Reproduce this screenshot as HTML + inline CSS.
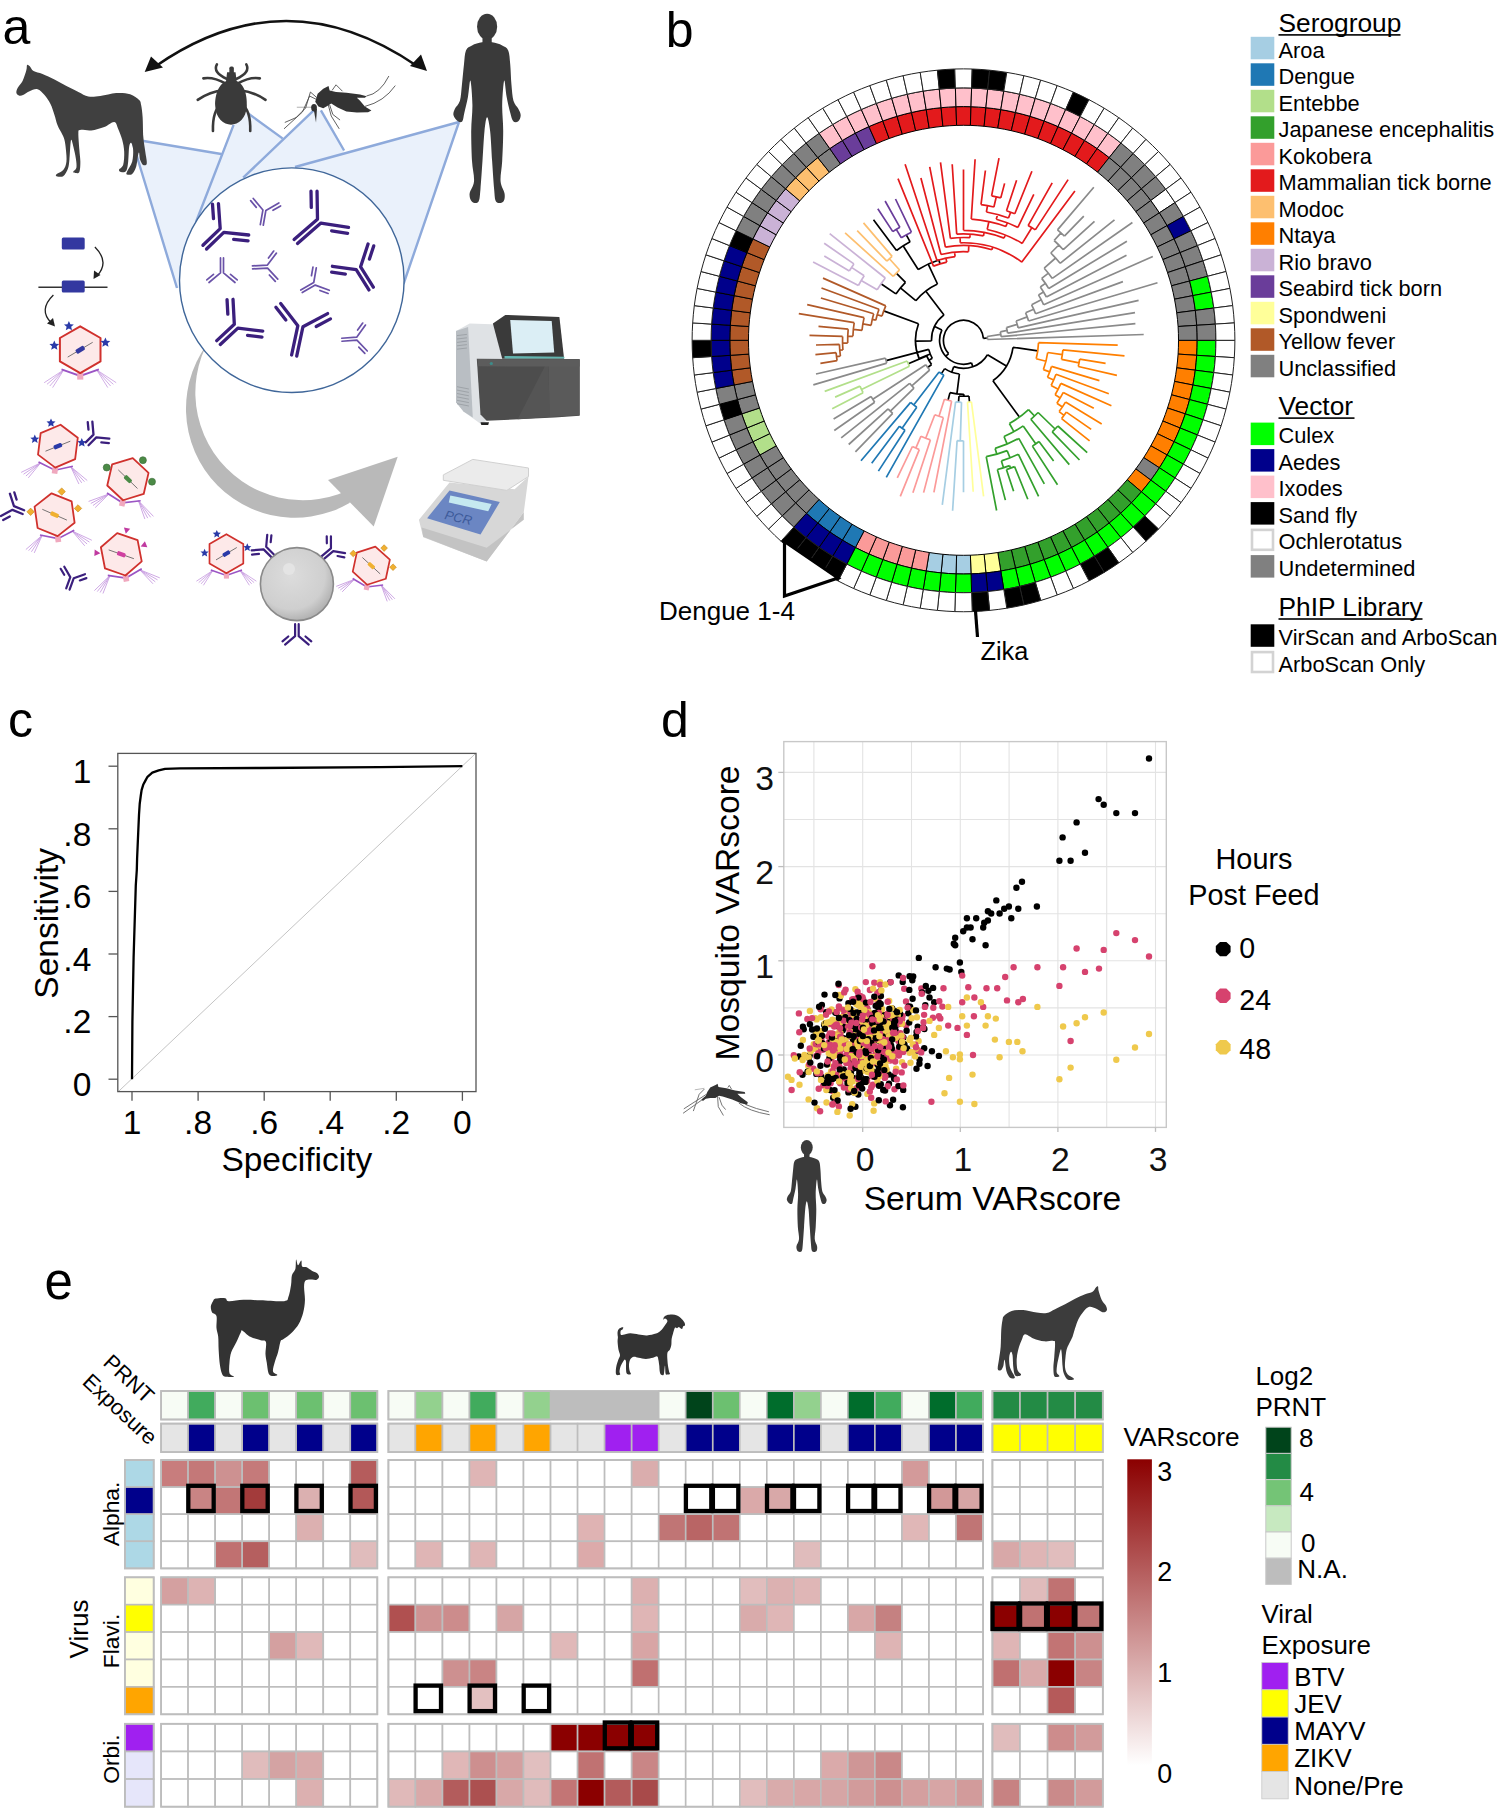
<!DOCTYPE html><html><head><meta charset="utf-8"><style>html,body{margin:0;padding:0;background:#fff;}svg{display:block;}</style></head><body><svg width="1499" height="1809" viewBox="0 0 1499 1809" font-family='"Liberation Sans", sans-serif'>
<rect width="1499" height="1809" fill="#fff"/>
<text x="2.5" y="43.6" font-size="50" text-anchor="start" fill="#000" >a</text>
<text x="665.8" y="46.8" font-size="50" text-anchor="start" fill="#000" >b</text>
<text x="8" y="737.2" font-size="50" text-anchor="start" fill="#000" >c</text>
<text x="661" y="737.3" font-size="50" text-anchor="start" fill="#000" >d</text>
<text x="44.4" y="1299.2" font-size="51" text-anchor="start" fill="#000" >e</text>
<g id="pb">
<path d="M1178.5 340.3L1197.2 340.3A233.7 233.7 0 0 1 1196.7 355.3L1178.1 354.1A215 215 0 0 0 1178.5 340.3Z" fill="#ff7f00" stroke="#000" stroke-width="1"/>
<path d="M1178.1 354.1L1196.7 355.3A233.7 233.7 0 0 1 1195.3 370.2L1176.7 367.8A215 215 0 0 0 1178.1 354.1Z" fill="#ff7f00" stroke="#000" stroke-width="1"/>
<path d="M1176.7 367.8L1195.3 370.2A233.7 233.7 0 0 1 1192.9 385L1174.5 381.4A215 215 0 0 0 1176.7 367.8Z" fill="#ff7f00" stroke="#000" stroke-width="1"/>
<path d="M1174.5 381.4L1192.9 385A233.7 233.7 0 0 1 1189.6 399.6L1171.5 394.8A215 215 0 0 0 1174.5 381.4Z" fill="#ff7f00" stroke="#000" stroke-width="1"/>
<path d="M1171.5 394.8L1189.6 399.6A233.7 233.7 0 0 1 1185.3 413.9L1167.5 408A215 215 0 0 0 1171.5 394.8Z" fill="#ff7f00" stroke="#000" stroke-width="1"/>
<path d="M1167.5 408L1185.3 413.9A233.7 233.7 0 0 1 1180.1 428L1162.8 421A215 215 0 0 0 1167.5 408Z" fill="#ff7f00" stroke="#000" stroke-width="1"/>
<path d="M1162.8 421L1180.1 428A233.7 233.7 0 0 1 1174.1 441.7L1157.2 433.6A215 215 0 0 0 1162.8 421Z" fill="#ff7f00" stroke="#000" stroke-width="1"/>
<path d="M1157.2 433.6L1174.1 441.7A233.7 233.7 0 0 1 1167.1 455L1150.8 445.8A215 215 0 0 0 1157.2 433.6Z" fill="#ff7f00" stroke="#000" stroke-width="1"/>
<path d="M1150.8 445.8L1167.1 455A233.7 233.7 0 0 1 1159.4 467.8L1143.7 457.6A215 215 0 0 0 1150.8 445.8Z" fill="#ff7f00" stroke="#000" stroke-width="1"/>
<path d="M1143.7 457.6L1159.4 467.8A233.7 233.7 0 0 1 1150.8 480.1L1135.8 468.9A215 215 0 0 0 1143.7 457.6Z" fill="#808080" stroke="#000" stroke-width="1"/>
<path d="M1135.8 468.9L1150.8 480.1A233.7 233.7 0 0 1 1141.4 491.8L1127.2 479.7A215 215 0 0 0 1135.8 468.9Z" fill="#ff7f00" stroke="#000" stroke-width="1"/>
<path d="M1127.2 479.7L1141.4 491.8A233.7 233.7 0 0 1 1131.4 502.9L1117.9 489.9A215 215 0 0 0 1127.2 479.7Z" fill="#33a02c" stroke="#000" stroke-width="1"/>
<path d="M1117.9 489.9L1131.4 502.9A233.7 233.7 0 0 1 1120.6 513.3L1108 499.5A215 215 0 0 0 1117.9 489.9Z" fill="#33a02c" stroke="#000" stroke-width="1"/>
<path d="M1108 499.5L1120.6 513.3A233.7 233.7 0 0 1 1109.2 523L1097.6 508.4A215 215 0 0 0 1108 499.5Z" fill="#33a02c" stroke="#000" stroke-width="1"/>
<path d="M1097.6 508.4L1109.2 523A233.7 233.7 0 0 1 1097.2 532L1086.5 516.6A215 215 0 0 0 1097.6 508.4Z" fill="#33a02c" stroke="#000" stroke-width="1"/>
<path d="M1086.5 516.6L1097.2 532A233.7 233.7 0 0 1 1084.6 540.1L1075 524.2A215 215 0 0 0 1086.5 516.6Z" fill="#33a02c" stroke="#000" stroke-width="1"/>
<path d="M1075 524.2L1084.6 540.1A233.7 233.7 0 0 1 1071.6 547.5L1062.9 530.9A215 215 0 0 0 1075 524.2Z" fill="#33a02c" stroke="#000" stroke-width="1"/>
<path d="M1062.9 530.9L1071.6 547.5A233.7 233.7 0 0 1 1058.1 554L1050.5 536.9A215 215 0 0 0 1062.9 530.9Z" fill="#33a02c" stroke="#000" stroke-width="1"/>
<path d="M1050.5 536.9L1058.1 554A233.7 233.7 0 0 1 1044.2 559.6L1037.8 542.1A215 215 0 0 0 1050.5 536.9Z" fill="#33a02c" stroke="#000" stroke-width="1"/>
<path d="M1037.8 542.1L1044.2 559.6A233.7 233.7 0 0 1 1030 564.3L1024.7 546.4A215 215 0 0 0 1037.8 542.1Z" fill="#33a02c" stroke="#000" stroke-width="1"/>
<path d="M1024.7 546.4L1030 564.3A233.7 233.7 0 0 1 1015.5 568.1L1011.3 549.9A215 215 0 0 0 1024.7 546.4Z" fill="#33a02c" stroke="#000" stroke-width="1"/>
<path d="M1011.3 549.9L1015.5 568.1A233.7 233.7 0 0 1 1000.8 571L997.8 552.5A215 215 0 0 0 1011.3 549.9Z" fill="#33a02c" stroke="#000" stroke-width="1"/>
<path d="M997.8 552.5L1000.8 571A233.7 233.7 0 0 1 985.9 572.9L984.1 554.3A215 215 0 0 0 997.8 552.5Z" fill="#ffff99" stroke="#000" stroke-width="1"/>
<path d="M984.1 554.3L985.9 572.9A233.7 233.7 0 0 1 971 573.9L970.4 555.2A215 215 0 0 0 984.1 554.3Z" fill="#ffff99" stroke="#000" stroke-width="1"/>
<path d="M970.4 555.2L971 573.9A233.7 233.7 0 0 1 956 573.9L956.6 555.2A215 215 0 0 0 970.4 555.2Z" fill="#a6cee3" stroke="#000" stroke-width="1"/>
<path d="M956.6 555.2L956 573.9A233.7 233.7 0 0 1 941.1 572.9L942.9 554.3A215 215 0 0 0 956.6 555.2Z" fill="#a6cee3" stroke="#000" stroke-width="1"/>
<path d="M942.9 554.3L941.1 572.9A233.7 233.7 0 0 1 926.2 571L929.2 552.5A215 215 0 0 0 942.9 554.3Z" fill="#a6cee3" stroke="#000" stroke-width="1"/>
<path d="M929.2 552.5L926.2 571A233.7 233.7 0 0 1 911.5 568.1L915.7 549.9A215 215 0 0 0 929.2 552.5Z" fill="#fb9a99" stroke="#000" stroke-width="1"/>
<path d="M915.7 549.9L911.5 568.1A233.7 233.7 0 0 1 897 564.3L902.3 546.4A215 215 0 0 0 915.7 549.9Z" fill="#fb9a99" stroke="#000" stroke-width="1"/>
<path d="M902.3 546.4L897 564.3A233.7 233.7 0 0 1 882.8 559.6L889.2 542.1A215 215 0 0 0 902.3 546.4Z" fill="#fb9a99" stroke="#000" stroke-width="1"/>
<path d="M889.2 542.1L882.8 559.6A233.7 233.7 0 0 1 868.9 554L876.5 536.9A215 215 0 0 0 889.2 542.1Z" fill="#fb9a99" stroke="#000" stroke-width="1"/>
<path d="M876.5 536.9L868.9 554A233.7 233.7 0 0 1 855.4 547.5L864.1 530.9A215 215 0 0 0 876.5 536.9Z" fill="#fb9a99" stroke="#000" stroke-width="1"/>
<path d="M864.1 530.9L855.4 547.5A233.7 233.7 0 0 1 842.4 540.1L852 524.2A215 215 0 0 0 864.1 530.9Z" fill="#1f78b4" stroke="#000" stroke-width="1"/>
<path d="M852 524.2L842.4 540.1A233.7 233.7 0 0 1 829.8 532L840.5 516.6A215 215 0 0 0 852 524.2Z" fill="#1f78b4" stroke="#000" stroke-width="1"/>
<path d="M840.5 516.6L829.8 532A233.7 233.7 0 0 1 817.8 523L829.4 508.4A215 215 0 0 0 840.5 516.6Z" fill="#1f78b4" stroke="#000" stroke-width="1"/>
<path d="M829.4 508.4L817.8 523A233.7 233.7 0 0 1 806.4 513.3L819 499.5A215 215 0 0 0 829.4 508.4Z" fill="#1f78b4" stroke="#000" stroke-width="1"/>
<path d="M819 499.5L806.4 513.3A233.7 233.7 0 0 1 795.6 502.9L809.1 489.9A215 215 0 0 0 819 499.5Z" fill="#808080" stroke="#000" stroke-width="1"/>
<path d="M809.1 489.9L795.6 502.9A233.7 233.7 0 0 1 785.6 491.8L799.8 479.7A215 215 0 0 0 809.1 489.9Z" fill="#808080" stroke="#000" stroke-width="1"/>
<path d="M799.8 479.7L785.6 491.8A233.7 233.7 0 0 1 776.2 480.1L791.2 468.9A215 215 0 0 0 799.8 479.7Z" fill="#808080" stroke="#000" stroke-width="1"/>
<path d="M791.2 468.9L776.2 480.1A233.7 233.7 0 0 1 767.6 467.8L783.3 457.6A215 215 0 0 0 791.2 468.9Z" fill="#808080" stroke="#000" stroke-width="1"/>
<path d="M783.3 457.6L767.6 467.8A233.7 233.7 0 0 1 759.9 455L776.2 445.8A215 215 0 0 0 783.3 457.6Z" fill="#808080" stroke="#000" stroke-width="1"/>
<path d="M776.2 445.8L759.9 455A233.7 233.7 0 0 1 752.9 441.7L769.8 433.6A215 215 0 0 0 776.2 445.8Z" fill="#b2df8a" stroke="#000" stroke-width="1"/>
<path d="M769.8 433.6L752.9 441.7A233.7 233.7 0 0 1 746.9 428L764.2 421A215 215 0 0 0 769.8 433.6Z" fill="#b2df8a" stroke="#000" stroke-width="1"/>
<path d="M764.2 421L746.9 428A233.7 233.7 0 0 1 741.7 413.9L759.5 408A215 215 0 0 0 764.2 421Z" fill="#b2df8a" stroke="#000" stroke-width="1"/>
<path d="M759.5 408L741.7 413.9A233.7 233.7 0 0 1 737.4 399.6L755.5 394.8A215 215 0 0 0 759.5 408Z" fill="#808080" stroke="#000" stroke-width="1"/>
<path d="M755.5 394.8L737.4 399.6A233.7 233.7 0 0 1 734.1 385L752.5 381.4A215 215 0 0 0 755.5 394.8Z" fill="#808080" stroke="#000" stroke-width="1"/>
<path d="M752.5 381.4L734.1 385A233.7 233.7 0 0 1 731.7 370.2L750.3 367.8A215 215 0 0 0 752.5 381.4Z" fill="#b15928" stroke="#000" stroke-width="1"/>
<path d="M750.3 367.8L731.7 370.2A233.7 233.7 0 0 1 730.3 355.3L748.9 354.1A215 215 0 0 0 750.3 367.8Z" fill="#b15928" stroke="#000" stroke-width="1"/>
<path d="M748.9 354.1L730.3 355.3A233.7 233.7 0 0 1 729.8 340.3L748.5 340.3A215 215 0 0 0 748.9 354.1Z" fill="#b15928" stroke="#000" stroke-width="1"/>
<path d="M748.5 340.3L729.8 340.3A233.7 233.7 0 0 1 730.3 325.3L748.9 326.5A215 215 0 0 0 748.5 340.3Z" fill="#b15928" stroke="#000" stroke-width="1"/>
<path d="M748.9 326.5L730.3 325.3A233.7 233.7 0 0 1 731.7 310.4L750.3 312.8A215 215 0 0 0 748.9 326.5Z" fill="#b15928" stroke="#000" stroke-width="1"/>
<path d="M750.3 312.8L731.7 310.4A233.7 233.7 0 0 1 734.1 295.6L752.5 299.2A215 215 0 0 0 750.3 312.8Z" fill="#b15928" stroke="#000" stroke-width="1"/>
<path d="M752.5 299.2L734.1 295.6A233.7 233.7 0 0 1 737.4 281L755.5 285.8A215 215 0 0 0 752.5 299.2Z" fill="#b15928" stroke="#000" stroke-width="1"/>
<path d="M755.5 285.8L737.4 281A233.7 233.7 0 0 1 741.7 266.7L759.5 272.6A215 215 0 0 0 755.5 285.8Z" fill="#b15928" stroke="#000" stroke-width="1"/>
<path d="M759.5 272.6L741.7 266.7A233.7 233.7 0 0 1 746.9 252.6L764.2 259.6A215 215 0 0 0 759.5 272.6Z" fill="#b15928" stroke="#000" stroke-width="1"/>
<path d="M764.2 259.6L746.9 252.6A233.7 233.7 0 0 1 752.9 238.9L769.8 247A215 215 0 0 0 764.2 259.6Z" fill="#b15928" stroke="#000" stroke-width="1"/>
<path d="M769.8 247L752.9 238.9A233.7 233.7 0 0 1 759.9 225.6L776.2 234.8A215 215 0 0 0 769.8 247Z" fill="#cab2d6" stroke="#000" stroke-width="1"/>
<path d="M776.2 234.8L759.9 225.6A233.7 233.7 0 0 1 767.6 212.8L783.3 223A215 215 0 0 0 776.2 234.8Z" fill="#cab2d6" stroke="#000" stroke-width="1"/>
<path d="M783.3 223L767.6 212.8A233.7 233.7 0 0 1 776.2 200.5L791.2 211.7A215 215 0 0 0 783.3 223Z" fill="#cab2d6" stroke="#000" stroke-width="1"/>
<path d="M791.2 211.7L776.2 200.5A233.7 233.7 0 0 1 785.6 188.8L799.8 200.9A215 215 0 0 0 791.2 211.7Z" fill="#cab2d6" stroke="#000" stroke-width="1"/>
<path d="M799.8 200.9L785.6 188.8A233.7 233.7 0 0 1 795.6 177.7L809.1 190.7A215 215 0 0 0 799.8 200.9Z" fill="#fdbf6f" stroke="#000" stroke-width="1"/>
<path d="M809.1 190.7L795.6 177.7A233.7 233.7 0 0 1 806.4 167.3L819 181.1A215 215 0 0 0 809.1 190.7Z" fill="#fdbf6f" stroke="#000" stroke-width="1"/>
<path d="M819 181.1L806.4 167.3A233.7 233.7 0 0 1 817.8 157.6L829.4 172.2A215 215 0 0 0 819 181.1Z" fill="#fdbf6f" stroke="#000" stroke-width="1"/>
<path d="M829.4 172.2L817.8 157.6A233.7 233.7 0 0 1 829.8 148.6L840.5 164A215 215 0 0 0 829.4 172.2Z" fill="#808080" stroke="#000" stroke-width="1"/>
<path d="M840.5 164L829.8 148.6A233.7 233.7 0 0 1 842.4 140.5L852 156.4A215 215 0 0 0 840.5 164Z" fill="#6a3d9a" stroke="#000" stroke-width="1"/>
<path d="M852 156.4L842.4 140.5A233.7 233.7 0 0 1 855.4 133.1L864.1 149.7A215 215 0 0 0 852 156.4Z" fill="#6a3d9a" stroke="#000" stroke-width="1"/>
<path d="M864.1 149.7L855.4 133.1A233.7 233.7 0 0 1 868.9 126.6L876.5 143.7A215 215 0 0 0 864.1 149.7Z" fill="#6a3d9a" stroke="#000" stroke-width="1"/>
<path d="M876.5 143.7L868.9 126.6A233.7 233.7 0 0 1 882.8 121L889.2 138.5A215 215 0 0 0 876.5 143.7Z" fill="#e31a1c" stroke="#000" stroke-width="1"/>
<path d="M889.2 138.5L882.8 121A233.7 233.7 0 0 1 897 116.3L902.3 134.2A215 215 0 0 0 889.2 138.5Z" fill="#e31a1c" stroke="#000" stroke-width="1"/>
<path d="M902.3 134.2L897 116.3A233.7 233.7 0 0 1 911.5 112.5L915.7 130.7A215 215 0 0 0 902.3 134.2Z" fill="#e31a1c" stroke="#000" stroke-width="1"/>
<path d="M915.7 130.7L911.5 112.5A233.7 233.7 0 0 1 926.2 109.6L929.2 128.1A215 215 0 0 0 915.7 130.7Z" fill="#e31a1c" stroke="#000" stroke-width="1"/>
<path d="M929.2 128.1L926.2 109.6A233.7 233.7 0 0 1 941.1 107.7L942.9 126.3A215 215 0 0 0 929.2 128.1Z" fill="#e31a1c" stroke="#000" stroke-width="1"/>
<path d="M942.9 126.3L941.1 107.7A233.7 233.7 0 0 1 956 106.7L956.6 125.4A215 215 0 0 0 942.9 126.3Z" fill="#e31a1c" stroke="#000" stroke-width="1"/>
<path d="M956.6 125.4L956 106.7A233.7 233.7 0 0 1 971 106.7L970.4 125.4A215 215 0 0 0 956.6 125.4Z" fill="#e31a1c" stroke="#000" stroke-width="1"/>
<path d="M970.4 125.4L971 106.7A233.7 233.7 0 0 1 985.9 107.7L984.1 126.3A215 215 0 0 0 970.4 125.4Z" fill="#e31a1c" stroke="#000" stroke-width="1"/>
<path d="M984.1 126.3L985.9 107.7A233.7 233.7 0 0 1 1000.8 109.6L997.8 128.1A215 215 0 0 0 984.1 126.3Z" fill="#e31a1c" stroke="#000" stroke-width="1"/>
<path d="M997.8 128.1L1000.8 109.6A233.7 233.7 0 0 1 1015.5 112.5L1011.3 130.7A215 215 0 0 0 997.8 128.1Z" fill="#e31a1c" stroke="#000" stroke-width="1"/>
<path d="M1011.3 130.7L1015.5 112.5A233.7 233.7 0 0 1 1030 116.3L1024.7 134.2A215 215 0 0 0 1011.3 130.7Z" fill="#e31a1c" stroke="#000" stroke-width="1"/>
<path d="M1024.7 134.2L1030 116.3A233.7 233.7 0 0 1 1044.2 121L1037.8 138.5A215 215 0 0 0 1024.7 134.2Z" fill="#e31a1c" stroke="#000" stroke-width="1"/>
<path d="M1037.8 138.5L1044.2 121A233.7 233.7 0 0 1 1058.1 126.6L1050.5 143.7A215 215 0 0 0 1037.8 138.5Z" fill="#e31a1c" stroke="#000" stroke-width="1"/>
<path d="M1050.5 143.7L1058.1 126.6A233.7 233.7 0 0 1 1071.6 133.1L1062.9 149.7A215 215 0 0 0 1050.5 143.7Z" fill="#e31a1c" stroke="#000" stroke-width="1"/>
<path d="M1062.9 149.7L1071.6 133.1A233.7 233.7 0 0 1 1084.6 140.5L1075 156.4A215 215 0 0 0 1062.9 149.7Z" fill="#e31a1c" stroke="#000" stroke-width="1"/>
<path d="M1075 156.4L1084.6 140.5A233.7 233.7 0 0 1 1097.2 148.6L1086.5 164A215 215 0 0 0 1075 156.4Z" fill="#e31a1c" stroke="#000" stroke-width="1"/>
<path d="M1086.5 164L1097.2 148.6A233.7 233.7 0 0 1 1109.2 157.6L1097.6 172.2A215 215 0 0 0 1086.5 164Z" fill="#e31a1c" stroke="#000" stroke-width="1"/>
<path d="M1097.6 172.2L1109.2 157.6A233.7 233.7 0 0 1 1120.6 167.3L1108 181.1A215 215 0 0 0 1097.6 172.2Z" fill="#808080" stroke="#000" stroke-width="1"/>
<path d="M1108 181.1L1120.6 167.3A233.7 233.7 0 0 1 1131.4 177.7L1117.9 190.7A215 215 0 0 0 1108 181.1Z" fill="#808080" stroke="#000" stroke-width="1"/>
<path d="M1117.9 190.7L1131.4 177.7A233.7 233.7 0 0 1 1141.4 188.8L1127.2 200.9A215 215 0 0 0 1117.9 190.7Z" fill="#808080" stroke="#000" stroke-width="1"/>
<path d="M1127.2 200.9L1141.4 188.8A233.7 233.7 0 0 1 1150.8 200.5L1135.8 211.7A215 215 0 0 0 1127.2 200.9Z" fill="#808080" stroke="#000" stroke-width="1"/>
<path d="M1135.8 211.7L1150.8 200.5A233.7 233.7 0 0 1 1159.4 212.8L1143.7 223A215 215 0 0 0 1135.8 211.7Z" fill="#808080" stroke="#000" stroke-width="1"/>
<path d="M1143.7 223L1159.4 212.8A233.7 233.7 0 0 1 1167.1 225.6L1150.8 234.8A215 215 0 0 0 1143.7 223Z" fill="#808080" stroke="#000" stroke-width="1"/>
<path d="M1150.8 234.8L1167.1 225.6A233.7 233.7 0 0 1 1174.1 238.9L1157.2 247A215 215 0 0 0 1150.8 234.8Z" fill="#808080" stroke="#000" stroke-width="1"/>
<path d="M1157.2 247L1174.1 238.9A233.7 233.7 0 0 1 1180.1 252.6L1162.8 259.6A215 215 0 0 0 1157.2 247Z" fill="#808080" stroke="#000" stroke-width="1"/>
<path d="M1162.8 259.6L1180.1 252.6A233.7 233.7 0 0 1 1185.3 266.7L1167.5 272.6A215 215 0 0 0 1162.8 259.6Z" fill="#808080" stroke="#000" stroke-width="1"/>
<path d="M1167.5 272.6L1185.3 266.7A233.7 233.7 0 0 1 1189.6 281L1171.5 285.8A215 215 0 0 0 1167.5 272.6Z" fill="#808080" stroke="#000" stroke-width="1"/>
<path d="M1171.5 285.8L1189.6 281A233.7 233.7 0 0 1 1192.9 295.6L1174.5 299.2A215 215 0 0 0 1171.5 285.8Z" fill="#808080" stroke="#000" stroke-width="1"/>
<path d="M1174.5 299.2L1192.9 295.6A233.7 233.7 0 0 1 1195.3 310.4L1176.7 312.8A215 215 0 0 0 1174.5 299.2Z" fill="#808080" stroke="#000" stroke-width="1"/>
<path d="M1176.7 312.8L1195.3 310.4A233.7 233.7 0 0 1 1196.7 325.3L1178.1 326.5A215 215 0 0 0 1176.7 312.8Z" fill="#808080" stroke="#000" stroke-width="1"/>
<path d="M1178.1 326.5L1196.7 325.3A233.7 233.7 0 0 1 1197.2 340.3L1178.5 340.3A215 215 0 0 0 1178.1 326.5Z" fill="#808080" stroke="#000" stroke-width="1"/>
<path d="M1197.2 340.3L1215.9 340.3A252.4 252.4 0 0 1 1215.4 356.5L1196.7 355.3A233.7 233.7 0 0 0 1197.2 340.3Z" fill="#00ff00" stroke="#000" stroke-width="1"/>
<path d="M1196.7 355.3L1215.4 356.5A252.4 252.4 0 0 1 1213.8 372.6L1195.3 370.2A233.7 233.7 0 0 0 1196.7 355.3Z" fill="#00ff00" stroke="#000" stroke-width="1"/>
<path d="M1195.3 370.2L1213.8 372.6A252.4 252.4 0 0 1 1211.2 388.5L1192.9 385A233.7 233.7 0 0 0 1195.3 370.2Z" fill="#00ff00" stroke="#000" stroke-width="1"/>
<path d="M1192.9 385L1211.2 388.5A252.4 252.4 0 0 1 1207.6 404.3L1189.6 399.6A233.7 233.7 0 0 0 1192.9 385Z" fill="#00ff00" stroke="#000" stroke-width="1"/>
<path d="M1189.6 399.6L1207.6 404.3A252.4 252.4 0 0 1 1203 419.8L1185.3 413.9A233.7 233.7 0 0 0 1189.6 399.6Z" fill="#00ff00" stroke="#000" stroke-width="1"/>
<path d="M1185.3 413.9L1203 419.8A252.4 252.4 0 0 1 1197.5 435L1180.1 428A233.7 233.7 0 0 0 1185.3 413.9Z" fill="#00ff00" stroke="#000" stroke-width="1"/>
<path d="M1180.1 428L1197.5 435A252.4 252.4 0 0 1 1190.9 449.8L1174.1 441.7A233.7 233.7 0 0 0 1180.1 428Z" fill="#00ff00" stroke="#000" stroke-width="1"/>
<path d="M1174.1 441.7L1190.9 449.8A252.4 252.4 0 0 1 1183.4 464.2L1167.1 455A233.7 233.7 0 0 0 1174.1 441.7Z" fill="#00ff00" stroke="#000" stroke-width="1"/>
<path d="M1167.1 455L1183.4 464.2A252.4 252.4 0 0 1 1175 478L1159.4 467.8A233.7 233.7 0 0 0 1167.1 455Z" fill="#00ff00" stroke="#000" stroke-width="1"/>
<path d="M1159.4 467.8L1175 478A252.4 252.4 0 0 1 1165.8 491.3L1150.8 480.1A233.7 233.7 0 0 0 1159.4 467.8Z" fill="#00ff00" stroke="#000" stroke-width="1"/>
<path d="M1150.8 480.1L1165.8 491.3A252.4 252.4 0 0 1 1155.7 503.9L1141.4 491.8A233.7 233.7 0 0 0 1150.8 480.1Z" fill="#00ff00" stroke="#000" stroke-width="1"/>
<path d="M1141.4 491.8L1155.7 503.9A252.4 252.4 0 0 1 1144.8 515.9L1131.4 502.9A233.7 233.7 0 0 0 1141.4 491.8Z" fill="#00ff00" stroke="#000" stroke-width="1"/>
<path d="M1131.4 502.9L1144.8 515.9A252.4 252.4 0 0 1 1133.2 527.1L1120.6 513.3A233.7 233.7 0 0 0 1131.4 502.9Z" fill="#00ff00" stroke="#000" stroke-width="1"/>
<path d="M1120.6 513.3L1133.2 527.1A252.4 252.4 0 0 1 1120.9 537.6L1109.2 523A233.7 233.7 0 0 0 1120.6 513.3Z" fill="#00ff00" stroke="#000" stroke-width="1"/>
<path d="M1109.2 523L1120.9 537.6A252.4 252.4 0 0 1 1107.9 547.3L1097.2 532A233.7 233.7 0 0 0 1109.2 523Z" fill="#00ff00" stroke="#000" stroke-width="1"/>
<path d="M1097.2 532L1107.9 547.3A252.4 252.4 0 0 1 1094.3 556.1L1084.6 540.1A233.7 233.7 0 0 0 1097.2 532Z" fill="#00ff00" stroke="#000" stroke-width="1"/>
<path d="M1084.6 540.1L1094.3 556.1A252.4 252.4 0 0 1 1080.2 564.1L1071.6 547.5A233.7 233.7 0 0 0 1084.6 540.1Z" fill="#00ff00" stroke="#000" stroke-width="1"/>
<path d="M1071.6 547.5L1080.2 564.1A252.4 252.4 0 0 1 1065.7 571.1L1058.1 554A233.7 233.7 0 0 0 1071.6 547.5Z" fill="#00ff00" stroke="#000" stroke-width="1"/>
<path d="M1058.1 554L1065.7 571.1A252.4 252.4 0 0 1 1050.7 577.2L1044.2 559.6A233.7 233.7 0 0 0 1058.1 554Z" fill="#00ff00" stroke="#000" stroke-width="1"/>
<path d="M1044.2 559.6L1050.7 577.2A252.4 252.4 0 0 1 1035.3 582.3L1030 564.3A233.7 233.7 0 0 0 1044.2 559.6Z" fill="#00ff00" stroke="#000" stroke-width="1"/>
<path d="M1030 564.3L1035.3 582.3A252.4 252.4 0 0 1 1019.7 586.4L1015.5 568.1A233.7 233.7 0 0 0 1030 564.3Z" fill="#00ff00" stroke="#000" stroke-width="1"/>
<path d="M1015.5 568.1L1019.7 586.4A252.4 252.4 0 0 1 1003.8 589.5L1000.8 571A233.7 233.7 0 0 0 1015.5 568.1Z" fill="#00ff00" stroke="#000" stroke-width="1"/>
<path d="M1000.8 571L1003.8 589.5A252.4 252.4 0 0 1 987.7 591.5L985.9 572.9A233.7 233.7 0 0 0 1000.8 571Z" fill="#00008b" stroke="#000" stroke-width="1"/>
<path d="M985.9 572.9L987.7 591.5A252.4 252.4 0 0 1 971.6 592.6L971 573.9A233.7 233.7 0 0 0 985.9 572.9Z" fill="#00008b" stroke="#000" stroke-width="1"/>
<path d="M971 573.9L971.6 592.6A252.4 252.4 0 0 1 955.4 592.6L956 573.9A233.7 233.7 0 0 0 971 573.9Z" fill="#00ff00" stroke="#000" stroke-width="1"/>
<path d="M956 573.9L955.4 592.6A252.4 252.4 0 0 1 939.3 591.5L941.1 572.9A233.7 233.7 0 0 0 956 573.9Z" fill="#00ff00" stroke="#000" stroke-width="1"/>
<path d="M941.1 572.9L939.3 591.5A252.4 252.4 0 0 1 923.2 589.5L926.2 571A233.7 233.7 0 0 0 941.1 572.9Z" fill="#00ff00" stroke="#000" stroke-width="1"/>
<path d="M926.2 571L923.2 589.5A252.4 252.4 0 0 1 907.3 586.4L911.5 568.1A233.7 233.7 0 0 0 926.2 571Z" fill="#00ff00" stroke="#000" stroke-width="1"/>
<path d="M911.5 568.1L907.3 586.4A252.4 252.4 0 0 1 891.7 582.3L897 564.3A233.7 233.7 0 0 0 911.5 568.1Z" fill="#00ff00" stroke="#000" stroke-width="1"/>
<path d="M897 564.3L891.7 582.3A252.4 252.4 0 0 1 876.3 577.2L882.8 559.6A233.7 233.7 0 0 0 897 564.3Z" fill="#00ff00" stroke="#000" stroke-width="1"/>
<path d="M882.8 559.6L876.3 577.2A252.4 252.4 0 0 1 861.3 571.1L868.9 554A233.7 233.7 0 0 0 882.8 559.6Z" fill="#00ff00" stroke="#000" stroke-width="1"/>
<path d="M868.9 554L861.3 571.1A252.4 252.4 0 0 1 846.8 564.1L855.4 547.5A233.7 233.7 0 0 0 868.9 554Z" fill="#00ff00" stroke="#000" stroke-width="1"/>
<path d="M855.4 547.5L846.8 564.1A252.4 252.4 0 0 1 832.7 556.1L842.4 540.1A233.7 233.7 0 0 0 855.4 547.5Z" fill="#00008b" stroke="#000" stroke-width="1"/>
<path d="M842.4 540.1L832.7 556.1A252.4 252.4 0 0 1 819.1 547.3L829.8 532A233.7 233.7 0 0 0 842.4 540.1Z" fill="#00008b" stroke="#000" stroke-width="1"/>
<path d="M829.8 532L819.1 547.3A252.4 252.4 0 0 1 806.1 537.6L817.8 523A233.7 233.7 0 0 0 829.8 532Z" fill="#00008b" stroke="#000" stroke-width="1"/>
<path d="M817.8 523L806.1 537.6A252.4 252.4 0 0 1 793.8 527.1L806.4 513.3A233.7 233.7 0 0 0 817.8 523Z" fill="#00008b" stroke="#000" stroke-width="1"/>
<path d="M806.4 513.3L793.8 527.1A252.4 252.4 0 0 1 782.2 515.9L795.6 502.9A233.7 233.7 0 0 0 806.4 513.3Z" fill="#808080" stroke="#000" stroke-width="1"/>
<path d="M795.6 502.9L782.2 515.9A252.4 252.4 0 0 1 771.3 503.9L785.6 491.8A233.7 233.7 0 0 0 795.6 502.9Z" fill="#808080" stroke="#000" stroke-width="1"/>
<path d="M785.6 491.8L771.3 503.9A252.4 252.4 0 0 1 761.2 491.3L776.2 480.1A233.7 233.7 0 0 0 785.6 491.8Z" fill="#808080" stroke="#000" stroke-width="1"/>
<path d="M776.2 480.1L761.2 491.3A252.4 252.4 0 0 1 752 478L767.6 467.8A233.7 233.7 0 0 0 776.2 480.1Z" fill="#808080" stroke="#000" stroke-width="1"/>
<path d="M767.6 467.8L752 478A252.4 252.4 0 0 1 743.6 464.2L759.9 455A233.7 233.7 0 0 0 767.6 467.8Z" fill="#808080" stroke="#000" stroke-width="1"/>
<path d="M759.9 455L743.6 464.2A252.4 252.4 0 0 1 736.1 449.8L752.9 441.7A233.7 233.7 0 0 0 759.9 455Z" fill="#808080" stroke="#000" stroke-width="1"/>
<path d="M752.9 441.7L736.1 449.8A252.4 252.4 0 0 1 729.5 435L746.9 428A233.7 233.7 0 0 0 752.9 441.7Z" fill="#808080" stroke="#000" stroke-width="1"/>
<path d="M746.9 428L729.5 435A252.4 252.4 0 0 1 724 419.8L741.7 413.9A233.7 233.7 0 0 0 746.9 428Z" fill="#808080" stroke="#000" stroke-width="1"/>
<path d="M741.7 413.9L724 419.8A252.4 252.4 0 0 1 719.4 404.3L737.4 399.6A233.7 233.7 0 0 0 741.7 413.9Z" fill="#000000" stroke="#000" stroke-width="1"/>
<path d="M737.4 399.6L719.4 404.3A252.4 252.4 0 0 1 715.8 388.5L734.1 385A233.7 233.7 0 0 0 737.4 399.6Z" fill="#808080" stroke="#000" stroke-width="1"/>
<path d="M734.1 385L715.8 388.5A252.4 252.4 0 0 1 713.2 372.6L731.7 370.2A233.7 233.7 0 0 0 734.1 385Z" fill="#00008b" stroke="#000" stroke-width="1"/>
<path d="M731.7 370.2L713.2 372.6A252.4 252.4 0 0 1 711.6 356.5L730.3 355.3A233.7 233.7 0 0 0 731.7 370.2Z" fill="#00008b" stroke="#000" stroke-width="1"/>
<path d="M730.3 355.3L711.6 356.5A252.4 252.4 0 0 1 711.1 340.3L729.8 340.3A233.7 233.7 0 0 0 730.3 355.3Z" fill="#00008b" stroke="#000" stroke-width="1"/>
<path d="M729.8 340.3L711.1 340.3A252.4 252.4 0 0 1 711.6 324.1L730.3 325.3A233.7 233.7 0 0 0 729.8 340.3Z" fill="#00008b" stroke="#000" stroke-width="1"/>
<path d="M730.3 325.3L711.6 324.1A252.4 252.4 0 0 1 713.2 308L731.7 310.4A233.7 233.7 0 0 0 730.3 325.3Z" fill="#00008b" stroke="#000" stroke-width="1"/>
<path d="M731.7 310.4L713.2 308A252.4 252.4 0 0 1 715.8 292.1L734.1 295.6A233.7 233.7 0 0 0 731.7 310.4Z" fill="#00008b" stroke="#000" stroke-width="1"/>
<path d="M734.1 295.6L715.8 292.1A252.4 252.4 0 0 1 719.4 276.3L737.4 281A233.7 233.7 0 0 0 734.1 295.6Z" fill="#00008b" stroke="#000" stroke-width="1"/>
<path d="M737.4 281L719.4 276.3A252.4 252.4 0 0 1 724 260.8L741.7 266.7A233.7 233.7 0 0 0 737.4 281Z" fill="#00008b" stroke="#000" stroke-width="1"/>
<path d="M741.7 266.7L724 260.8A252.4 252.4 0 0 1 729.5 245.6L746.9 252.6A233.7 233.7 0 0 0 741.7 266.7Z" fill="#00008b" stroke="#000" stroke-width="1"/>
<path d="M746.9 252.6L729.5 245.6A252.4 252.4 0 0 1 736.1 230.8L752.9 238.9A233.7 233.7 0 0 0 746.9 252.6Z" fill="#000000" stroke="#000" stroke-width="1"/>
<path d="M752.9 238.9L736.1 230.8A252.4 252.4 0 0 1 743.6 216.4L759.9 225.6A233.7 233.7 0 0 0 752.9 238.9Z" fill="#808080" stroke="#000" stroke-width="1"/>
<path d="M759.9 225.6L743.6 216.4A252.4 252.4 0 0 1 752 202.6L767.6 212.8A233.7 233.7 0 0 0 759.9 225.6Z" fill="#808080" stroke="#000" stroke-width="1"/>
<path d="M767.6 212.8L752 202.6A252.4 252.4 0 0 1 761.2 189.3L776.2 200.5A233.7 233.7 0 0 0 767.6 212.8Z" fill="#808080" stroke="#000" stroke-width="1"/>
<path d="M776.2 200.5L761.2 189.3A252.4 252.4 0 0 1 771.3 176.7L785.6 188.8A233.7 233.7 0 0 0 776.2 200.5Z" fill="#808080" stroke="#000" stroke-width="1"/>
<path d="M785.6 188.8L771.3 176.7A252.4 252.4 0 0 1 782.2 164.7L795.6 177.7A233.7 233.7 0 0 0 785.6 188.8Z" fill="#808080" stroke="#000" stroke-width="1"/>
<path d="M795.6 177.7L782.2 164.7A252.4 252.4 0 0 1 793.8 153.5L806.4 167.3A233.7 233.7 0 0 0 795.6 177.7Z" fill="#808080" stroke="#000" stroke-width="1"/>
<path d="M806.4 167.3L793.8 153.5A252.4 252.4 0 0 1 806.1 143L817.8 157.6A233.7 233.7 0 0 0 806.4 167.3Z" fill="#808080" stroke="#000" stroke-width="1"/>
<path d="M817.8 157.6L806.1 143A252.4 252.4 0 0 1 819.1 133.3L829.8 148.6A233.7 233.7 0 0 0 817.8 157.6Z" fill="#808080" stroke="#000" stroke-width="1"/>
<path d="M829.8 148.6L819.1 133.3A252.4 252.4 0 0 1 832.7 124.5L842.4 140.5A233.7 233.7 0 0 0 829.8 148.6Z" fill="#ffc0cb" stroke="#000" stroke-width="1"/>
<path d="M842.4 140.5L832.7 124.5A252.4 252.4 0 0 1 846.8 116.5L855.4 133.1A233.7 233.7 0 0 0 842.4 140.5Z" fill="#ffc0cb" stroke="#000" stroke-width="1"/>
<path d="M855.4 133.1L846.8 116.5A252.4 252.4 0 0 1 861.3 109.5L868.9 126.6A233.7 233.7 0 0 0 855.4 133.1Z" fill="#ffc0cb" stroke="#000" stroke-width="1"/>
<path d="M868.9 126.6L861.3 109.5A252.4 252.4 0 0 1 876.3 103.4L882.8 121A233.7 233.7 0 0 0 868.9 126.6Z" fill="#ffc0cb" stroke="#000" stroke-width="1"/>
<path d="M882.8 121L876.3 103.4A252.4 252.4 0 0 1 891.7 98.3L897 116.3A233.7 233.7 0 0 0 882.8 121Z" fill="#ffc0cb" stroke="#000" stroke-width="1"/>
<path d="M897 116.3L891.7 98.3A252.4 252.4 0 0 1 907.3 94.2L911.5 112.5A233.7 233.7 0 0 0 897 116.3Z" fill="#ffc0cb" stroke="#000" stroke-width="1"/>
<path d="M911.5 112.5L907.3 94.2A252.4 252.4 0 0 1 923.2 91.1L926.2 109.6A233.7 233.7 0 0 0 911.5 112.5Z" fill="#ffc0cb" stroke="#000" stroke-width="1"/>
<path d="M926.2 109.6L923.2 91.1A252.4 252.4 0 0 1 939.3 89.1L941.1 107.7A233.7 233.7 0 0 0 926.2 109.6Z" fill="#ffc0cb" stroke="#000" stroke-width="1"/>
<path d="M941.1 107.7L939.3 89.1A252.4 252.4 0 0 1 955.4 88L956 106.7A233.7 233.7 0 0 0 941.1 107.7Z" fill="#ffc0cb" stroke="#000" stroke-width="1"/>
<path d="M956 106.7L955.4 88A252.4 252.4 0 0 1 971.6 88L971 106.7A233.7 233.7 0 0 0 956 106.7Z" fill="#ffc0cb" stroke="#000" stroke-width="1"/>
<path d="M971 106.7L971.6 88A252.4 252.4 0 0 1 987.7 89.1L985.9 107.7A233.7 233.7 0 0 0 971 106.7Z" fill="#ffc0cb" stroke="#000" stroke-width="1"/>
<path d="M985.9 107.7L987.7 89.1A252.4 252.4 0 0 1 1003.8 91.1L1000.8 109.6A233.7 233.7 0 0 0 985.9 107.7Z" fill="#ffc0cb" stroke="#000" stroke-width="1"/>
<path d="M1000.8 109.6L1003.8 91.1A252.4 252.4 0 0 1 1019.7 94.2L1015.5 112.5A233.7 233.7 0 0 0 1000.8 109.6Z" fill="#ffc0cb" stroke="#000" stroke-width="1"/>
<path d="M1015.5 112.5L1019.7 94.2A252.4 252.4 0 0 1 1035.3 98.3L1030 116.3A233.7 233.7 0 0 0 1015.5 112.5Z" fill="#ffc0cb" stroke="#000" stroke-width="1"/>
<path d="M1030 116.3L1035.3 98.3A252.4 252.4 0 0 1 1050.7 103.4L1044.2 121A233.7 233.7 0 0 0 1030 116.3Z" fill="#ffc0cb" stroke="#000" stroke-width="1"/>
<path d="M1044.2 121L1050.7 103.4A252.4 252.4 0 0 1 1065.7 109.5L1058.1 126.6A233.7 233.7 0 0 0 1044.2 121Z" fill="#ffc0cb" stroke="#000" stroke-width="1"/>
<path d="M1058.1 126.6L1065.7 109.5A252.4 252.4 0 0 1 1080.2 116.5L1071.6 133.1A233.7 233.7 0 0 0 1058.1 126.6Z" fill="#ffc0cb" stroke="#000" stroke-width="1"/>
<path d="M1071.6 133.1L1080.2 116.5A252.4 252.4 0 0 1 1094.3 124.5L1084.6 140.5A233.7 233.7 0 0 0 1071.6 133.1Z" fill="#ffc0cb" stroke="#000" stroke-width="1"/>
<path d="M1084.6 140.5L1094.3 124.5A252.4 252.4 0 0 1 1107.9 133.3L1097.2 148.6A233.7 233.7 0 0 0 1084.6 140.5Z" fill="#ffc0cb" stroke="#000" stroke-width="1"/>
<path d="M1097.2 148.6L1107.9 133.3A252.4 252.4 0 0 1 1120.9 143L1109.2 157.6A233.7 233.7 0 0 0 1097.2 148.6Z" fill="#ffc0cb" stroke="#000" stroke-width="1"/>
<path d="M1109.2 157.6L1120.9 143A252.4 252.4 0 0 1 1133.2 153.5L1120.6 167.3A233.7 233.7 0 0 0 1109.2 157.6Z" fill="#808080" stroke="#000" stroke-width="1"/>
<path d="M1120.6 167.3L1133.2 153.5A252.4 252.4 0 0 1 1144.8 164.7L1131.4 177.7A233.7 233.7 0 0 0 1120.6 167.3Z" fill="#808080" stroke="#000" stroke-width="1"/>
<path d="M1131.4 177.7L1144.8 164.7A252.4 252.4 0 0 1 1155.7 176.7L1141.4 188.8A233.7 233.7 0 0 0 1131.4 177.7Z" fill="#808080" stroke="#000" stroke-width="1"/>
<path d="M1141.4 188.8L1155.7 176.7A252.4 252.4 0 0 1 1165.8 189.3L1150.8 200.5A233.7 233.7 0 0 0 1141.4 188.8Z" fill="#808080" stroke="#000" stroke-width="1"/>
<path d="M1150.8 200.5L1165.8 189.3A252.4 252.4 0 0 1 1175 202.6L1159.4 212.8A233.7 233.7 0 0 0 1150.8 200.5Z" fill="#ffffff" stroke="#000" stroke-width="1"/>
<path d="M1159.4 212.8L1175 202.6A252.4 252.4 0 0 1 1183.4 216.4L1167.1 225.6A233.7 233.7 0 0 0 1159.4 212.8Z" fill="#808080" stroke="#000" stroke-width="1"/>
<path d="M1167.1 225.6L1183.4 216.4A252.4 252.4 0 0 1 1190.9 230.8L1174.1 238.9A233.7 233.7 0 0 0 1167.1 225.6Z" fill="#00008b" stroke="#000" stroke-width="1"/>
<path d="M1174.1 238.9L1190.9 230.8A252.4 252.4 0 0 1 1197.5 245.6L1180.1 252.6A233.7 233.7 0 0 0 1174.1 238.9Z" fill="#808080" stroke="#000" stroke-width="1"/>
<path d="M1180.1 252.6L1197.5 245.6A252.4 252.4 0 0 1 1203 260.8L1185.3 266.7A233.7 233.7 0 0 0 1180.1 252.6Z" fill="#808080" stroke="#000" stroke-width="1"/>
<path d="M1185.3 266.7L1203 260.8A252.4 252.4 0 0 1 1207.6 276.3L1189.6 281A233.7 233.7 0 0 0 1185.3 266.7Z" fill="#808080" stroke="#000" stroke-width="1"/>
<path d="M1189.6 281L1207.6 276.3A252.4 252.4 0 0 1 1211.2 292.1L1192.9 295.6A233.7 233.7 0 0 0 1189.6 281Z" fill="#00ff00" stroke="#000" stroke-width="1"/>
<path d="M1192.9 295.6L1211.2 292.1A252.4 252.4 0 0 1 1213.8 308L1195.3 310.4A233.7 233.7 0 0 0 1192.9 295.6Z" fill="#00ff00" stroke="#000" stroke-width="1"/>
<path d="M1195.3 310.4L1213.8 308A252.4 252.4 0 0 1 1215.4 324.1L1196.7 325.3A233.7 233.7 0 0 0 1195.3 310.4Z" fill="#808080" stroke="#000" stroke-width="1"/>
<path d="M1196.7 325.3L1215.4 324.1A252.4 252.4 0 0 1 1215.9 340.3L1197.2 340.3A233.7 233.7 0 0 0 1196.7 325.3Z" fill="#808080" stroke="#000" stroke-width="1"/>
<path d="M1215.9 340.3L1234.9 340.3A271.4 271.4 0 0 1 1234.3 357.7L1215.4 356.5A252.4 252.4 0 0 0 1215.9 340.3Z" fill="#fff" stroke="#222" stroke-width="1"/>
<path d="M1215.4 356.5L1234.3 357.7A271.4 271.4 0 0 1 1232.7 375L1213.8 372.6A252.4 252.4 0 0 0 1215.4 356.5Z" fill="#fff" stroke="#222" stroke-width="1"/>
<path d="M1213.8 372.6L1232.7 375A271.4 271.4 0 0 1 1229.9 392.2L1211.2 388.5A252.4 252.4 0 0 0 1213.8 372.6Z" fill="#fff" stroke="#222" stroke-width="1"/>
<path d="M1211.2 388.5L1229.9 392.2A271.4 271.4 0 0 1 1226 409.1L1207.6 404.3A252.4 252.4 0 0 0 1211.2 388.5Z" fill="#fff" stroke="#222" stroke-width="1"/>
<path d="M1207.6 404.3L1226 409.1A271.4 271.4 0 0 1 1221.1 425.8L1203 419.8A252.4 252.4 0 0 0 1207.6 404.3Z" fill="#fff" stroke="#222" stroke-width="1"/>
<path d="M1203 419.8L1221.1 425.8A271.4 271.4 0 0 1 1215.1 442.1L1197.5 435A252.4 252.4 0 0 0 1203 419.8Z" fill="#fff" stroke="#222" stroke-width="1"/>
<path d="M1197.5 435L1215.1 442.1A271.4 271.4 0 0 1 1208 458.1L1190.9 449.8A252.4 252.4 0 0 0 1197.5 435Z" fill="#fff" stroke="#222" stroke-width="1"/>
<path d="M1190.9 449.8L1208 458.1A271.4 271.4 0 0 1 1200 473.5L1183.4 464.2A252.4 252.4 0 0 0 1190.9 449.8Z" fill="#fff" stroke="#222" stroke-width="1"/>
<path d="M1183.4 464.2L1200 473.5A271.4 271.4 0 0 1 1191 488.4L1175 478A252.4 252.4 0 0 0 1183.4 464.2Z" fill="#fff" stroke="#222" stroke-width="1"/>
<path d="M1175 478L1191 488.4A271.4 271.4 0 0 1 1181 502.6L1165.8 491.3A252.4 252.4 0 0 0 1175 478Z" fill="#fff" stroke="#222" stroke-width="1"/>
<path d="M1165.8 491.3L1181 502.6A271.4 271.4 0 0 1 1170.2 516.2L1155.7 503.9A252.4 252.4 0 0 0 1165.8 491.3Z" fill="#fff" stroke="#222" stroke-width="1"/>
<path d="M1155.7 503.9L1170.2 516.2A271.4 271.4 0 0 1 1158.5 529.1L1144.8 515.9A252.4 252.4 0 0 0 1155.7 503.9Z" fill="#fff" stroke="#222" stroke-width="1"/>
<path d="M1144.8 515.9L1158.5 529.1A271.4 271.4 0 0 1 1146 541.2L1133.2 527.1A252.4 252.4 0 0 0 1144.8 515.9Z" fill="#000" stroke="#222" stroke-width="1"/>
<path d="M1133.2 527.1L1146 541.2A271.4 271.4 0 0 1 1132.7 552.5L1120.9 537.6A252.4 252.4 0 0 0 1133.2 527.1Z" fill="#fff" stroke="#222" stroke-width="1"/>
<path d="M1120.9 537.6L1132.7 552.5A271.4 271.4 0 0 1 1118.8 562.9L1107.9 547.3A252.4 252.4 0 0 0 1120.9 537.6Z" fill="#fff" stroke="#222" stroke-width="1"/>
<path d="M1107.9 547.3L1118.8 562.9A271.4 271.4 0 0 1 1104.2 572.4L1094.3 556.1A252.4 252.4 0 0 0 1107.9 547.3Z" fill="#000" stroke="#222" stroke-width="1"/>
<path d="M1094.3 556.1L1104.2 572.4A271.4 271.4 0 0 1 1089 580.9L1080.2 564.1A252.4 252.4 0 0 0 1094.3 556.1Z" fill="#000" stroke="#222" stroke-width="1"/>
<path d="M1080.2 564.1L1089 580.9A271.4 271.4 0 0 1 1073.4 588.5L1065.7 571.1A252.4 252.4 0 0 0 1080.2 564.1Z" fill="#fff" stroke="#222" stroke-width="1"/>
<path d="M1065.7 571.1L1073.4 588.5A271.4 271.4 0 0 1 1057.2 595L1050.7 577.2A252.4 252.4 0 0 0 1065.7 571.1Z" fill="#fff" stroke="#222" stroke-width="1"/>
<path d="M1050.7 577.2L1057.2 595A271.4 271.4 0 0 1 1040.7 600.5L1035.3 582.3A252.4 252.4 0 0 0 1050.7 577.2Z" fill="#fff" stroke="#222" stroke-width="1"/>
<path d="M1035.3 582.3L1040.7 600.5A271.4 271.4 0 0 1 1023.9 604.9L1019.7 586.4A252.4 252.4 0 0 0 1035.3 582.3Z" fill="#000" stroke="#222" stroke-width="1"/>
<path d="M1019.7 586.4L1023.9 604.9A271.4 271.4 0 0 1 1006.8 608.2L1003.8 589.5A252.4 252.4 0 0 0 1019.7 586.4Z" fill="#000" stroke="#222" stroke-width="1"/>
<path d="M1003.8 589.5L1006.8 608.2A271.4 271.4 0 0 1 989.6 610.4L987.7 591.5A252.4 252.4 0 0 0 1003.8 589.5Z" fill="#fff" stroke="#222" stroke-width="1"/>
<path d="M987.7 591.5L989.6 610.4A271.4 271.4 0 0 1 972.2 611.6L971.6 592.6A252.4 252.4 0 0 0 987.7 591.5Z" fill="#000" stroke="#222" stroke-width="1"/>
<path d="M971.6 592.6L972.2 611.6A271.4 271.4 0 0 1 954.8 611.6L955.4 592.6A252.4 252.4 0 0 0 971.6 592.6Z" fill="#fff" stroke="#222" stroke-width="1"/>
<path d="M955.4 592.6L954.8 611.6A271.4 271.4 0 0 1 937.4 610.4L939.3 591.5A252.4 252.4 0 0 0 955.4 592.6Z" fill="#fff" stroke="#222" stroke-width="1"/>
<path d="M939.3 591.5L937.4 610.4A271.4 271.4 0 0 1 920.2 608.2L923.2 589.5A252.4 252.4 0 0 0 939.3 591.5Z" fill="#fff" stroke="#222" stroke-width="1"/>
<path d="M923.2 589.5L920.2 608.2A271.4 271.4 0 0 1 903.1 604.9L907.3 586.4A252.4 252.4 0 0 0 923.2 589.5Z" fill="#fff" stroke="#222" stroke-width="1"/>
<path d="M907.3 586.4L903.1 604.9A271.4 271.4 0 0 1 886.3 600.5L891.7 582.3A252.4 252.4 0 0 0 907.3 586.4Z" fill="#fff" stroke="#222" stroke-width="1"/>
<path d="M891.7 582.3L886.3 600.5A271.4 271.4 0 0 1 869.8 595L876.3 577.2A252.4 252.4 0 0 0 891.7 582.3Z" fill="#fff" stroke="#222" stroke-width="1"/>
<path d="M876.3 577.2L869.8 595A271.4 271.4 0 0 1 853.6 588.5L861.3 571.1A252.4 252.4 0 0 0 876.3 577.2Z" fill="#fff" stroke="#222" stroke-width="1"/>
<path d="M861.3 571.1L853.6 588.5A271.4 271.4 0 0 1 838 580.9L846.8 564.1A252.4 252.4 0 0 0 861.3 571.1Z" fill="#fff" stroke="#222" stroke-width="1"/>
<path d="M846.8 564.1L838 580.9A271.4 271.4 0 0 1 822.8 572.4L832.7 556.1A252.4 252.4 0 0 0 846.8 564.1Z" fill="#000" stroke="#222" stroke-width="1"/>
<path d="M832.7 556.1L822.8 572.4A271.4 271.4 0 0 1 808.2 562.9L819.1 547.3A252.4 252.4 0 0 0 832.7 556.1Z" fill="#000" stroke="#222" stroke-width="1"/>
<path d="M819.1 547.3L808.2 562.9A271.4 271.4 0 0 1 794.3 552.5L806.1 537.6A252.4 252.4 0 0 0 819.1 547.3Z" fill="#000" stroke="#222" stroke-width="1"/>
<path d="M806.1 537.6L794.3 552.5A271.4 271.4 0 0 1 781 541.2L793.8 527.1A252.4 252.4 0 0 0 806.1 537.6Z" fill="#000" stroke="#222" stroke-width="1"/>
<path d="M793.8 527.1L781 541.2A271.4 271.4 0 0 1 768.5 529.1L782.2 515.9A252.4 252.4 0 0 0 793.8 527.1Z" fill="#fff" stroke="#222" stroke-width="1"/>
<path d="M782.2 515.9L768.5 529.1A271.4 271.4 0 0 1 756.8 516.2L771.3 503.9A252.4 252.4 0 0 0 782.2 515.9Z" fill="#fff" stroke="#222" stroke-width="1"/>
<path d="M771.3 503.9L756.8 516.2A271.4 271.4 0 0 1 746 502.6L761.2 491.3A252.4 252.4 0 0 0 771.3 503.9Z" fill="#fff" stroke="#222" stroke-width="1"/>
<path d="M761.2 491.3L746 502.6A271.4 271.4 0 0 1 736 488.4L752 478A252.4 252.4 0 0 0 761.2 491.3Z" fill="#fff" stroke="#222" stroke-width="1"/>
<path d="M752 478L736 488.4A271.4 271.4 0 0 1 727 473.5L743.6 464.2A252.4 252.4 0 0 0 752 478Z" fill="#fff" stroke="#222" stroke-width="1"/>
<path d="M743.6 464.2L727 473.5A271.4 271.4 0 0 1 719 458.1L736.1 449.8A252.4 252.4 0 0 0 743.6 464.2Z" fill="#fff" stroke="#222" stroke-width="1"/>
<path d="M736.1 449.8L719 458.1A271.4 271.4 0 0 1 711.9 442.1L729.5 435A252.4 252.4 0 0 0 736.1 449.8Z" fill="#fff" stroke="#222" stroke-width="1"/>
<path d="M729.5 435L711.9 442.1A271.4 271.4 0 0 1 705.9 425.8L724 419.8A252.4 252.4 0 0 0 729.5 435Z" fill="#fff" stroke="#222" stroke-width="1"/>
<path d="M724 419.8L705.9 425.8A271.4 271.4 0 0 1 701 409.1L719.4 404.3A252.4 252.4 0 0 0 724 419.8Z" fill="#fff" stroke="#222" stroke-width="1"/>
<path d="M719.4 404.3L701 409.1A271.4 271.4 0 0 1 697.1 392.2L715.8 388.5A252.4 252.4 0 0 0 719.4 404.3Z" fill="#fff" stroke="#222" stroke-width="1"/>
<path d="M715.8 388.5L697.1 392.2A271.4 271.4 0 0 1 694.3 375L713.2 372.6A252.4 252.4 0 0 0 715.8 388.5Z" fill="#fff" stroke="#222" stroke-width="1"/>
<path d="M713.2 372.6L694.3 375A271.4 271.4 0 0 1 692.7 357.7L711.6 356.5A252.4 252.4 0 0 0 713.2 372.6Z" fill="#fff" stroke="#222" stroke-width="1"/>
<path d="M711.6 356.5L692.7 357.7A271.4 271.4 0 0 1 692.1 340.3L711.1 340.3A252.4 252.4 0 0 0 711.6 356.5Z" fill="#000" stroke="#222" stroke-width="1"/>
<path d="M711.1 340.3L692.1 340.3A271.4 271.4 0 0 1 692.7 322.9L711.6 324.1A252.4 252.4 0 0 0 711.1 340.3Z" fill="#fff" stroke="#222" stroke-width="1"/>
<path d="M711.6 324.1L692.7 322.9A271.4 271.4 0 0 1 694.3 305.6L713.2 308A252.4 252.4 0 0 0 711.6 324.1Z" fill="#fff" stroke="#222" stroke-width="1"/>
<path d="M713.2 308L694.3 305.6A271.4 271.4 0 0 1 697.1 288.4L715.8 292.1A252.4 252.4 0 0 0 713.2 308Z" fill="#fff" stroke="#222" stroke-width="1"/>
<path d="M715.8 292.1L697.1 288.4A271.4 271.4 0 0 1 701 271.5L719.4 276.3A252.4 252.4 0 0 0 715.8 292.1Z" fill="#fff" stroke="#222" stroke-width="1"/>
<path d="M719.4 276.3L701 271.5A271.4 271.4 0 0 1 705.9 254.8L724 260.8A252.4 252.4 0 0 0 719.4 276.3Z" fill="#fff" stroke="#222" stroke-width="1"/>
<path d="M724 260.8L705.9 254.8A271.4 271.4 0 0 1 711.9 238.5L729.5 245.6A252.4 252.4 0 0 0 724 260.8Z" fill="#fff" stroke="#222" stroke-width="1"/>
<path d="M729.5 245.6L711.9 238.5A271.4 271.4 0 0 1 719 222.5L736.1 230.8A252.4 252.4 0 0 0 729.5 245.6Z" fill="#fff" stroke="#222" stroke-width="1"/>
<path d="M736.1 230.8L719 222.5A271.4 271.4 0 0 1 727 207.1L743.6 216.4A252.4 252.4 0 0 0 736.1 230.8Z" fill="#fff" stroke="#222" stroke-width="1"/>
<path d="M743.6 216.4L727 207.1A271.4 271.4 0 0 1 736 192.2L752 202.6A252.4 252.4 0 0 0 743.6 216.4Z" fill="#fff" stroke="#222" stroke-width="1"/>
<path d="M752 202.6L736 192.2A271.4 271.4 0 0 1 746 178L761.2 189.3A252.4 252.4 0 0 0 752 202.6Z" fill="#fff" stroke="#222" stroke-width="1"/>
<path d="M761.2 189.3L746 178A271.4 271.4 0 0 1 756.8 164.4L771.3 176.7A252.4 252.4 0 0 0 761.2 189.3Z" fill="#fff" stroke="#222" stroke-width="1"/>
<path d="M771.3 176.7L756.8 164.4A271.4 271.4 0 0 1 768.5 151.5L782.2 164.7A252.4 252.4 0 0 0 771.3 176.7Z" fill="#fff" stroke="#222" stroke-width="1"/>
<path d="M782.2 164.7L768.5 151.5A271.4 271.4 0 0 1 781 139.4L793.8 153.5A252.4 252.4 0 0 0 782.2 164.7Z" fill="#fff" stroke="#222" stroke-width="1"/>
<path d="M793.8 153.5L781 139.4A271.4 271.4 0 0 1 794.3 128.1L806.1 143A252.4 252.4 0 0 0 793.8 153.5Z" fill="#fff" stroke="#222" stroke-width="1"/>
<path d="M806.1 143L794.3 128.1A271.4 271.4 0 0 1 808.2 117.7L819.1 133.3A252.4 252.4 0 0 0 806.1 143Z" fill="#fff" stroke="#222" stroke-width="1"/>
<path d="M819.1 133.3L808.2 117.7A271.4 271.4 0 0 1 822.8 108.2L832.7 124.5A252.4 252.4 0 0 0 819.1 133.3Z" fill="#fff" stroke="#222" stroke-width="1"/>
<path d="M832.7 124.5L822.8 108.2A271.4 271.4 0 0 1 838 99.7L846.8 116.5A252.4 252.4 0 0 0 832.7 124.5Z" fill="#fff" stroke="#222" stroke-width="1"/>
<path d="M846.8 116.5L838 99.7A271.4 271.4 0 0 1 853.6 92.1L861.3 109.5A252.4 252.4 0 0 0 846.8 116.5Z" fill="#fff" stroke="#222" stroke-width="1"/>
<path d="M861.3 109.5L853.6 92.1A271.4 271.4 0 0 1 869.8 85.6L876.3 103.4A252.4 252.4 0 0 0 861.3 109.5Z" fill="#fff" stroke="#222" stroke-width="1"/>
<path d="M876.3 103.4L869.8 85.6A271.4 271.4 0 0 1 886.3 80.1L891.7 98.3A252.4 252.4 0 0 0 876.3 103.4Z" fill="#fff" stroke="#222" stroke-width="1"/>
<path d="M891.7 98.3L886.3 80.1A271.4 271.4 0 0 1 903.1 75.7L907.3 94.2A252.4 252.4 0 0 0 891.7 98.3Z" fill="#fff" stroke="#222" stroke-width="1"/>
<path d="M907.3 94.2L903.1 75.7A271.4 271.4 0 0 1 920.2 72.4L923.2 91.1A252.4 252.4 0 0 0 907.3 94.2Z" fill="#fff" stroke="#222" stroke-width="1"/>
<path d="M923.2 91.1L920.2 72.4A271.4 271.4 0 0 1 937.4 70.2L939.3 89.1A252.4 252.4 0 0 0 923.2 91.1Z" fill="#fff" stroke="#222" stroke-width="1"/>
<path d="M939.3 89.1L937.4 70.2A271.4 271.4 0 0 1 954.8 69L955.4 88A252.4 252.4 0 0 0 939.3 89.1Z" fill="#000" stroke="#222" stroke-width="1"/>
<path d="M955.4 88L954.8 69A271.4 271.4 0 0 1 972.2 69L971.6 88A252.4 252.4 0 0 0 955.4 88Z" fill="#fff" stroke="#222" stroke-width="1"/>
<path d="M971.6 88L972.2 69A271.4 271.4 0 0 1 989.6 70.2L987.7 89.1A252.4 252.4 0 0 0 971.6 88Z" fill="#000" stroke="#222" stroke-width="1"/>
<path d="M987.7 89.1L989.6 70.2A271.4 271.4 0 0 1 1006.8 72.4L1003.8 91.1A252.4 252.4 0 0 0 987.7 89.1Z" fill="#000" stroke="#222" stroke-width="1"/>
<path d="M1003.8 91.1L1006.8 72.4A271.4 271.4 0 0 1 1023.9 75.7L1019.7 94.2A252.4 252.4 0 0 0 1003.8 91.1Z" fill="#fff" stroke="#222" stroke-width="1"/>
<path d="M1019.7 94.2L1023.9 75.7A271.4 271.4 0 0 1 1040.7 80.1L1035.3 98.3A252.4 252.4 0 0 0 1019.7 94.2Z" fill="#fff" stroke="#222" stroke-width="1"/>
<path d="M1035.3 98.3L1040.7 80.1A271.4 271.4 0 0 1 1057.2 85.6L1050.7 103.4A252.4 252.4 0 0 0 1035.3 98.3Z" fill="#fff" stroke="#222" stroke-width="1"/>
<path d="M1050.7 103.4L1057.2 85.6A271.4 271.4 0 0 1 1073.4 92.1L1065.7 109.5A252.4 252.4 0 0 0 1050.7 103.4Z" fill="#fff" stroke="#222" stroke-width="1"/>
<path d="M1065.7 109.5L1073.4 92.1A271.4 271.4 0 0 1 1089 99.7L1080.2 116.5A252.4 252.4 0 0 0 1065.7 109.5Z" fill="#000" stroke="#222" stroke-width="1"/>
<path d="M1080.2 116.5L1089 99.7A271.4 271.4 0 0 1 1104.2 108.2L1094.3 124.5A252.4 252.4 0 0 0 1080.2 116.5Z" fill="#fff" stroke="#222" stroke-width="1"/>
<path d="M1094.3 124.5L1104.2 108.2A271.4 271.4 0 0 1 1118.8 117.7L1107.9 133.3A252.4 252.4 0 0 0 1094.3 124.5Z" fill="#fff" stroke="#222" stroke-width="1"/>
<path d="M1107.9 133.3L1118.8 117.7A271.4 271.4 0 0 1 1132.7 128.1L1120.9 143A252.4 252.4 0 0 0 1107.9 133.3Z" fill="#fff" stroke="#222" stroke-width="1"/>
<path d="M1120.9 143L1132.7 128.1A271.4 271.4 0 0 1 1146 139.4L1133.2 153.5A252.4 252.4 0 0 0 1120.9 143Z" fill="#fff" stroke="#222" stroke-width="1"/>
<path d="M1133.2 153.5L1146 139.4A271.4 271.4 0 0 1 1158.5 151.5L1144.8 164.7A252.4 252.4 0 0 0 1133.2 153.5Z" fill="#fff" stroke="#222" stroke-width="1"/>
<path d="M1144.8 164.7L1158.5 151.5A271.4 271.4 0 0 1 1170.2 164.4L1155.7 176.7A252.4 252.4 0 0 0 1144.8 164.7Z" fill="#fff" stroke="#222" stroke-width="1"/>
<path d="M1155.7 176.7L1170.2 164.4A271.4 271.4 0 0 1 1181 178L1165.8 189.3A252.4 252.4 0 0 0 1155.7 176.7Z" fill="#fff" stroke="#222" stroke-width="1"/>
<path d="M1165.8 189.3L1181 178A271.4 271.4 0 0 1 1191 192.2L1175 202.6A252.4 252.4 0 0 0 1165.8 189.3Z" fill="#fff" stroke="#222" stroke-width="1"/>
<path d="M1175 202.6L1191 192.2A271.4 271.4 0 0 1 1200 207.1L1183.4 216.4A252.4 252.4 0 0 0 1175 202.6Z" fill="#fff" stroke="#222" stroke-width="1"/>
<path d="M1183.4 216.4L1200 207.1A271.4 271.4 0 0 1 1208 222.5L1190.9 230.8A252.4 252.4 0 0 0 1183.4 216.4Z" fill="#fff" stroke="#222" stroke-width="1"/>
<path d="M1190.9 230.8L1208 222.5A271.4 271.4 0 0 1 1215.1 238.5L1197.5 245.6A252.4 252.4 0 0 0 1190.9 230.8Z" fill="#fff" stroke="#222" stroke-width="1"/>
<path d="M1197.5 245.6L1215.1 238.5A271.4 271.4 0 0 1 1221.1 254.8L1203 260.8A252.4 252.4 0 0 0 1197.5 245.6Z" fill="#fff" stroke="#222" stroke-width="1"/>
<path d="M1203 260.8L1221.1 254.8A271.4 271.4 0 0 1 1226 271.5L1207.6 276.3A252.4 252.4 0 0 0 1203 260.8Z" fill="#fff" stroke="#222" stroke-width="1"/>
<path d="M1207.6 276.3L1226 271.5A271.4 271.4 0 0 1 1229.9 288.4L1211.2 292.1A252.4 252.4 0 0 0 1207.6 276.3Z" fill="#fff" stroke="#222" stroke-width="1"/>
<path d="M1211.2 292.1L1229.9 288.4A271.4 271.4 0 0 1 1232.7 305.6L1213.8 308A252.4 252.4 0 0 0 1211.2 292.1Z" fill="#fff" stroke="#222" stroke-width="1"/>
<path d="M1213.8 308L1232.7 305.6A271.4 271.4 0 0 1 1234.3 322.9L1215.4 324.1A252.4 252.4 0 0 0 1213.8 308Z" fill="#fff" stroke="#222" stroke-width="1"/>
<path d="M1215.4 324.1L1234.3 322.9A271.4 271.4 0 0 1 1234.9 340.3L1215.9 340.3A252.4 252.4 0 0 0 1215.4 324.1Z" fill="#fff" stroke="#222" stroke-width="1"/>
<path d="M948.6 353.6A20 20 0 1 1 983.4 338.4M983.4 338.4L987.4 338M948.6 353.6L945.6 356.3M971.5 362.9A24 24 0 0 1 941.9 329.9M941.9 329.9L934.7 326.4M931.5 340.9A32 32 0 0 1 944 314.9M944 314.9L925.7 291.1M915.8 300.7A62 62 0 0 1 937.5 284M937.5 284L928.2 264.1M918.2 269.5A84 84 0 0 1 938.9 260M938.9 260L940 263.8M918.2 269.5L905.3 249.3M905.3 249.3A108 108 0 0 1 905.3 249.3M905.3 249.3L903.2 245.9M896.5 250.5A112 112 0 0 1 910.1 241.8M896.5 250.5L873.5 219.7M910.1 241.8L906.3 234.8M915.8 300.7L900.4 287.9M895.9 293.9A82 82 0 0 1 905.5 282.3M895.9 293.9L881 283.7M905.5 282.3L896.3 273.1M931.5 340.9L915.5 341.2M919.1 358.6A48 48 0 0 1 918.5 323.7M918.5 323.7L883.7 310.9M919.1 358.6L930.2 354M932.3 358.3A36 36 0 0 1 928.7 349.4M928.7 349.4L886.1 360.6M932.3 358.3L928.9 360.3M931.6 364.5A40 40 0 0 1 926.7 355.9M926.7 355.9L908.3 363.7M931.6 364.5L927.7 367.5M971.5 362.9L972.8 366.7M987.5 354.7A28 28 0 0 1 953.8 366.6M953.8 366.6L951.7 372.2M959.4 374A34 34 0 0 1 944.7 368.6M944.7 368.6L941.4 373.6M959.4 374L956.9 393.9M963.9 394.3A54 54 0 0 1 950 392.6M950 392.6L948 400.3M963.9 394.3L963.9 396.3M968.9 396A56 56 0 0 1 959 396.1M959 396.1L958.5 402.1M968.9 396L969.5 402M987.5 354.7L1006.4 366.1M1013 347.3A50 50 0 0 1 992.9 380.7M992.9 380.7L1019.4 417.1M1013 347.3L1037.8 350.8" fill="none" stroke="#000" stroke-width="1.7"/>
<path d="M987.2 336.5A24 24 0 0 1 987.5 339.5M987.2 336.5L1000.8 334.3M1000.3 331.9A37.8 37.8 0 0 1 1001.1 336.7M1000.3 331.9L1007.1 330.4M1006.4 327.6A44.7 44.7 0 0 1 1007.6 333.2M1006.4 327.6L1017.2 324.4M1016.1 321A56 56 0 0 1 1018.1 327.8M1016.1 321L1027.2 316.9M1025.6 312.8A67.9 67.9 0 0 1 1028.6 321M1025.6 312.8L1033.7 309.2M1031.6 304.8A76.8 76.8 0 0 1 1035.6 313.8M1031.6 304.8L1041.3 299.8M1038.5 294.9A87.7 87.7 0 0 1 1043.7 304.8M1038.5 294.9L1043.5 291.9M1040.3 287A93.5 93.5 0 0 1 1046.4 297M1040.3 287L1045.4 283.4M1041.7 278.4A99.7 99.7 0 0 1 1048.8 288.6M1041.7 278.4L1048.4 273.2M1044.2 268.2A108.2 108.2 0 0 1 1052.3 278.4M1044.2 268.2L1055.6 258M1050.8 253A123.5 123.5 0 0 1 1060.1 263.3M1050.8 253L1058.8 245M1054.1 240.5A134.8 134.8 0 0 1 1063.3 249.7M1054.1 240.5L1061 232.9M1057.5 229.9A145.1 145.1 0 0 1 1064.4 236.1M1057.5 229.9L1093.8 187.2M1064.4 236.1L1083.8 216.1M1063.3 249.7L1094.5 221.4M1060.1 263.3L1114.5 219.9M1052.3 278.4L1132.4 222.5M1048.8 288.6L1126.9 241.2M1046.4 297L1126.5 255.3M1043.7 304.8L1152.8 256.5M1035.6 313.8L1122.9 281.6M1028.6 321L1157.5 282.7M1018.1 327.8L1138.6 300.3M1007.6 333.2L1135 312.6M1001.1 336.7L1135.4 323.7M987.5 339.5L1143.7 334.5M886.8 363.1A80 80 0 0 1 885.5 358.1M886.8 363.1L813.3 384.9M885.5 358.1L816 374M929.7 370A45 45 0 0 1 925.8 364.8M929.7 370L911.8 385.8M914 388.2A68.9 68.9 0 0 1 909.6 383.3M914 388.2L890.4 411.1M892.7 413.4A101.8 101.8 0 0 1 888.1 408.8M892.7 413.4L855.4 451.9M888.1 408.8L848.7 444.5M909.6 383.3L841.2 437.8M925.8 364.8L872.8 399.3M874.7 402.2A108.2 108.2 0 0 1 871 396.4M874.7 402.2L834.3 430.5M871 396.4L833.6 419.1" fill="none" stroke="#8a8a8a" stroke-width="1.7"/>
<path d="M933.5 266.1A80 80 0 0 1 946.8 262.1M933.5 266.1L898 178.6M946.8 262.1L945.9 258.1M937 260.5A84 84 0 0 1 955.1 256.7M937 260.5L905.1 164.3M955.1 256.7L954.6 252.1M941 254.5A88.7 88.7 0 0 1 968.5 251.8M941 254.5L920.9 178M968.5 251.8L968.8 245.6M945.4 247.2A94.8 94.8 0 0 1 991.9 249.8M945.4 247.2L929.7 166.8M991.9 249.8L992.7 247.2M960.3 242.8A97.5 97.5 0 0 1 1021.8 262.1M960.3 242.8L960.1 237.6M950.4 238.4A102.8 102.8 0 0 1 969.9 237.7M950.4 238.4L940.5 162.3M969.9 237.7L970.1 234.1M956.7 234.1A106.4 106.4 0 0 1 983.5 235.8M956.7 234.1L952.2 164.3M983.5 235.8L984.1 232.3M963.5 230.3A110 110 0 0 1 1004 238.1M963.5 230.3L963.5 169.4M1004 238.1L1005.3 235M987.2 229.5A113.3 113.3 0 0 1 1022.2 243.4M987.2 229.5L988.9 221.5M971.3 219.1A121.5 121.5 0 0 1 1005.9 226.5M971.3 219.1L975.1 159.3M1005.9 226.5L1007.3 222.9M996.3 219.3A125.3 125.3 0 0 1 1017.9 227.4M996.3 219.3L997.6 214.5M986.4 212A130.3 130.3 0 0 1 1008.5 218M986.4 212L987.5 205.7M981 204.7A136.8 136.8 0 0 1 993.9 207M981 204.7L985.4 170.5M993.9 207L996.3 196.8M991.6 195.8A147.2 147.2 0 0 1 1000.8 197.9M991.6 195.8L999 158.2M1000.8 197.9L1004.6 183.4M1008.5 218L1010.7 212.1M1006.5 210.7A136.6 136.6 0 0 1 1014.8 213.7M1006.5 210.7L1016.6 180.3M1014.8 213.7L1031.9 171.3M1017.9 227.4L1033.8 194.3M1022.2 243.4L1031.8 227.7M1028.1 225.6A131.7 131.7 0 0 1 1035.3 229.9M1028.1 225.6L1052.2 182.8M1035.3 229.9L1068.1 179.6M1021.8 262.1L1074.9 191" fill="none" stroke="#e31a1c" stroke-width="1.7"/>
<path d="M901.3 237.7A120 120 0 0 1 911.4 232.2M901.3 237.7L896.3 229.4M892.8 231.6A129.7 129.7 0 0 1 899.9 227.3M892.8 231.6L877.8 208.7M899.9 227.3L885.1 201M911.4 232.2L895.5 199" fill="none" stroke="#6a3d9a" stroke-width="1.7"/>
<path d="M877.2 289.8A100 100 0 0 1 885.3 278M877.2 289.8L861.2 280.5M858.4 285.5A118.5 118.5 0 0 1 864.2 275.7M858.4 285.5L813.1 261.9M864.2 275.7L851.5 267.4M849.3 271A133.6 133.6 0 0 1 853.9 263.9M849.3 271L824.3 255.9M853.9 263.9L824.2 243.2M885.3 278L829.7 233.6" fill="none" stroke="#cab2d6" stroke-width="1.7"/>
<path d="M893.2 276.4A95 95 0 0 1 899.6 270M893.2 276.4L845.1 232.8M899.6 270L889.4 258.7M886.9 261.2A110.2 110.2 0 0 1 892.1 256.4M886.9 261.2L857.2 230.6M892.1 256.4L863.5 222.9" fill="none" stroke="#fdbf6f" stroke-width="1.7"/>
<path d="M882 316.1A85 85 0 0 1 885.8 305.9M882 316.1L877.2 314.7M875.8 320.2A90 90 0 0 1 879 309.2M875.8 320.2L872.2 319.4M871.1 325.3A93.7 93.7 0 0 1 873.7 313.7M871.1 325.3L862.8 323.9M862 330.3A102 102 0 0 1 864.1 317.6M862 330.3L853.3 329.4M852.9 336.3A110.7 110.7 0 0 1 854.2 322.6M852.9 336.3L847.8 336.1M847.7 343.1A115.8 115.8 0 0 1 848.2 329.2M847.7 343.1L842.5 343.2M842.9 350A121 121 0 0 1 842.6 336.4M842.9 350L839.8 350.2M840.4 356.2A124.1 124.1 0 0 1 839.4 344.3M840.4 356.2L836.5 356.7M837.1 360.7A128 128 0 0 1 836.1 352.6M837.1 360.7L820.4 363.4M836.1 352.6L815.4 354.6M839.4 344.3L816 345M842.6 336.4L809.5 335.4M848.2 329.2L818.5 326.3M854.2 322.6L798.8 313.7M864.1 317.6L807.2 304.6M873.7 313.7L820.9 298M879 309.2L821.5 288M885.8 305.9L823 278.1" fill="none" stroke="#b15928" stroke-width="1.7"/>
<path d="M909.4 366.3A60 60 0 0 1 907.2 361M909.4 366.3L861.5 389.4M863.1 392.7A113.2 113.2 0 0 1 860 386.1M863.1 392.7L832.2 408.8M860 386.1L835.1 397.1M907.2 361L824.7 391.4" fill="none" stroke="#b2df8a" stroke-width="1.7"/>
<path d="M943.9 375.2A40 40 0 0 1 939.1 372M943.9 375.2L886.3 477.4M939.1 372L913.7 404.9M916.8 407.2A81.6 81.6 0 0 1 910.6 402.4M916.8 407.2L902.1 428.3M905 430.2A107.2 107.2 0 0 1 899.4 426.2M905 430.2L878.4 471.1M899.4 426.2L871.7 463.3M910.6 402.4L861 460.7" fill="none" stroke="#1f78b4" stroke-width="1.7"/>
<path d="M951.6 401.2A62 62 0 0 1 944.4 399.3M951.6 401.2L933.9 492.3M944.4 399.3L939 416.2M943.3 417.5A79.8 79.8 0 0 1 934.8 414.7M943.3 417.5L923.6 492.6M934.8 414.7L925.7 438.2M930.4 439.9A104.9 104.9 0 0 1 921 436.2M930.4 439.9L912.9 492.7M921 436.2L915.8 448.1M919.3 449.6A117.9 117.9 0 0 1 912.4 446.5M919.3 449.6L900.3 496.4M912.4 446.5L897.3 477.8" fill="none" stroke="#fb9a99" stroke-width="1.7"/>
<path d="M961.5 402.3A62 62 0 0 1 955.6 401.8M961.5 402.3L960.3 440.8M963.5 440.8A100.5 100.5 0 0 1 957.1 440.6M963.5 440.8L963.5 492.2M957.1 440.6L952.6 510.8M955.6 401.8L942.3 504.8" fill="none" stroke="#a6cee3" stroke-width="1.7"/>
<path d="M971.4 401.8A62 62 0 0 1 967.5 402.2M971.4 401.8L983.6 496.3M967.5 402.2L973.2 491.7" fill="none" stroke="#ffff99" stroke-width="1.7"/>
<path d="M1028.5 409.6A95 95 0 0 1 1009.4 423.5M1028.5 409.6L1034.5 416M1038.1 412.5A103.8 103.8 0 0 1 1030.8 419.3M1038.1 412.5L1055.1 429M1057.9 426A127.5 127.5 0 0 1 1052.2 431.9M1057.9 426L1087.2 452.7M1052.2 431.9L1079.5 460M1030.8 419.3L1069.3 464.6M1009.4 423.5L1013.9 431.7M1023.2 425.9A104.4 104.4 0 0 1 1004 436.5M1023.2 425.9L1035.7 443.8M1039 441.5A126.2 126.2 0 0 1 1032.4 446.1M1039 441.5L1053.6 461M1032.4 446.1L1057.5 484.8M1004 436.5L1007.2 444.1M1018.8 438.4A112.6 112.6 0 0 1 995.1 448.4M1018.8 438.4L1044.3 483.8M995.1 448.4L996.8 454.1M1007.1 450.6A118.6 118.6 0 0 1 986.2 456.7M1007.1 450.6L1010 457.8M1018.3 454.2A126.4 126.4 0 0 1 1001.4 460.9M1018.3 454.2L1038.6 496.3M1001.4 460.9L1003.5 467.7M1009.6 465.6A133.5 133.5 0 0 1 997.4 469.5M1009.6 465.6L1010.5 468.1M1014.6 466.6A136.2 136.2 0 0 1 1006.4 469.6M1014.6 466.6L1027.8 499.2M1006.4 469.6L1013.6 491.3M997.4 469.5L1005.4 500.1M986.2 456.7L996.6 510.5" fill="none" stroke="#33a02c" stroke-width="1.7"/>
<path d="M1038.5 342.7A75 75 0 0 1 1036.2 358.7M1038.5 342.7L1117.7 345.2M1036.2 358.7L1046 361.2M1047.7 352.5A85.1 85.1 0 0 1 1043.4 369.6M1047.7 352.5L1062.3 354.7M1062.9 349.9A99.8 99.8 0 0 1 1061.5 359.4M1062.9 349.9L1124.5 355.8M1061.5 359.4L1079.1 362.8M1079.7 359.1A117.7 117.7 0 0 1 1078.3 366.5M1079.7 359.1L1105.6 363.3M1078.3 366.5L1116.9 375.3M1043.4 369.6L1049.7 371.9M1051.5 366.4A91.8 91.8 0 0 1 1047.5 377.3M1051.5 366.4L1099.4 380.6M1047.5 377.3L1053.7 380M1056 374.3A98.6 98.6 0 0 1 1051.1 385.5M1056 374.3L1108.8 393.8M1051.1 385.5L1058.2 389.2M1060.9 383.4A106.6 106.6 0 0 1 1055.1 394.8M1060.9 383.4L1111.4 405.8M1055.1 394.8L1060.3 397.9M1063.3 392.4A112.6 112.6 0 0 1 1056.9 403.2M1063.3 392.4L1093.8 408.3M1056.9 403.2L1062.4 407M1065.5 402.1A119.3 119.3 0 0 1 1059.1 411.6M1065.5 402.1L1101.7 424.1M1059.1 411.6L1064.1 415.4M1066.4 412.1A125.5 125.5 0 0 1 1061.6 418.6M1066.4 412.1L1091.2 429.4M1061.6 418.6L1089.6 440.9" fill="none" stroke="#ff7f00" stroke-width="1.7"/>
<path d="M784.5 541.5 L784.5 596 L838 578 Z" fill="#fff" stroke="#000" stroke-width="3.2" stroke-linejoin="miter"/>
<text x="659" y="619.7" font-size="26" text-anchor="start" fill="#000" >Dengue 1-4</text>
<path d="M975.5 611 L977.5 637" stroke="#000" stroke-width="3.2"/>
<text x="980.5" y="660.1" font-size="25.3" text-anchor="start" fill="#000" >Zika</text>
</g>
<text x="1278.5" y="31.9" font-size="26.3" text-anchor="start" fill="#000" >Serogroup</text>
<rect x="1278.5" y="34.1" width="122" height="1.6" fill="#000"/>
<rect x="1250.7" y="36.8" width="23.6" height="22.5" fill="#a6cee3"/>
<text x="1278.5" y="57.6" font-size="21.8" text-anchor="start" fill="#000" >Aroa</text>
<rect x="1250.7" y="63.3" width="23.6" height="22.5" fill="#1f78b4"/>
<text x="1278.5" y="84.1" font-size="21.8" text-anchor="start" fill="#000" >Dengue</text>
<rect x="1250.7" y="89.8" width="23.6" height="22.5" fill="#b2df8a"/>
<text x="1278.5" y="110.6" font-size="21.8" text-anchor="start" fill="#000" >Entebbe</text>
<rect x="1250.7" y="116.3" width="23.6" height="22.5" fill="#33a02c"/>
<text x="1278.5" y="137.1" font-size="21.8" text-anchor="start" fill="#000" >Japanese encephalitis</text>
<rect x="1250.7" y="142.8" width="23.6" height="22.5" fill="#fb9a99"/>
<text x="1278.5" y="163.6" font-size="21.8" text-anchor="start" fill="#000" >Kokobera</text>
<rect x="1250.7" y="169.3" width="23.6" height="22.5" fill="#e31a1c"/>
<text x="1278.5" y="190.1" font-size="21.8" text-anchor="start" fill="#000" >Mammalian tick borne</text>
<rect x="1250.7" y="195.8" width="23.6" height="22.5" fill="#fdbf6f"/>
<text x="1278.5" y="216.6" font-size="21.8" text-anchor="start" fill="#000" >Modoc</text>
<rect x="1250.7" y="222.3" width="23.6" height="22.5" fill="#ff7f00"/>
<text x="1278.5" y="243.1" font-size="21.8" text-anchor="start" fill="#000" >Ntaya</text>
<rect x="1250.7" y="248.8" width="23.6" height="22.5" fill="#cab2d6"/>
<text x="1278.5" y="269.6" font-size="21.8" text-anchor="start" fill="#000" >Rio bravo</text>
<rect x="1250.7" y="275.3" width="23.6" height="22.5" fill="#6a3d9a"/>
<text x="1278.5" y="296.1" font-size="21.8" text-anchor="start" fill="#000" >Seabird tick born</text>
<rect x="1250.7" y="301.8" width="23.6" height="22.5" fill="#ffff99"/>
<text x="1278.5" y="322.6" font-size="21.8" text-anchor="start" fill="#000" >Spondweni</text>
<rect x="1250.7" y="328.3" width="23.6" height="22.5" fill="#b15928"/>
<text x="1278.5" y="349.1" font-size="21.8" text-anchor="start" fill="#000" >Yellow fever</text>
<rect x="1250.7" y="354.8" width="23.6" height="22.5" fill="#808080"/>
<text x="1278.5" y="375.6" font-size="21.8" text-anchor="start" fill="#000" >Unclassified</text>
<text x="1278.5" y="415.1" font-size="26.3" text-anchor="start" fill="#000" >Vector</text>
<rect x="1278.5" y="417.3" width="76" height="1.6" fill="#000"/>
<rect x="1250.7" y="422.6" width="23.6" height="22.5" fill="#00ff00"/>
<text x="1278.5" y="443.4" font-size="21.8" text-anchor="start" fill="#000" >Culex</text>
<rect x="1250.7" y="449.1" width="23.6" height="22.5" fill="#00008b"/>
<text x="1278.5" y="469.9" font-size="21.8" text-anchor="start" fill="#000" >Aedes</text>
<rect x="1250.7" y="475.6" width="23.6" height="22.5" fill="#ffc0cb"/>
<text x="1278.5" y="496.4" font-size="21.8" text-anchor="start" fill="#000" >Ixodes</text>
<rect x="1250.7" y="502.1" width="23.6" height="22.5" fill="#000000"/>
<text x="1278.5" y="522.9" font-size="21.8" text-anchor="start" fill="#000" >Sand fly</text>
<rect x="1252.0" y="529.9" width="21.0" height="19.9" fill="#fff" stroke="#d3d3d3" stroke-width="2.6"/>
<text x="1278.5" y="549.4" font-size="21.8" text-anchor="start" fill="#000" >Ochlerotatus</text>
<rect x="1250.7" y="555.1" width="23.6" height="22.5" fill="#808080"/>
<text x="1278.5" y="575.9" font-size="21.8" text-anchor="start" fill="#000" >Undetermined</text>
<text x="1278.5" y="616" font-size="26.3" text-anchor="start" fill="#000" >PhIP Library</text>
<rect x="1278.5" y="618.2" width="144" height="1.6" fill="#000"/>
<rect x="1250.7" y="624.3" width="23.6" height="22.5" fill="#000"/>
<text x="1278.5" y="645.1" font-size="21.8" text-anchor="start" fill="#000" >VirScan and ArboScan</text>
<rect x="1252.0" y="652.1" width="21.0" height="19.9" fill="#fff" stroke="#d3d3d3" stroke-width="2.6"/>
<text x="1278.5" y="671.6" font-size="21.8" text-anchor="start" fill="#000" >ArboScan Only</text>
<defs><clipPath id="cclip"><rect x="117.8" y="753.4" width="358.2" height="338.19999999999993"/></clipPath></defs>
<line x1="117.8" y1="1092.1" x2="476.0" y2="753.1" stroke="#c4c4c4" stroke-width="1" clip-path="url(#cclip)"/>
<path d="M132 1079.2L132.4 1021.6L133.6 957.5L135.8 885L136.8 870L137.1 858.5L138.2 832.9L139 814.7L139.7 804L140.8 795.5L141.6 790.2L143.2 784.8L145.4 780.6L147.5 776.8L152.3 772.6L158.7 770.4L165.1 768.8L180 768.3L260 768L380 767.2L462.4 766.2" fill="none" stroke="#000" stroke-width="2.3" stroke-linejoin="round"/>
<rect x="117.8" y="753.4" width="358.2" height="338.19999999999993" fill="none" stroke="#555" stroke-width="1.3"/>
<line x1="108.5" y1="1079.2" x2="117.8" y2="1079.2" stroke="#555" stroke-width="1.3"/>
<text x="91.3" y="1096" font-size="33.5" text-anchor="end" fill="#000" >0</text>
<line x1="108.5" y1="1016.6" x2="117.8" y2="1016.6" stroke="#555" stroke-width="1.3"/>
<text x="91.3" y="1033.4" font-size="33.5" text-anchor="end" fill="#000" >.2</text>
<line x1="108.5" y1="954" x2="117.8" y2="954" stroke="#555" stroke-width="1.3"/>
<text x="91.3" y="970.8" font-size="33.5" text-anchor="end" fill="#000" >.4</text>
<line x1="108.5" y1="891.4" x2="117.8" y2="891.4" stroke="#555" stroke-width="1.3"/>
<text x="91.3" y="908.2" font-size="33.5" text-anchor="end" fill="#000" >.6</text>
<line x1="108.5" y1="828.8" x2="117.8" y2="828.8" stroke="#555" stroke-width="1.3"/>
<text x="91.3" y="845.6" font-size="33.5" text-anchor="end" fill="#000" >.8</text>
<line x1="108.5" y1="766.2" x2="117.8" y2="766.2" stroke="#555" stroke-width="1.3"/>
<text x="91.3" y="783" font-size="33.5" text-anchor="end" fill="#000" >1</text>
<line x1="132" y1="1091.6" x2="132" y2="1100.8" stroke="#555" stroke-width="1.3"/>
<text x="132" y="1134" font-size="33.5" text-anchor="middle" fill="#000" >1</text>
<line x1="198.1" y1="1091.6" x2="198.1" y2="1100.8" stroke="#555" stroke-width="1.3"/>
<text x="198.1" y="1134" font-size="33.5" text-anchor="middle" fill="#000" >.8</text>
<line x1="264.2" y1="1091.6" x2="264.2" y2="1100.8" stroke="#555" stroke-width="1.3"/>
<text x="264.2" y="1134" font-size="33.5" text-anchor="middle" fill="#000" >.6</text>
<line x1="330.2" y1="1091.6" x2="330.2" y2="1100.8" stroke="#555" stroke-width="1.3"/>
<text x="330.2" y="1134" font-size="33.5" text-anchor="middle" fill="#000" >.4</text>
<line x1="396.3" y1="1091.6" x2="396.3" y2="1100.8" stroke="#555" stroke-width="1.3"/>
<text x="396.3" y="1134" font-size="33.5" text-anchor="middle" fill="#000" >.2</text>
<line x1="462.4" y1="1091.6" x2="462.4" y2="1100.8" stroke="#555" stroke-width="1.3"/>
<text x="462.4" y="1134" font-size="33.5" text-anchor="middle" fill="#000" >0</text>
<text x="296.8" y="1171" font-size="33.5" text-anchor="middle" fill="#000" >Specificity</text>
<text transform="translate(58.3 923.3) rotate(-90)" font-size="33.5" text-anchor="middle">Sensitivity</text>
<rect x="783.8" y="741.6" width="382.5" height="385.80000000000007" fill="#fff"/>
<path d="M813.9 741.6V1127.4M783.8 1102.1H1166.3M862.7 741.6V1127.4M783.8 1055H1166.3M911.5 741.6V1127.4M783.8 1007.9H1166.3M960.3 741.6V1127.4M783.8 960.8H1166.3M1009.1 741.6V1127.4M783.8 913.7H1166.3M1057.9 741.6V1127.4M783.8 866.6H1166.3M1106.7 741.6V1127.4M783.8 819.5H1166.3M1155.5 741.6V1127.4M783.8 772.4H1166.3" stroke="#e3e3e3" stroke-width="1.1" fill="none"/>
<g><circle cx="876.7" cy="1052.5" r="3.2" fill="#d6426e"/><circle cx="890.3" cy="1060.6" r="3.2" fill="#d6426e"/><circle cx="851" cy="1016.6" r="3.2" fill="#d6426e"/><circle cx="881.6" cy="1020.6" r="3.2" fill="#efc94c"/><circle cx="916.9" cy="1017.2" r="3.2" fill="#efc94c"/><circle cx="872.8" cy="1084.7" r="3.2" fill="#d6426e"/><circle cx="845.3" cy="1026.4" r="3.2" fill="#d6426e"/><circle cx="876.2" cy="1024.1" r="3.2" fill="#efc94c"/><circle cx="860.1" cy="1025.4" r="3.2" fill="#efc94c"/><circle cx="851.1" cy="1045.5" r="3.2" fill="#efc94c"/><circle cx="902.1" cy="1019.2" r="3.2" fill="#d6426e"/><circle cx="858.5" cy="1067.6" r="3.2" fill="#d6426e"/><circle cx="802.5" cy="1074.8" r="3.2" fill="#000"/><circle cx="835.8" cy="1036.6" r="3.2" fill="#d6426e"/><circle cx="857.1" cy="1087.7" r="3.2" fill="#d6426e"/><circle cx="878.9" cy="1007.7" r="3.2" fill="#efc94c"/><circle cx="890.1" cy="1057.9" r="3.2" fill="#efc94c"/><circle cx="889.6" cy="1051.4" r="3.2" fill="#000"/><circle cx="898.7" cy="975.4" r="3.2" fill="#000"/><circle cx="834.6" cy="1050.5" r="3.2" fill="#d6426e"/><circle cx="821.4" cy="1039.9" r="3.2" fill="#d6426e"/><circle cx="841.2" cy="1076.2" r="3.2" fill="#d6426e"/><circle cx="874.2" cy="1103.4" r="3.2" fill="#efc94c"/><circle cx="861.7" cy="1078.2" r="3.2" fill="#000"/><circle cx="884.6" cy="1027.2" r="3.2" fill="#efc94c"/><circle cx="836.6" cy="1065.2" r="3.2" fill="#efc94c"/><circle cx="899.2" cy="1010.7" r="3.2" fill="#efc94c"/><circle cx="816.6" cy="1019.4" r="3.2" fill="#efc94c"/><circle cx="850.6" cy="1063.9" r="3.2" fill="#efc94c"/><circle cx="869.2" cy="1038.2" r="3.2" fill="#d6426e"/><circle cx="856.1" cy="1025.8" r="3.2" fill="#efc94c"/><circle cx="852.9" cy="1041.6" r="3.2" fill="#d6426e"/><circle cx="856.3" cy="1042.6" r="3.2" fill="#efc94c"/><circle cx="851.9" cy="1017.9" r="3.2" fill="#000"/><circle cx="838.4" cy="1045.6" r="3.2" fill="#efc94c"/><circle cx="869.3" cy="1065.2" r="3.2" fill="#d6426e"/><circle cx="832.7" cy="1091.1" r="3.2" fill="#d6426e"/><circle cx="885.5" cy="1066.1" r="3.2" fill="#efc94c"/><circle cx="893.1" cy="1051.9" r="3.2" fill="#d6426e"/><circle cx="828.5" cy="1042.8" r="3.2" fill="#d6426e"/><circle cx="900.4" cy="1048.5" r="3.2" fill="#d6426e"/><circle cx="846.3" cy="1063" r="3.2" fill="#d6426e"/><circle cx="798.8" cy="1056.5" r="3.2" fill="#000"/><circle cx="863.7" cy="1062.5" r="3.2" fill="#000"/><circle cx="841.8" cy="1071.2" r="3.2" fill="#000"/><circle cx="875.5" cy="1039.9" r="3.2" fill="#000"/><circle cx="832.7" cy="1075" r="3.2" fill="#000"/><circle cx="896.3" cy="1033" r="3.2" fill="#000"/><circle cx="869.7" cy="1023.1" r="3.2" fill="#d6426e"/><circle cx="832" cy="1042.4" r="3.2" fill="#efc94c"/><circle cx="864.2" cy="1010.4" r="3.2" fill="#000"/><circle cx="891.2" cy="1027.4" r="3.2" fill="#efc94c"/><circle cx="843.9" cy="1087.6" r="3.2" fill="#d6426e"/><circle cx="869.9" cy="1058.4" r="3.2" fill="#efc94c"/><circle cx="880.6" cy="1054.5" r="3.2" fill="#000"/><circle cx="858.8" cy="1028.8" r="3.2" fill="#d6426e"/><circle cx="921.3" cy="988.4" r="3.2" fill="#d6426e"/><circle cx="815.6" cy="1036.7" r="3.2" fill="#efc94c"/><circle cx="858.4" cy="1040.9" r="3.2" fill="#efc94c"/><circle cx="902.1" cy="1062.3" r="3.2" fill="#efc94c"/><circle cx="848.5" cy="1021.2" r="3.2" fill="#efc94c"/><circle cx="817.6" cy="1032.9" r="3.2" fill="#efc94c"/><circle cx="833.2" cy="1097.8" r="3.2" fill="#000"/><circle cx="843.4" cy="1043.8" r="3.2" fill="#efc94c"/><circle cx="837.3" cy="1094.6" r="3.2" fill="#efc94c"/><circle cx="871.4" cy="1061.6" r="3.2" fill="#efc94c"/><circle cx="849.9" cy="1036.5" r="3.2" fill="#d6426e"/><circle cx="903.8" cy="1043.8" r="3.2" fill="#efc94c"/><circle cx="859.1" cy="1058" r="3.2" fill="#000"/><circle cx="862.2" cy="1024.7" r="3.2" fill="#efc94c"/><circle cx="855.9" cy="1026" r="3.2" fill="#000"/><circle cx="874.2" cy="1034" r="3.2" fill="#efc94c"/><circle cx="881.4" cy="1047.5" r="3.2" fill="#d6426e"/><circle cx="882.1" cy="1008.9" r="3.2" fill="#efc94c"/><circle cx="882.3" cy="1029.3" r="3.2" fill="#000"/><circle cx="858.4" cy="1005.6" r="3.2" fill="#efc94c"/><circle cx="867.4" cy="1093.9" r="3.2" fill="#efc94c"/><circle cx="874.6" cy="1037" r="3.2" fill="#000"/><circle cx="871.6" cy="1021" r="3.2" fill="#d6426e"/><circle cx="866.8" cy="1063.6" r="3.2" fill="#efc94c"/><circle cx="867.7" cy="1062.6" r="3.2" fill="#efc94c"/><circle cx="818.9" cy="1047.9" r="3.2" fill="#d6426e"/><circle cx="846.9" cy="1010.3" r="3.2" fill="#000"/><circle cx="845.8" cy="1044.1" r="3.2" fill="#efc94c"/><circle cx="808" cy="1071.4" r="3.2" fill="#000"/><circle cx="852.8" cy="1026.2" r="3.2" fill="#000"/><circle cx="838.1" cy="1041" r="3.2" fill="#efc94c"/><circle cx="858.4" cy="1028.8" r="3.2" fill="#000"/><circle cx="830.9" cy="1078.2" r="3.2" fill="#d6426e"/><circle cx="875.1" cy="1049.8" r="3.2" fill="#000"/><circle cx="835.3" cy="1012.4" r="3.2" fill="#000"/><circle cx="839.5" cy="998.4" r="3.2" fill="#000"/><circle cx="836.4" cy="1051" r="3.2" fill="#efc94c"/><circle cx="816.4" cy="1073.9" r="3.2" fill="#000"/><circle cx="883" cy="1047.3" r="3.2" fill="#000"/><circle cx="831.1" cy="1071.5" r="3.2" fill="#efc94c"/><circle cx="836.3" cy="1013.1" r="3.2" fill="#000"/><circle cx="869.1" cy="1034.4" r="3.2" fill="#d6426e"/><circle cx="841.1" cy="1056.8" r="3.2" fill="#000"/><circle cx="809.6" cy="1055.4" r="3.2" fill="#000"/><circle cx="833.9" cy="1049.2" r="3.2" fill="#efc94c"/><circle cx="845.3" cy="1019.6" r="3.2" fill="#efc94c"/><circle cx="869.6" cy="1072.5" r="3.2" fill="#efc94c"/><circle cx="830.6" cy="1083.2" r="3.2" fill="#d6426e"/><circle cx="904.2" cy="988.7" r="3.2" fill="#d6426e"/><circle cx="855.6" cy="1052" r="3.2" fill="#efc94c"/><circle cx="854" cy="1064.1" r="3.2" fill="#efc94c"/><circle cx="878.8" cy="1040.7" r="3.2" fill="#000"/><circle cx="884.8" cy="1033.5" r="3.2" fill="#efc94c"/><circle cx="850.7" cy="1032" r="3.2" fill="#000"/><circle cx="831.9" cy="1047.2" r="3.2" fill="#000"/><circle cx="824.1" cy="1024.7" r="3.2" fill="#000"/><circle cx="835.7" cy="1054" r="3.2" fill="#efc94c"/><circle cx="857.5" cy="1024.8" r="3.2" fill="#d6426e"/><circle cx="888.8" cy="1036.5" r="3.2" fill="#000"/><circle cx="836.6" cy="1101.1" r="3.2" fill="#d6426e"/><circle cx="815.4" cy="1018.1" r="3.2" fill="#efc94c"/><circle cx="858.8" cy="1047.9" r="3.2" fill="#000"/><circle cx="844.1" cy="1015" r="3.2" fill="#d6426e"/><circle cx="870.2" cy="1025.6" r="3.2" fill="#efc94c"/><circle cx="835.1" cy="1022.6" r="3.2" fill="#efc94c"/><circle cx="838.7" cy="1074.3" r="3.2" fill="#d6426e"/><circle cx="836.1" cy="1035.2" r="3.2" fill="#efc94c"/><circle cx="840.6" cy="1074.6" r="3.2" fill="#000"/><circle cx="855.4" cy="989.2" r="3.2" fill="#efc94c"/><circle cx="808.9" cy="1057.8" r="3.2" fill="#000"/><circle cx="856" cy="1054.4" r="3.2" fill="#d6426e"/><circle cx="882.2" cy="1042.6" r="3.2" fill="#efc94c"/><circle cx="873.6" cy="1025.8" r="3.2" fill="#000"/><circle cx="855.1" cy="1059.5" r="3.2" fill="#000"/><circle cx="870.8" cy="1058.9" r="3.2" fill="#d6426e"/><circle cx="859.9" cy="1031.2" r="3.2" fill="#efc94c"/><circle cx="883.9" cy="1059.8" r="3.2" fill="#000"/><circle cx="852.4" cy="1049.4" r="3.2" fill="#efc94c"/><circle cx="850.3" cy="1031.8" r="3.2" fill="#000"/><circle cx="889.9" cy="1030.6" r="3.2" fill="#efc94c"/><circle cx="857.9" cy="1001.8" r="3.2" fill="#efc94c"/><circle cx="828.7" cy="1011.2" r="3.2" fill="#efc94c"/><circle cx="924.4" cy="1029" r="3.2" fill="#000"/><circle cx="866.3" cy="1082.1" r="3.2" fill="#efc94c"/><circle cx="881.7" cy="1021.7" r="3.2" fill="#d6426e"/><circle cx="880.1" cy="1074.7" r="3.2" fill="#d6426e"/><circle cx="871.2" cy="1067.4" r="3.2" fill="#efc94c"/><circle cx="830.5" cy="1037.6" r="3.2" fill="#efc94c"/><circle cx="866.7" cy="1079.2" r="3.2" fill="#000"/><circle cx="893.5" cy="1056.9" r="3.2" fill="#d6426e"/><circle cx="910.1" cy="1006.7" r="3.2" fill="#000"/><circle cx="830.7" cy="1040.6" r="3.2" fill="#000"/><circle cx="887.7" cy="1016.7" r="3.2" fill="#d6426e"/><circle cx="870.5" cy="1038.1" r="3.2" fill="#efc94c"/><circle cx="853.7" cy="1041.5" r="3.2" fill="#d6426e"/><circle cx="839.4" cy="1044" r="3.2" fill="#d6426e"/><circle cx="867.3" cy="1009.3" r="3.2" fill="#000"/><circle cx="823.3" cy="1085.4" r="3.2" fill="#d6426e"/><circle cx="880.4" cy="991.3" r="3.2" fill="#000"/><circle cx="892" cy="1039.6" r="3.2" fill="#efc94c"/><circle cx="842.8" cy="1026.4" r="3.2" fill="#000"/><circle cx="830.1" cy="1046.7" r="3.2" fill="#000"/><circle cx="820.9" cy="1017.3" r="3.2" fill="#efc94c"/><circle cx="860" cy="1066.7" r="3.2" fill="#efc94c"/><circle cx="838.5" cy="1045" r="3.2" fill="#000"/><circle cx="840.9" cy="995.7" r="3.2" fill="#efc94c"/><circle cx="791.5" cy="1079.9" r="3.2" fill="#efc94c"/><circle cx="890.6" cy="1021.2" r="3.2" fill="#000"/><circle cx="832.7" cy="1070.9" r="3.2" fill="#d6426e"/><circle cx="881.2" cy="1011.7" r="3.2" fill="#efc94c"/><circle cx="909.3" cy="989.9" r="3.2" fill="#000"/><circle cx="888.4" cy="1023.3" r="3.2" fill="#000"/><circle cx="865.1" cy="1067.2" r="3.2" fill="#d6426e"/><circle cx="807.3" cy="1019" r="3.2" fill="#d6426e"/><circle cx="923.3" cy="1027.7" r="3.2" fill="#000"/><circle cx="850.3" cy="1020.7" r="3.2" fill="#000"/><circle cx="898.9" cy="1055.6" r="3.2" fill="#d6426e"/><circle cx="927.6" cy="1066" r="3.2" fill="#000"/><circle cx="861.6" cy="1078.5" r="3.2" fill="#000"/><circle cx="878" cy="1003.1" r="3.2" fill="#d6426e"/><circle cx="843.6" cy="1038.3" r="3.2" fill="#000"/><circle cx="858.3" cy="1094.5" r="3.2" fill="#000"/><circle cx="858.8" cy="1075.4" r="3.2" fill="#000"/><circle cx="813.4" cy="1068.7" r="3.2" fill="#d6426e"/><circle cx="853.6" cy="1039.1" r="3.2" fill="#000"/><circle cx="815" cy="1048.8" r="3.2" fill="#efc94c"/><circle cx="900.2" cy="1051.5" r="3.2" fill="#d6426e"/><circle cx="906" cy="1001.4" r="3.2" fill="#d6426e"/><circle cx="868.7" cy="1053.8" r="3.2" fill="#d6426e"/><circle cx="845.6" cy="1040.1" r="3.2" fill="#efc94c"/><circle cx="858.6" cy="1083.6" r="3.2" fill="#efc94c"/><circle cx="885.5" cy="1038.4" r="3.2" fill="#efc94c"/><circle cx="850.2" cy="1054.5" r="3.2" fill="#efc94c"/><circle cx="856.8" cy="1051.5" r="3.2" fill="#d6426e"/><circle cx="851.1" cy="1058.8" r="3.2" fill="#000"/><circle cx="829.9" cy="1090" r="3.2" fill="#000"/><circle cx="856.1" cy="1067.3" r="3.2" fill="#d6426e"/><circle cx="916.5" cy="1068.7" r="3.2" fill="#000"/><circle cx="821.6" cy="1076.9" r="3.2" fill="#000"/><circle cx="841.8" cy="1038.8" r="3.2" fill="#d6426e"/><circle cx="886.7" cy="1026.8" r="3.2" fill="#efc94c"/><circle cx="874.4" cy="1063.6" r="3.2" fill="#efc94c"/><circle cx="822.7" cy="1049.7" r="3.2" fill="#d6426e"/><circle cx="878.8" cy="1100.3" r="3.2" fill="#000"/><circle cx="858.6" cy="1041.9" r="3.2" fill="#000"/><circle cx="907.1" cy="1048.4" r="3.2" fill="#000"/><circle cx="828.2" cy="1064.3" r="3.2" fill="#efc94c"/><circle cx="855.8" cy="1054" r="3.2" fill="#d6426e"/><circle cx="908.3" cy="1013.3" r="3.2" fill="#000"/><circle cx="861.9" cy="1004.1" r="3.2" fill="#efc94c"/><circle cx="851.1" cy="1047.2" r="3.2" fill="#d6426e"/><circle cx="873.2" cy="1071.4" r="3.2" fill="#efc94c"/><circle cx="879.3" cy="1040.4" r="3.2" fill="#efc94c"/><circle cx="901.7" cy="1017" r="3.2" fill="#d6426e"/><circle cx="862.9" cy="1031.1" r="3.2" fill="#d6426e"/><circle cx="864.6" cy="1035.7" r="3.2" fill="#000"/><circle cx="861" cy="1050.6" r="3.2" fill="#000"/><circle cx="828.3" cy="1036.5" r="3.2" fill="#d6426e"/><circle cx="839.2" cy="1043.3" r="3.2" fill="#efc94c"/><circle cx="826.1" cy="1012.1" r="3.2" fill="#000"/><circle cx="864.5" cy="1032.3" r="3.2" fill="#efc94c"/><circle cx="830.2" cy="1024.3" r="3.2" fill="#efc94c"/><circle cx="872.8" cy="1060.7" r="3.2" fill="#efc94c"/><circle cx="848.4" cy="1092.4" r="3.2" fill="#000"/><circle cx="826.3" cy="1090" r="3.2" fill="#efc94c"/><circle cx="871.9" cy="1047.1" r="3.2" fill="#d6426e"/><circle cx="846.3" cy="1075.8" r="3.2" fill="#d6426e"/><circle cx="873.6" cy="1110.7" r="3.2" fill="#efc94c"/><circle cx="883.8" cy="1042.5" r="3.2" fill="#efc94c"/><circle cx="892.7" cy="1018.3" r="3.2" fill="#d6426e"/><circle cx="824.7" cy="1023.5" r="3.2" fill="#efc94c"/><circle cx="857.4" cy="1038.2" r="3.2" fill="#000"/><circle cx="861.4" cy="1048.4" r="3.2" fill="#000"/><circle cx="858.6" cy="1023.3" r="3.2" fill="#efc94c"/><circle cx="847.8" cy="1027.8" r="3.2" fill="#d6426e"/><circle cx="861.5" cy="1083.3" r="3.2" fill="#000"/><circle cx="793.8" cy="1055.3" r="3.2" fill="#d6426e"/><circle cx="826" cy="1023.3" r="3.2" fill="#000"/><circle cx="874.3" cy="982.7" r="3.2" fill="#d6426e"/><circle cx="878.4" cy="1073.7" r="3.2" fill="#d6426e"/><circle cx="866.6" cy="1027.6" r="3.2" fill="#efc94c"/><circle cx="928.4" cy="990.7" r="3.2" fill="#000"/><circle cx="841.2" cy="1017.3" r="3.2" fill="#efc94c"/><circle cx="884.5" cy="1015.1" r="3.2" fill="#000"/><circle cx="826.5" cy="1102.5" r="3.2" fill="#efc94c"/><circle cx="853.1" cy="1077.9" r="3.2" fill="#000"/><circle cx="876.9" cy="1027.3" r="3.2" fill="#000"/><circle cx="852.5" cy="1056.8" r="3.2" fill="#000"/><circle cx="857.7" cy="1078.9" r="3.2" fill="#d6426e"/><circle cx="902.7" cy="981.9" r="3.2" fill="#000"/><circle cx="868.2" cy="1052" r="3.2" fill="#000"/><circle cx="840.2" cy="1083.2" r="3.2" fill="#d6426e"/><circle cx="842.1" cy="1044.7" r="3.2" fill="#efc94c"/><circle cx="906.2" cy="1025.5" r="3.2" fill="#d6426e"/><circle cx="839.5" cy="1082" r="3.2" fill="#d6426e"/><circle cx="889.2" cy="1001" r="3.2" fill="#efc94c"/><circle cx="875.7" cy="1020" r="3.2" fill="#d6426e"/><circle cx="851" cy="1048.5" r="3.2" fill="#efc94c"/><circle cx="898.8" cy="1048.5" r="3.2" fill="#d6426e"/><circle cx="888" cy="1023.5" r="3.2" fill="#efc94c"/><circle cx="877.4" cy="1015.4" r="3.2" fill="#efc94c"/><circle cx="884.8" cy="1077.9" r="3.2" fill="#d6426e"/><circle cx="902.5" cy="1045.1" r="3.2" fill="#000"/><circle cx="867.9" cy="1013.5" r="3.2" fill="#000"/><circle cx="817" cy="1108.3" r="3.2" fill="#efc94c"/><circle cx="919.6" cy="1059.6" r="3.2" fill="#000"/><circle cx="878.4" cy="1000.6" r="3.2" fill="#d6426e"/><circle cx="855.8" cy="1058.7" r="3.2" fill="#000"/><circle cx="849.2" cy="1084.5" r="3.2" fill="#d6426e"/><circle cx="891.4" cy="1030.4" r="3.2" fill="#efc94c"/><circle cx="857.2" cy="1049.9" r="3.2" fill="#efc94c"/><circle cx="854.9" cy="1015.3" r="3.2" fill="#000"/><circle cx="862.8" cy="1034.9" r="3.2" fill="#000"/><circle cx="843" cy="1076" r="3.2" fill="#000"/><circle cx="836" cy="1044.9" r="3.2" fill="#efc94c"/><circle cx="876.8" cy="1049.4" r="3.2" fill="#efc94c"/><circle cx="858.9" cy="1037.2" r="3.2" fill="#efc94c"/><circle cx="840.4" cy="1057.5" r="3.2" fill="#000"/><circle cx="828.7" cy="1053" r="3.2" fill="#efc94c"/><circle cx="924.2" cy="1048.2" r="3.2" fill="#000"/><circle cx="805" cy="1056.2" r="3.2" fill="#efc94c"/><circle cx="856.4" cy="1049.7" r="3.2" fill="#d6426e"/><circle cx="871.7" cy="1061.9" r="3.2" fill="#efc94c"/><circle cx="834.6" cy="1055.6" r="3.2" fill="#d6426e"/><circle cx="847.4" cy="1009.9" r="3.2" fill="#d6426e"/><circle cx="865.6" cy="1058.6" r="3.2" fill="#d6426e"/><circle cx="855.8" cy="1052.6" r="3.2" fill="#000"/><circle cx="846.3" cy="1056" r="3.2" fill="#000"/><circle cx="867.1" cy="1071.8" r="3.2" fill="#efc94c"/><circle cx="842.4" cy="1009.5" r="3.2" fill="#efc94c"/><circle cx="850.8" cy="1027.9" r="3.2" fill="#efc94c"/><circle cx="846.3" cy="1010.7" r="3.2" fill="#efc94c"/><circle cx="849.1" cy="1089.4" r="3.2" fill="#d6426e"/><circle cx="833.1" cy="1073.7" r="3.2" fill="#efc94c"/><circle cx="824.5" cy="994.6" r="3.2" fill="#000"/><circle cx="876.7" cy="1032" r="3.2" fill="#efc94c"/><circle cx="840.2" cy="1018.6" r="3.2" fill="#d6426e"/><circle cx="853.1" cy="1068.6" r="3.2" fill="#000"/><circle cx="871.7" cy="1060.7" r="3.2" fill="#d6426e"/><circle cx="855.1" cy="1035.1" r="3.2" fill="#efc94c"/><circle cx="879.2" cy="1003" r="3.2" fill="#000"/><circle cx="932.9" cy="1017.8" r="3.2" fill="#d6426e"/><circle cx="869.6" cy="1055.9" r="3.2" fill="#d6426e"/><circle cx="860.1" cy="1072.8" r="3.2" fill="#000"/><circle cx="838.6" cy="1026.6" r="3.2" fill="#000"/><circle cx="839.8" cy="1045" r="3.2" fill="#efc94c"/><circle cx="887.5" cy="1060.5" r="3.2" fill="#efc94c"/><circle cx="887.2" cy="1054.4" r="3.2" fill="#efc94c"/><circle cx="841.1" cy="1047.3" r="3.2" fill="#efc94c"/><circle cx="923.6" cy="1022.2" r="3.2" fill="#d6426e"/><circle cx="859.5" cy="1074.9" r="3.2" fill="#efc94c"/><circle cx="850.3" cy="1025.3" r="3.2" fill="#d6426e"/><circle cx="856.5" cy="1047.4" r="3.2" fill="#000"/><circle cx="849.7" cy="1115.5" r="3.2" fill="#efc94c"/><circle cx="894.1" cy="1078.8" r="3.2" fill="#000"/><circle cx="877.9" cy="1027.4" r="3.2" fill="#efc94c"/><circle cx="827.4" cy="1086" r="3.2" fill="#d6426e"/><circle cx="904.3" cy="1065.6" r="3.2" fill="#d6426e"/><circle cx="925.3" cy="1005.1" r="3.2" fill="#000"/><circle cx="860.5" cy="1072.4" r="3.2" fill="#efc94c"/><circle cx="820.3" cy="1073" r="3.2" fill="#d6426e"/><circle cx="802.9" cy="1026.7" r="3.2" fill="#000"/><circle cx="846.9" cy="1074.6" r="3.2" fill="#d6426e"/><circle cx="861.1" cy="1071.5" r="3.2" fill="#efc94c"/><circle cx="875.6" cy="1062.1" r="3.2" fill="#d6426e"/><circle cx="826.9" cy="1064.6" r="3.2" fill="#000"/><circle cx="904.4" cy="1044.3" r="3.2" fill="#000"/><circle cx="872.7" cy="1076.6" r="3.2" fill="#d6426e"/><circle cx="857.5" cy="1045.4" r="3.2" fill="#d6426e"/><circle cx="909.6" cy="1052.7" r="3.2" fill="#efc94c"/><circle cx="877.4" cy="1016.5" r="3.2" fill="#efc94c"/><circle cx="808.3" cy="1065.9" r="3.2" fill="#efc94c"/><circle cx="817.3" cy="1073.2" r="3.2" fill="#d6426e"/><circle cx="824.3" cy="1082.9" r="3.2" fill="#000"/><circle cx="856.2" cy="1025.1" r="3.2" fill="#000"/><circle cx="836.1" cy="1037.5" r="3.2" fill="#efc94c"/><circle cx="813.7" cy="1044.3" r="3.2" fill="#efc94c"/><circle cx="876.3" cy="1074.1" r="3.2" fill="#efc94c"/><circle cx="838.7" cy="1052.7" r="3.2" fill="#efc94c"/><circle cx="877.3" cy="1060.7" r="3.2" fill="#efc94c"/><circle cx="839.6" cy="1030.9" r="3.2" fill="#efc94c"/><circle cx="860.6" cy="1053.7" r="3.2" fill="#000"/><circle cx="880.4" cy="1052.2" r="3.2" fill="#d6426e"/><circle cx="802.9" cy="1039.9" r="3.2" fill="#efc94c"/><circle cx="895.7" cy="1025.8" r="3.2" fill="#000"/><circle cx="887.6" cy="1013.7" r="3.2" fill="#d6426e"/><circle cx="863.1" cy="999.1" r="3.2" fill="#d6426e"/><circle cx="887.5" cy="1053.4" r="3.2" fill="#d6426e"/><circle cx="861" cy="1057.1" r="3.2" fill="#d6426e"/><circle cx="880.8" cy="1084.3" r="3.2" fill="#000"/><circle cx="871.6" cy="1035.7" r="3.2" fill="#efc94c"/><circle cx="870.9" cy="1017.7" r="3.2" fill="#efc94c"/><circle cx="855.8" cy="1017.4" r="3.2" fill="#d6426e"/><circle cx="878.3" cy="1008.1" r="3.2" fill="#000"/><circle cx="889.9" cy="1034.4" r="3.2" fill="#d6426e"/><circle cx="825.4" cy="1026.3" r="3.2" fill="#efc94c"/><circle cx="818.7" cy="1088.7" r="3.2" fill="#d6426e"/><circle cx="854.9" cy="1059.3" r="3.2" fill="#efc94c"/><circle cx="854.1" cy="1062.6" r="3.2" fill="#000"/><circle cx="887.7" cy="1016.8" r="3.2" fill="#000"/><circle cx="846.5" cy="1055.5" r="3.2" fill="#d6426e"/><circle cx="887.6" cy="1029.9" r="3.2" fill="#efc94c"/><circle cx="838.7" cy="985" r="3.2" fill="#d6426e"/><circle cx="812.1" cy="1018.1" r="3.2" fill="#d6426e"/><circle cx="859.1" cy="1035.9" r="3.2" fill="#000"/><circle cx="864.7" cy="1063.9" r="3.2" fill="#d6426e"/><circle cx="877.4" cy="1081.1" r="3.2" fill="#efc94c"/><circle cx="867.1" cy="1081.1" r="3.2" fill="#d6426e"/><circle cx="809.9" cy="1024.2" r="3.2" fill="#000"/><circle cx="918.6" cy="1040.9" r="3.2" fill="#efc94c"/><circle cx="851" cy="1065.4" r="3.2" fill="#d6426e"/><circle cx="800.8" cy="1045.7" r="3.2" fill="#000"/><circle cx="827.5" cy="1078.6" r="3.2" fill="#000"/><circle cx="833.9" cy="1066.4" r="3.2" fill="#d6426e"/><circle cx="831.4" cy="1058.4" r="3.2" fill="#d6426e"/><circle cx="827.6" cy="1075.4" r="3.2" fill="#efc94c"/><circle cx="849.1" cy="1045.3" r="3.2" fill="#000"/><circle cx="804.4" cy="1054.9" r="3.2" fill="#efc94c"/><circle cx="857.8" cy="996.9" r="3.2" fill="#d6426e"/><circle cx="902.6" cy="1015.9" r="3.2" fill="#d6426e"/><circle cx="878.8" cy="1058.8" r="3.2" fill="#d6426e"/><circle cx="882.2" cy="1056.7" r="3.2" fill="#000"/><circle cx="880.9" cy="996" r="3.2" fill="#000"/><circle cx="867.2" cy="1031.9" r="3.2" fill="#d6426e"/><circle cx="865.6" cy="1079.1" r="3.2" fill="#000"/><circle cx="867.2" cy="1008" r="3.2" fill="#d6426e"/><circle cx="910.4" cy="1009.4" r="3.2" fill="#000"/><circle cx="899.2" cy="1024.1" r="3.2" fill="#d6426e"/><circle cx="892.3" cy="1027.8" r="3.2" fill="#000"/><circle cx="862.5" cy="997.1" r="3.2" fill="#d6426e"/><circle cx="881.1" cy="1016.9" r="3.2" fill="#efc94c"/><circle cx="873" cy="1028.6" r="3.2" fill="#efc94c"/><circle cx="875.9" cy="1034.5" r="3.2" fill="#000"/><circle cx="834.2" cy="1049.6" r="3.2" fill="#efc94c"/><circle cx="898.4" cy="1041" r="3.2" fill="#d6426e"/><circle cx="846.3" cy="1073.8" r="3.2" fill="#000"/><circle cx="852.2" cy="999.5" r="3.2" fill="#d6426e"/><circle cx="874.8" cy="1027.4" r="3.2" fill="#d6426e"/><circle cx="866.3" cy="1022" r="3.2" fill="#000"/><circle cx="900.1" cy="1014" r="3.2" fill="#000"/><circle cx="866" cy="1013.1" r="3.2" fill="#000"/><circle cx="911.4" cy="1051.9" r="3.2" fill="#efc94c"/><circle cx="877.5" cy="1032.4" r="3.2" fill="#efc94c"/><circle cx="816.9" cy="1071.4" r="3.2" fill="#efc94c"/><circle cx="837" cy="1034.6" r="3.2" fill="#d6426e"/><circle cx="791.6" cy="1090" r="3.2" fill="#d6426e"/><circle cx="917.7" cy="1026.7" r="3.2" fill="#000"/><circle cx="895.6" cy="1030.4" r="3.2" fill="#000"/><circle cx="856.7" cy="1048.8" r="3.2" fill="#000"/><circle cx="866" cy="1002.6" r="3.2" fill="#000"/><circle cx="872.3" cy="1016.4" r="3.2" fill="#efc94c"/><circle cx="884.6" cy="1075.2" r="3.2" fill="#efc94c"/><circle cx="895.2" cy="1061.5" r="3.2" fill="#d6426e"/><circle cx="915.1" cy="1056.4" r="3.2" fill="#efc94c"/><circle cx="878.8" cy="1068" r="3.2" fill="#000"/><circle cx="840.2" cy="1077.9" r="3.2" fill="#d6426e"/><circle cx="897.7" cy="1015.7" r="3.2" fill="#efc94c"/><circle cx="843.8" cy="1070.9" r="3.2" fill="#000"/><circle cx="850.5" cy="1068.9" r="3.2" fill="#d6426e"/><circle cx="840.6" cy="1048.6" r="3.2" fill="#efc94c"/><circle cx="909.2" cy="1022.5" r="3.2" fill="#000"/><circle cx="861.8" cy="1056.1" r="3.2" fill="#efc94c"/><circle cx="863.1" cy="1053.4" r="3.2" fill="#efc94c"/><circle cx="917.4" cy="1050.6" r="3.2" fill="#000"/><circle cx="838.9" cy="1106.4" r="3.2" fill="#d6426e"/><circle cx="877.4" cy="992.5" r="3.2" fill="#d6426e"/><circle cx="822.2" cy="1043.3" r="3.2" fill="#000"/><circle cx="863.5" cy="1064.6" r="3.2" fill="#d6426e"/><circle cx="885.1" cy="1090.6" r="3.2" fill="#000"/><circle cx="866.6" cy="1068.2" r="3.2" fill="#000"/><circle cx="850.1" cy="1028.7" r="3.2" fill="#efc94c"/><circle cx="890.3" cy="982.2" r="3.2" fill="#000"/><circle cx="918.1" cy="1050.3" r="3.2" fill="#d6426e"/><circle cx="924.1" cy="1014.9" r="3.2" fill="#d6426e"/><circle cx="878.2" cy="1037.3" r="3.2" fill="#000"/><circle cx="874.5" cy="1074.7" r="3.2" fill="#efc94c"/><circle cx="871" cy="1041.1" r="3.2" fill="#efc94c"/><circle cx="880.7" cy="1003.9" r="3.2" fill="#000"/><circle cx="878.1" cy="1049.9" r="3.2" fill="#000"/><circle cx="842.7" cy="1030.2" r="3.2" fill="#000"/><circle cx="815.7" cy="1044" r="3.2" fill="#d6426e"/><circle cx="851.2" cy="1049.9" r="3.2" fill="#d6426e"/><circle cx="888.5" cy="1038.1" r="3.2" fill="#efc94c"/><circle cx="871.2" cy="1020.2" r="3.2" fill="#d6426e"/><circle cx="850.4" cy="1012" r="3.2" fill="#d6426e"/><circle cx="820.1" cy="1111.2" r="3.2" fill="#d6426e"/><circle cx="809.3" cy="1064.3" r="3.2" fill="#d6426e"/><circle cx="815.9" cy="1033.9" r="3.2" fill="#efc94c"/><circle cx="857.3" cy="1025.8" r="3.2" fill="#d6426e"/><circle cx="834.7" cy="1096" r="3.2" fill="#efc94c"/><circle cx="853.2" cy="1011.3" r="3.2" fill="#efc94c"/><circle cx="853.1" cy="1039.5" r="3.2" fill="#000"/><circle cx="845.8" cy="1078.9" r="3.2" fill="#d6426e"/><circle cx="869.9" cy="990" r="3.2" fill="#d6426e"/><circle cx="893.9" cy="1031.8" r="3.2" fill="#d6426e"/><circle cx="829.4" cy="1058.2" r="3.2" fill="#000"/><circle cx="839.2" cy="1007.7" r="3.2" fill="#d6426e"/><circle cx="873.1" cy="988.6" r="3.2" fill="#efc94c"/><circle cx="888.7" cy="1074.5" r="3.2" fill="#000"/><circle cx="883.9" cy="1043.7" r="3.2" fill="#000"/><circle cx="872.2" cy="1071.2" r="3.2" fill="#efc94c"/><circle cx="892.2" cy="1008.4" r="3.2" fill="#000"/><circle cx="830.8" cy="1023.8" r="3.2" fill="#d6426e"/><circle cx="916" cy="1036.4" r="3.2" fill="#000"/><circle cx="896.1" cy="1069.8" r="3.2" fill="#efc94c"/><circle cx="889" cy="1083.7" r="3.2" fill="#000"/><circle cx="807.6" cy="1071.6" r="3.2" fill="#000"/><circle cx="865.4" cy="1012.2" r="3.2" fill="#000"/><circle cx="852.6" cy="1025.7" r="3.2" fill="#000"/><circle cx="843.7" cy="1069.4" r="3.2" fill="#000"/><circle cx="874.8" cy="1073.2" r="3.2" fill="#000"/><circle cx="879.6" cy="1024.4" r="3.2" fill="#000"/><circle cx="820.4" cy="1065.8" r="3.2" fill="#000"/><circle cx="884.1" cy="1071.3" r="3.2" fill="#d6426e"/><circle cx="852.1" cy="1105.9" r="3.2" fill="#efc94c"/><circle cx="803.7" cy="1029.3" r="3.2" fill="#000"/><circle cx="942.4" cy="1006.6" r="3.2" fill="#d6426e"/><circle cx="867.8" cy="1060.7" r="3.2" fill="#000"/><circle cx="880" cy="982.2" r="3.2" fill="#efc94c"/><circle cx="868.6" cy="1049.5" r="3.2" fill="#000"/><circle cx="847.5" cy="1082.9" r="3.2" fill="#000"/><circle cx="809.9" cy="1010.9" r="3.2" fill="#efc94c"/><circle cx="840" cy="1061" r="3.2" fill="#000"/><circle cx="855.7" cy="1019.6" r="3.2" fill="#efc94c"/><circle cx="903.4" cy="1037.5" r="3.2" fill="#000"/><circle cx="853.7" cy="1092.2" r="3.2" fill="#000"/><circle cx="878.8" cy="1012.9" r="3.2" fill="#d6426e"/><circle cx="849.6" cy="1032.3" r="3.2" fill="#d6426e"/><circle cx="872.5" cy="1042.9" r="3.2" fill="#efc94c"/><circle cx="877.4" cy="1054.2" r="3.2" fill="#d6426e"/><circle cx="933.1" cy="987.9" r="3.2" fill="#000"/><circle cx="818" cy="1044.5" r="3.2" fill="#d6426e"/><circle cx="868.9" cy="1012" r="3.2" fill="#efc94c"/><circle cx="912.5" cy="1052.1" r="3.2" fill="#efc94c"/><circle cx="835.4" cy="1063.1" r="3.2" fill="#d6426e"/><circle cx="889" cy="1036.1" r="3.2" fill="#efc94c"/><circle cx="867.6" cy="1046.6" r="3.2" fill="#000"/><circle cx="899.2" cy="1046.8" r="3.2" fill="#000"/><circle cx="849.4" cy="1035.8" r="3.2" fill="#efc94c"/><circle cx="832.9" cy="1040.8" r="3.2" fill="#efc94c"/><circle cx="890.5" cy="1059.3" r="3.2" fill="#d6426e"/><circle cx="799.3" cy="1032.2" r="3.2" fill="#d6426e"/><circle cx="839.8" cy="1023" r="3.2" fill="#efc94c"/><circle cx="875.1" cy="1055.1" r="3.2" fill="#d6426e"/><circle cx="874.6" cy="1072.2" r="3.2" fill="#000"/><circle cx="821" cy="1031.3" r="3.2" fill="#efc94c"/><circle cx="818.7" cy="1042.3" r="3.2" fill="#000"/><circle cx="855.5" cy="1067.7" r="3.2" fill="#000"/><circle cx="848.1" cy="1018.4" r="3.2" fill="#efc94c"/><circle cx="840" cy="1052.9" r="3.2" fill="#d6426e"/><circle cx="874.6" cy="998.5" r="3.2" fill="#efc94c"/><circle cx="916.2" cy="1048.5" r="3.2" fill="#efc94c"/><circle cx="868.1" cy="1033.2" r="3.2" fill="#efc94c"/><circle cx="906.6" cy="1030.8" r="3.2" fill="#000"/><circle cx="856.5" cy="1036.2" r="3.2" fill="#d6426e"/><circle cx="867.2" cy="1068.2" r="3.2" fill="#efc94c"/><circle cx="860.4" cy="1051" r="3.2" fill="#efc94c"/><circle cx="886.6" cy="1069.4" r="3.2" fill="#efc94c"/><circle cx="824.9" cy="1028.7" r="3.2" fill="#000"/><circle cx="869" cy="1029.4" r="3.2" fill="#d6426e"/><circle cx="832.5" cy="1019.6" r="3.2" fill="#efc94c"/><circle cx="860.7" cy="1062.7" r="3.2" fill="#d6426e"/><circle cx="872.1" cy="1046.8" r="3.2" fill="#000"/><circle cx="839.4" cy="995" r="3.2" fill="#efc94c"/><circle cx="851.4" cy="1056.2" r="3.2" fill="#efc94c"/><circle cx="845.6" cy="989.6" r="3.2" fill="#d6426e"/><circle cx="845.4" cy="1017.1" r="3.2" fill="#000"/><circle cx="915.3" cy="1044.8" r="3.2" fill="#d6426e"/><circle cx="848.4" cy="1003.1" r="3.2" fill="#000"/><circle cx="834.5" cy="1090.1" r="3.2" fill="#000"/><circle cx="866.3" cy="1063.1" r="3.2" fill="#efc94c"/><circle cx="887.6" cy="1051.8" r="3.2" fill="#d6426e"/><circle cx="822.1" cy="1035.7" r="3.2" fill="#000"/><circle cx="874.3" cy="996.8" r="3.2" fill="#000"/><circle cx="893.6" cy="1076.3" r="3.2" fill="#000"/><circle cx="884.8" cy="1067.5" r="3.2" fill="#efc94c"/><circle cx="859.2" cy="1054.7" r="3.2" fill="#d6426e"/><circle cx="836.8" cy="1024.5" r="3.2" fill="#d6426e"/><circle cx="898.8" cy="1053.3" r="3.2" fill="#d6426e"/><circle cx="808.7" cy="1072" r="3.2" fill="#efc94c"/><circle cx="850.3" cy="1009.1" r="3.2" fill="#000"/><circle cx="882.7" cy="1036.4" r="3.2" fill="#000"/><circle cx="859" cy="1030.2" r="3.2" fill="#efc94c"/><circle cx="833.5" cy="1056.1" r="3.2" fill="#efc94c"/><circle cx="896.4" cy="1011.2" r="3.2" fill="#000"/><circle cx="857.6" cy="1046" r="3.2" fill="#efc94c"/><circle cx="873" cy="1047.1" r="3.2" fill="#000"/><circle cx="858.3" cy="1067.1" r="3.2" fill="#000"/><circle cx="859.1" cy="1012.8" r="3.2" fill="#000"/><circle cx="875.7" cy="1005.7" r="3.2" fill="#000"/><circle cx="879.7" cy="1050.6" r="3.2" fill="#d6426e"/><circle cx="852.4" cy="1081.4" r="3.2" fill="#efc94c"/><circle cx="837.1" cy="1046.3" r="3.2" fill="#efc94c"/><circle cx="879" cy="1085.7" r="3.2" fill="#000"/><circle cx="887.7" cy="1001.8" r="3.2" fill="#d6426e"/><circle cx="884.3" cy="1070.1" r="3.2" fill="#000"/><circle cx="834.7" cy="1045.2" r="3.2" fill="#d6426e"/><circle cx="887.4" cy="1056.1" r="3.2" fill="#d6426e"/><circle cx="838.1" cy="1074.5" r="3.2" fill="#d6426e"/><circle cx="889.7" cy="1043.9" r="3.2" fill="#000"/><circle cx="844.7" cy="1045.8" r="3.2" fill="#d6426e"/><circle cx="902" cy="1023.7" r="3.2" fill="#efc94c"/><circle cx="865.8" cy="982.1" r="3.2" fill="#d6426e"/><circle cx="857" cy="1023.6" r="3.2" fill="#efc94c"/><circle cx="787.9" cy="1076.7" r="3.2" fill="#efc94c"/><circle cx="878.1" cy="1020.6" r="3.2" fill="#d6426e"/><circle cx="893.2" cy="1033.1" r="3.2" fill="#d6426e"/><circle cx="913.2" cy="1010.1" r="3.2" fill="#efc94c"/><circle cx="835.5" cy="1049.8" r="3.2" fill="#d6426e"/><circle cx="832.6" cy="1078.9" r="3.2" fill="#000"/><circle cx="891.8" cy="1048.4" r="3.2" fill="#000"/><circle cx="821" cy="1079.9" r="3.2" fill="#efc94c"/><circle cx="912.7" cy="1044.2" r="3.2" fill="#efc94c"/><circle cx="857.9" cy="1064.9" r="3.2" fill="#d6426e"/><circle cx="851.2" cy="1088.2" r="3.2" fill="#efc94c"/><circle cx="799.7" cy="1072.3" r="3.2" fill="#d6426e"/><circle cx="882.5" cy="1039" r="3.2" fill="#d6426e"/><circle cx="860.3" cy="996" r="3.2" fill="#d6426e"/><circle cx="896.1" cy="1037.7" r="3.2" fill="#efc94c"/><circle cx="857.3" cy="1042.5" r="3.2" fill="#efc94c"/><circle cx="871.2" cy="1097.8" r="3.2" fill="#d6426e"/><circle cx="853.7" cy="1036.2" r="3.2" fill="#000"/><circle cx="871.3" cy="1070" r="3.2" fill="#efc94c"/><circle cx="816.3" cy="1055.9" r="3.2" fill="#d6426e"/><circle cx="865.5" cy="1033.5" r="3.2" fill="#000"/><circle cx="884.1" cy="1020.4" r="3.2" fill="#d6426e"/><circle cx="862.6" cy="1051.5" r="3.2" fill="#d6426e"/><circle cx="814.5" cy="1102.6" r="3.2" fill="#000"/><circle cx="808.7" cy="1057.4" r="3.2" fill="#efc94c"/><circle cx="859.8" cy="1074.8" r="3.2" fill="#000"/><circle cx="850.6" cy="1023" r="3.2" fill="#efc94c"/><circle cx="842.4" cy="1074.2" r="3.2" fill="#efc94c"/><circle cx="884.3" cy="1051.9" r="3.2" fill="#d6426e"/><circle cx="818.3" cy="1053.1" r="3.2" fill="#d6426e"/><circle cx="879" cy="1076.4" r="3.2" fill="#efc94c"/><circle cx="794.8" cy="1058.5" r="3.2" fill="#efc94c"/><circle cx="812.1" cy="1029.5" r="3.2" fill="#000"/><circle cx="876.9" cy="1033.5" r="3.2" fill="#efc94c"/><circle cx="880.2" cy="984.8" r="3.2" fill="#d6426e"/><circle cx="833.2" cy="1052.3" r="3.2" fill="#efc94c"/><circle cx="871.9" cy="1056.9" r="3.2" fill="#efc94c"/><circle cx="858.9" cy="1077.2" r="3.2" fill="#000"/><circle cx="876.3" cy="1051.8" r="3.2" fill="#d6426e"/><circle cx="889.1" cy="1053.9" r="3.2" fill="#d6426e"/><circle cx="865.9" cy="1036.5" r="3.2" fill="#000"/><circle cx="874.5" cy="1076.8" r="3.2" fill="#000"/><circle cx="847.9" cy="1044.6" r="3.2" fill="#d6426e"/><circle cx="887.7" cy="1086.3" r="3.2" fill="#d6426e"/><circle cx="856.2" cy="1003.9" r="3.2" fill="#efc94c"/><circle cx="869.4" cy="1015.5" r="3.2" fill="#d6426e"/><circle cx="871" cy="1022.3" r="3.2" fill="#d6426e"/><circle cx="903" cy="978" r="3.2" fill="#d6426e"/><circle cx="894.4" cy="1026.8" r="3.2" fill="#000"/><circle cx="900.4" cy="1033.3" r="3.2" fill="#d6426e"/><circle cx="868.8" cy="1041.9" r="3.2" fill="#efc94c"/><circle cx="845.9" cy="1076" r="3.2" fill="#000"/><circle cx="890" cy="1105.3" r="3.2" fill="#000"/><circle cx="840.1" cy="1078.3" r="3.2" fill="#d6426e"/><circle cx="875.7" cy="1063" r="3.2" fill="#d6426e"/><circle cx="830.9" cy="1053.6" r="3.2" fill="#d6426e"/><circle cx="870.4" cy="1019.2" r="3.2" fill="#000"/><circle cx="872" cy="1074.7" r="3.2" fill="#d6426e"/><circle cx="837.5" cy="1049.2" r="3.2" fill="#efc94c"/><circle cx="843.1" cy="1076.4" r="3.2" fill="#000"/><circle cx="891.1" cy="1045.5" r="3.2" fill="#000"/><circle cx="898.4" cy="1086" r="3.2" fill="#d6426e"/><circle cx="837.4" cy="1111.9" r="3.2" fill="#efc94c"/><circle cx="843.6" cy="1020.6" r="3.2" fill="#d6426e"/><circle cx="876.8" cy="1049.8" r="3.2" fill="#efc94c"/><circle cx="865.8" cy="1025.4" r="3.2" fill="#efc94c"/><circle cx="894.2" cy="1023.8" r="3.2" fill="#000"/><circle cx="847.8" cy="1062.4" r="3.2" fill="#d6426e"/><circle cx="899.6" cy="1009.9" r="3.2" fill="#efc94c"/><circle cx="851" cy="1073.5" r="3.2" fill="#000"/><circle cx="891.4" cy="1008.2" r="3.2" fill="#efc94c"/><circle cx="802.6" cy="1060" r="3.2" fill="#efc94c"/><circle cx="874.7" cy="1012.9" r="3.2" fill="#000"/><circle cx="885.4" cy="1076.5" r="3.2" fill="#d6426e"/><circle cx="892" cy="1015.2" r="3.2" fill="#efc94c"/><circle cx="864.1" cy="1035.2" r="3.2" fill="#efc94c"/><circle cx="821.9" cy="1004.9" r="3.2" fill="#000"/><circle cx="916.6" cy="1031.9" r="3.2" fill="#000"/><circle cx="875.6" cy="1039.1" r="3.2" fill="#d6426e"/><circle cx="859.3" cy="1071.9" r="3.2" fill="#000"/><circle cx="866" cy="1015.8" r="3.2" fill="#efc94c"/><circle cx="877.9" cy="1015.2" r="3.2" fill="#efc94c"/><circle cx="874.7" cy="1058.6" r="3.2" fill="#d6426e"/><circle cx="877.8" cy="1064.4" r="3.2" fill="#000"/><circle cx="873.2" cy="1019.5" r="3.2" fill="#d6426e"/><circle cx="831.8" cy="1053.7" r="3.2" fill="#efc94c"/><circle cx="861.4" cy="1029.5" r="3.2" fill="#d6426e"/><circle cx="922.1" cy="992.4" r="3.2" fill="#000"/><circle cx="865" cy="1048.9" r="3.2" fill="#efc94c"/><circle cx="897.4" cy="1019.8" r="3.2" fill="#000"/><circle cx="857.5" cy="1026.4" r="3.2" fill="#000"/><circle cx="889.3" cy="1009" r="3.2" fill="#000"/><circle cx="903.2" cy="1089.9" r="3.2" fill="#000"/><circle cx="838.9" cy="1006.5" r="3.2" fill="#d6426e"/><circle cx="870.5" cy="1030.9" r="3.2" fill="#d6426e"/><circle cx="878.3" cy="1073.9" r="3.2" fill="#000"/><circle cx="910.8" cy="1037.9" r="3.2" fill="#efc94c"/><circle cx="869.9" cy="1066" r="3.2" fill="#000"/><circle cx="843.9" cy="1010.3" r="3.2" fill="#d6426e"/><circle cx="848.9" cy="1049" r="3.2" fill="#000"/><circle cx="820.7" cy="1045.7" r="3.2" fill="#efc94c"/><circle cx="896.1" cy="1068.8" r="3.2" fill="#efc94c"/><circle cx="847.9" cy="1007.5" r="3.2" fill="#efc94c"/><circle cx="862.8" cy="1063.1" r="3.2" fill="#efc94c"/><circle cx="856.3" cy="1064.2" r="3.2" fill="#d6426e"/><circle cx="834.6" cy="1034.3" r="3.2" fill="#efc94c"/><circle cx="850.3" cy="1082.4" r="3.2" fill="#efc94c"/><circle cx="867" cy="1059.9" r="3.2" fill="#efc94c"/><circle cx="846.1" cy="1050" r="3.2" fill="#d6426e"/><circle cx="874.9" cy="1032.6" r="3.2" fill="#efc94c"/><circle cx="865.4" cy="1050.9" r="3.2" fill="#000"/><circle cx="869.2" cy="1041.6" r="3.2" fill="#efc94c"/><circle cx="810.6" cy="1051.4" r="3.2" fill="#efc94c"/><circle cx="831.5" cy="1033.6" r="3.2" fill="#efc94c"/><circle cx="820.6" cy="1009.3" r="3.2" fill="#d6426e"/><circle cx="865.5" cy="1081.9" r="3.2" fill="#000"/><circle cx="866.5" cy="1012.4" r="3.2" fill="#d6426e"/><circle cx="902.6" cy="1037" r="3.2" fill="#d6426e"/><circle cx="885.7" cy="1101.4" r="3.2" fill="#d6426e"/><circle cx="829.8" cy="1054" r="3.2" fill="#efc94c"/><circle cx="894.5" cy="1089.3" r="3.2" fill="#d6426e"/><circle cx="798.9" cy="1013.4" r="3.2" fill="#d6426e"/><circle cx="871.5" cy="1049.3" r="3.2" fill="#d6426e"/><circle cx="878.1" cy="1050.3" r="3.2" fill="#000"/><circle cx="829.8" cy="1033.5" r="3.2" fill="#d6426e"/><circle cx="856" cy="1029.2" r="3.2" fill="#000"/><circle cx="856.9" cy="1028.9" r="3.2" fill="#000"/><circle cx="857.6" cy="991.8" r="3.2" fill="#d6426e"/><circle cx="894.6" cy="1032.9" r="3.2" fill="#d6426e"/><circle cx="880" cy="1033.7" r="3.2" fill="#d6426e"/><circle cx="809.7" cy="1048.5" r="3.2" fill="#d6426e"/><circle cx="849.7" cy="1026.1" r="3.2" fill="#d6426e"/><circle cx="837.1" cy="1035.8" r="3.2" fill="#000"/><circle cx="872.4" cy="1023.5" r="3.2" fill="#000"/><circle cx="868.7" cy="1033.8" r="3.2" fill="#efc94c"/><circle cx="867.6" cy="1031.8" r="3.2" fill="#d6426e"/><circle cx="837.6" cy="1100.5" r="3.2" fill="#000"/><circle cx="871.4" cy="1042.9" r="3.2" fill="#000"/><circle cx="830" cy="1044.6" r="3.2" fill="#d6426e"/><circle cx="887" cy="1040.2" r="3.2" fill="#d6426e"/><circle cx="835.8" cy="1048.4" r="3.2" fill="#d6426e"/><circle cx="831.5" cy="1009.4" r="3.2" fill="#efc94c"/><circle cx="850.9" cy="1018.8" r="3.2" fill="#d6426e"/><circle cx="861.2" cy="1027.6" r="3.2" fill="#d6426e"/><circle cx="895.7" cy="1071.8" r="3.2" fill="#d6426e"/><circle cx="901.7" cy="1072.4" r="3.2" fill="#d6426e"/><circle cx="901.1" cy="1042.1" r="3.2" fill="#000"/><circle cx="836.6" cy="1011.9" r="3.2" fill="#d6426e"/><circle cx="883.2" cy="1090" r="3.2" fill="#000"/><circle cx="857" cy="1012.4" r="3.2" fill="#000"/><circle cx="882.6" cy="1043" r="3.2" fill="#efc94c"/><circle cx="858.5" cy="997.6" r="3.2" fill="#000"/><circle cx="854.6" cy="1092.8" r="3.2" fill="#efc94c"/><circle cx="840.5" cy="1033.2" r="3.2" fill="#efc94c"/><circle cx="899.5" cy="1021.4" r="3.2" fill="#d6426e"/><circle cx="859.8" cy="1041.1" r="3.2" fill="#000"/><circle cx="863.7" cy="1043.1" r="3.2" fill="#d6426e"/><circle cx="829.8" cy="1021.9" r="3.2" fill="#efc94c"/><circle cx="824" cy="1048.4" r="3.2" fill="#000"/><circle cx="826" cy="1014.9" r="3.2" fill="#d6426e"/><circle cx="853.7" cy="1015.1" r="3.2" fill="#efc94c"/><circle cx="817.2" cy="1056.2" r="3.2" fill="#000"/><circle cx="839.4" cy="1066.8" r="3.2" fill="#d6426e"/><circle cx="833" cy="1050.6" r="3.2" fill="#d6426e"/><circle cx="874.8" cy="1046.1" r="3.2" fill="#d6426e"/><circle cx="911.7" cy="1018.2" r="3.2" fill="#efc94c"/><circle cx="849.4" cy="1020.3" r="3.2" fill="#000"/><circle cx="834.2" cy="1026.6" r="3.2" fill="#d6426e"/><circle cx="835.7" cy="1077.9" r="3.2" fill="#000"/><circle cx="875.8" cy="1038.2" r="3.2" fill="#000"/><circle cx="898.5" cy="1086.1" r="3.2" fill="#000"/><circle cx="828.8" cy="1047.1" r="3.2" fill="#d6426e"/><circle cx="876.8" cy="1062" r="3.2" fill="#d6426e"/><circle cx="916" cy="1047.3" r="3.2" fill="#d6426e"/><circle cx="838.9" cy="1018" r="3.2" fill="#000"/><circle cx="860.8" cy="1006.9" r="3.2" fill="#efc94c"/><circle cx="819.8" cy="1044.4" r="3.2" fill="#d6426e"/><circle cx="851.4" cy="1022.6" r="3.2" fill="#d6426e"/><circle cx="940.3" cy="1018.4" r="3.2" fill="#d6426e"/><circle cx="849.1" cy="1044.5" r="3.2" fill="#efc94c"/><circle cx="869.7" cy="1014.7" r="3.2" fill="#d6426e"/><circle cx="872" cy="1017.9" r="3.2" fill="#000"/><circle cx="853.2" cy="1058.1" r="3.2" fill="#efc94c"/><circle cx="827.6" cy="1061.5" r="3.2" fill="#d6426e"/><circle cx="889.1" cy="1015.7" r="3.2" fill="#efc94c"/><circle cx="906" cy="1048.4" r="3.2" fill="#000"/><circle cx="844.8" cy="1058.2" r="3.2" fill="#d6426e"/><circle cx="874.9" cy="1028.3" r="3.2" fill="#efc94c"/><circle cx="878.3" cy="1062.5" r="3.2" fill="#efc94c"/><circle cx="813.4" cy="1036.7" r="3.2" fill="#000"/><circle cx="908.5" cy="1006.5" r="3.2" fill="#000"/><circle cx="862.2" cy="1038.9" r="3.2" fill="#000"/><circle cx="874.7" cy="1056.9" r="3.2" fill="#efc94c"/><circle cx="816.9" cy="1028.5" r="3.2" fill="#000"/><circle cx="910.5" cy="1062.8" r="3.2" fill="#efc94c"/><circle cx="885.5" cy="984.5" r="3.2" fill="#efc94c"/><circle cx="835.2" cy="1035.3" r="3.2" fill="#efc94c"/><circle cx="902.9" cy="1050.8" r="3.2" fill="#d6426e"/><circle cx="866" cy="1052.9" r="3.2" fill="#000"/><circle cx="869.8" cy="1091.5" r="3.2" fill="#d6426e"/><circle cx="876.7" cy="1031.6" r="3.2" fill="#efc94c"/><circle cx="835.3" cy="995" r="3.2" fill="#000"/><circle cx="863" cy="1027.7" r="3.2" fill="#000"/><circle cx="917.8" cy="1031" r="3.2" fill="#d6426e"/><circle cx="919.4" cy="1063.8" r="3.2" fill="#000"/><circle cx="855.4" cy="1106.7" r="3.2" fill="#000"/><circle cx="880.4" cy="1046.7" r="3.2" fill="#d6426e"/><circle cx="892.1" cy="1039.5" r="3.2" fill="#000"/><circle cx="887.6" cy="1015" r="3.2" fill="#d6426e"/><circle cx="846.9" cy="1048.9" r="3.2" fill="#efc94c"/><circle cx="872.4" cy="966.2" r="3.2" fill="#d6426e"/><circle cx="818.8" cy="1039.9" r="3.2" fill="#efc94c"/><circle cx="832" cy="1037.6" r="3.2" fill="#000"/><circle cx="838.5" cy="983.8" r="3.2" fill="#000"/><circle cx="867.3" cy="1045.4" r="3.2" fill="#d6426e"/><circle cx="840.2" cy="1034.3" r="3.2" fill="#d6426e"/><circle cx="902.1" cy="1041.8" r="3.2" fill="#efc94c"/><circle cx="854.2" cy="1091" r="3.2" fill="#000"/><circle cx="868.2" cy="1039.3" r="3.2" fill="#000"/><circle cx="921.2" cy="1052.4" r="3.2" fill="#d6426e"/><circle cx="840" cy="1028.1" r="3.2" fill="#d6426e"/><circle cx="903.4" cy="1085.4" r="3.2" fill="#d6426e"/><circle cx="889" cy="1046.9" r="3.2" fill="#d6426e"/><circle cx="844.8" cy="1056.8" r="3.2" fill="#d6426e"/><circle cx="912.6" cy="998.7" r="3.2" fill="#000"/><circle cx="864.3" cy="1009.9" r="3.2" fill="#efc94c"/><circle cx="870.8" cy="1057.9" r="3.2" fill="#000"/><circle cx="883.5" cy="1021.4" r="3.2" fill="#000"/><circle cx="881.4" cy="990.4" r="3.2" fill="#efc94c"/><circle cx="856.8" cy="1018.6" r="3.2" fill="#000"/><circle cx="859.1" cy="1085.4" r="3.2" fill="#000"/><circle cx="862.2" cy="1019.5" r="3.2" fill="#d6426e"/><circle cx="832.4" cy="1033.4" r="3.2" fill="#d6426e"/><circle cx="896.8" cy="1079.4" r="3.2" fill="#d6426e"/><circle cx="844.2" cy="1058.4" r="3.2" fill="#000"/><circle cx="892.3" cy="1056.3" r="3.2" fill="#efc94c"/><circle cx="840.2" cy="1056.6" r="3.2" fill="#000"/><circle cx="828.9" cy="1011.5" r="3.2" fill="#d6426e"/><circle cx="890.8" cy="982.1" r="3.2" fill="#d6426e"/><circle cx="877.3" cy="1056.6" r="3.2" fill="#d6426e"/><circle cx="825.6" cy="1048" r="3.2" fill="#d6426e"/><circle cx="903.2" cy="1051.9" r="3.2" fill="#d6426e"/><circle cx="893.1" cy="1099.8" r="3.2" fill="#000"/><circle cx="878.8" cy="1028.1" r="3.2" fill="#000"/><circle cx="871.6" cy="1031.2" r="3.2" fill="#d6426e"/><circle cx="853.5" cy="999.1" r="3.2" fill="#d6426e"/><circle cx="828.1" cy="1077" r="3.2" fill="#000"/><circle cx="850.5" cy="1079.9" r="3.2" fill="#efc94c"/><circle cx="862.7" cy="1015.8" r="3.2" fill="#d6426e"/><circle cx="808.6" cy="1099.4" r="3.2" fill="#efc94c"/><circle cx="874.1" cy="1030.4" r="3.2" fill="#000"/><circle cx="852.2" cy="1104.1" r="3.2" fill="#efc94c"/><circle cx="899.8" cy="1020.2" r="3.2" fill="#d6426e"/><circle cx="888.5" cy="1052.6" r="3.2" fill="#efc94c"/><circle cx="838.3" cy="1035.5" r="3.2" fill="#efc94c"/><circle cx="897" cy="1012.2" r="3.2" fill="#000"/><circle cx="879.8" cy="1019.6" r="3.2" fill="#efc94c"/><circle cx="879.4" cy="1036.2" r="3.2" fill="#efc94c"/><circle cx="826.8" cy="1022.6" r="3.2" fill="#efc94c"/><circle cx="848.4" cy="1073" r="3.2" fill="#efc94c"/><circle cx="850.8" cy="1076" r="3.2" fill="#efc94c"/><circle cx="895.2" cy="1021" r="3.2" fill="#000"/><circle cx="853.5" cy="1013.1" r="3.2" fill="#000"/><circle cx="810.3" cy="1062.6" r="3.2" fill="#000"/><circle cx="909.5" cy="1039.9" r="3.2" fill="#efc94c"/><circle cx="866.8" cy="1041.1" r="3.2" fill="#efc94c"/><circle cx="850.6" cy="1108.7" r="3.2" fill="#000"/><circle cx="818" cy="1040.7" r="3.2" fill="#efc94c"/><circle cx="844.2" cy="992.4" r="3.2" fill="#d6426e"/><circle cx="862.2" cy="1088.6" r="3.2" fill="#000"/><circle cx="856.4" cy="1023" r="3.2" fill="#d6426e"/><circle cx="832.8" cy="1104.3" r="3.2" fill="#d6426e"/><circle cx="859.4" cy="1034.1" r="3.2" fill="#000"/><circle cx="799.5" cy="1084.8" r="3.2" fill="#efc94c"/><circle cx="923.1" cy="1027.9" r="3.2" fill="#d6426e"/><circle cx="839.8" cy="1069.4" r="3.2" fill="#000"/><circle cx="864" cy="1029.5" r="3.2" fill="#efc94c"/><circle cx="903.7" cy="1048.1" r="3.2" fill="#efc94c"/><circle cx="840.2" cy="1036.7" r="3.2" fill="#d6426e"/><circle cx="824.2" cy="1045.1" r="3.2" fill="#efc94c"/><circle cx="921.7" cy="993.7" r="3.2" fill="#d6426e"/><circle cx="852.7" cy="1049.1" r="3.2" fill="#000"/><circle cx="909.6" cy="976.2" r="3.2" fill="#000"/><circle cx="849.1" cy="1035.2" r="3.2" fill="#000"/><circle cx="861.4" cy="1039.5" r="3.2" fill="#efc94c"/><circle cx="847.9" cy="1058" r="3.2" fill="#d6426e"/><circle cx="841.8" cy="1039.4" r="3.2" fill="#efc94c"/><circle cx="819.1" cy="1006.7" r="3.2" fill="#000"/><circle cx="907.6" cy="1007.6" r="3.2" fill="#d6426e"/><circle cx="887.5" cy="1043.6" r="3.2" fill="#d6426e"/><circle cx="844.8" cy="1059.5" r="3.2" fill="#efc94c"/><circle cx="883.9" cy="1059.5" r="3.2" fill="#000"/><circle cx="880.1" cy="1063.5" r="3.2" fill="#000"/><circle cx="853.1" cy="1001.8" r="3.2" fill="#000"/><circle cx="873.1" cy="1061.5" r="3.2" fill="#efc94c"/><circle cx="901.4" cy="1035.6" r="3.2" fill="#efc94c"/><circle cx="839.1" cy="1081.4" r="3.2" fill="#efc94c"/><circle cx="832.4" cy="1104.4" r="3.2" fill="#d6426e"/><circle cx="872.3" cy="1019.4" r="3.2" fill="#d6426e"/><circle cx="859.4" cy="1052.5" r="3.2" fill="#d6426e"/><circle cx="871.3" cy="1087.2" r="3.2" fill="#d6426e"/><circle cx="894.7" cy="1021.1" r="3.2" fill="#000"/><circle cx="870.4" cy="1002" r="3.2" fill="#d6426e"/><circle cx="862.8" cy="1036.1" r="3.2" fill="#000"/><circle cx="854.4" cy="1061.1" r="3.2" fill="#d6426e"/><circle cx="828.4" cy="1082.8" r="3.2" fill="#000"/><circle cx="884.3" cy="1042.2" r="3.2" fill="#efc94c"/><circle cx="840.5" cy="1048.6" r="3.2" fill="#efc94c"/><circle cx="916" cy="1010.4" r="3.2" fill="#000"/><circle cx="860.7" cy="1066.8" r="3.2" fill="#efc94c"/><circle cx="1149" cy="758.5" r="3.2" fill="#000"/><circle cx="1098.6" cy="799.1" r="3.2" fill="#000"/><circle cx="1103.7" cy="804.7" r="3.2" fill="#000"/><circle cx="1116.3" cy="813.1" r="3.2" fill="#000"/><circle cx="1135" cy="813.1" r="3.2" fill="#000"/><circle cx="1076.6" cy="822.4" r="3.2" fill="#000"/><circle cx="1062.6" cy="837.4" r="3.2" fill="#000"/><circle cx="1059.4" cy="860.7" r="3.2" fill="#000"/><circle cx="1070.6" cy="860.7" r="3.2" fill="#000"/><circle cx="1085" cy="852.8" r="3.2" fill="#000"/><circle cx="1022" cy="881.7" r="3.2" fill="#000"/><circle cx="1016.4" cy="887.8" r="3.2" fill="#000"/><circle cx="1036.9" cy="906.5" r="3.2" fill="#000"/><circle cx="1018.3" cy="908.8" r="3.2" fill="#000"/><circle cx="1004.2" cy="908.8" r="3.2" fill="#000"/><circle cx="1011.3" cy="918.2" r="3.2" fill="#000"/><circle cx="996.3" cy="900.4" r="3.2" fill="#000"/><circle cx="1008.9" cy="906.5" r="3.2" fill="#000"/><circle cx="987.9" cy="911.2" r="3.2" fill="#000"/><circle cx="991.2" cy="913.5" r="3.2" fill="#000"/><circle cx="984.2" cy="922.8" r="3.2" fill="#000"/><circle cx="966.9" cy="918.2" r="3.2" fill="#000"/><circle cx="976.2" cy="918.2" r="3.2" fill="#000"/><circle cx="983.2" cy="927.5" r="3.2" fill="#000"/><circle cx="970.6" cy="927.5" r="3.2" fill="#000"/><circle cx="985.6" cy="945.2" r="3.2" fill="#000"/><circle cx="972.5" cy="939.2" r="3.2" fill="#000"/><circle cx="963.2" cy="931.2" r="3.2" fill="#000"/><circle cx="953.8" cy="943.8" r="3.2" fill="#000"/><circle cx="955.2" cy="937.8" r="3.2" fill="#000"/><circle cx="959.9" cy="962.5" r="3.2" fill="#000"/><circle cx="949.6" cy="969.5" r="3.2" fill="#000"/><circle cx="961.3" cy="971.9" r="3.2" fill="#000"/><circle cx="955.2" cy="945.2" r="3.2" fill="#000"/><circle cx="935.6" cy="967.2" r="3.2" fill="#000"/><circle cx="946.8" cy="968.6" r="3.2" fill="#000"/><circle cx="918.8" cy="957.9" r="3.2" fill="#000"/><circle cx="913.2" cy="976.5" r="3.2" fill="#000"/><circle cx="925.8" cy="985.9" r="3.2" fill="#000"/><circle cx="912.3" cy="980.3" r="3.2" fill="#000"/><circle cx="938.9" cy="1055.9" r="3.2" fill="#000"/><circle cx="931.9" cy="1051.3" r="3.2" fill="#000"/><circle cx="902.9" cy="1107.3" r="3.2" fill="#000"/><circle cx="999.6" cy="913.5" r="3.2" fill="#000"/><circle cx="966.9" cy="927.5" r="3.2" fill="#000"/><circle cx="987.9" cy="920.5" r="3.2" fill="#000"/><circle cx="934.2" cy="1002.2" r="3.2" fill="#000"/><circle cx="929.5" cy="997.5" r="3.2" fill="#000"/><circle cx="1116.3" cy="933.1" r="3.2" fill="#d6426e"/><circle cx="1135" cy="940.1" r="3.2" fill="#d6426e"/><circle cx="1149" cy="956.5" r="3.2" fill="#d6426e"/><circle cx="1076.6" cy="948.5" r="3.2" fill="#d6426e"/><circle cx="1103.7" cy="949.9" r="3.2" fill="#d6426e"/><circle cx="1059.4" cy="985.9" r="3.2" fill="#d6426e"/><circle cx="1063.1" cy="967.2" r="3.2" fill="#d6426e"/><circle cx="1085" cy="971.9" r="3.2" fill="#d6426e"/><circle cx="1099" cy="968.6" r="3.2" fill="#d6426e"/><circle cx="1037.4" cy="967.2" r="3.2" fill="#d6426e"/><circle cx="1013.6" cy="967.2" r="3.2" fill="#d6426e"/><circle cx="1005.2" cy="977" r="3.2" fill="#d6426e"/><circle cx="997.2" cy="988.2" r="3.2" fill="#d6426e"/><circle cx="986.5" cy="988.2" r="3.2" fill="#d6426e"/><circle cx="1022.9" cy="999" r="3.2" fill="#d6426e"/><circle cx="1018.3" cy="1002.2" r="3.2" fill="#d6426e"/><circle cx="1007" cy="1000.4" r="3.2" fill="#d6426e"/><circle cx="974.4" cy="997.5" r="3.2" fill="#d6426e"/><circle cx="968.3" cy="987.3" r="3.2" fill="#d6426e"/><circle cx="962.2" cy="975.6" r="3.2" fill="#d6426e"/><circle cx="933.3" cy="1007.8" r="3.2" fill="#d6426e"/><circle cx="939.3" cy="1001.3" r="3.2" fill="#d6426e"/><circle cx="1070.6" cy="1041" r="3.2" fill="#d6426e"/><circle cx="973" cy="1055" r="3.2" fill="#d6426e"/><circle cx="931.4" cy="1101.7" r="3.2" fill="#d6426e"/><circle cx="962.2" cy="1002.2" r="3.2" fill="#d6426e"/><circle cx="973.9" cy="1016.2" r="3.2" fill="#d6426e"/><circle cx="957.5" cy="1027.9" r="3.2" fill="#d6426e"/><circle cx="966.9" cy="1034.9" r="3.2" fill="#d6426e"/><circle cx="948.2" cy="1025.6" r="3.2" fill="#d6426e"/><circle cx="938.9" cy="1016.2" r="3.2" fill="#d6426e"/><circle cx="983.2" cy="1006.9" r="3.2" fill="#d6426e"/><circle cx="943.5" cy="988.2" r="3.2" fill="#d6426e"/><circle cx="924.9" cy="1006.9" r="3.2" fill="#d6426e"/><circle cx="1149" cy="1034" r="3.2" fill="#efc94c"/><circle cx="1135" cy="1047.5" r="3.2" fill="#efc94c"/><circle cx="1116.3" cy="1059.7" r="3.2" fill="#efc94c"/><circle cx="1103.7" cy="1012.5" r="3.2" fill="#efc94c"/><circle cx="1085" cy="1017.2" r="3.2" fill="#efc94c"/><circle cx="1076.6" cy="1023.2" r="3.2" fill="#efc94c"/><circle cx="1063.1" cy="1026.5" r="3.2" fill="#efc94c"/><circle cx="1059.4" cy="1079.3" r="3.2" fill="#efc94c"/><circle cx="1070.6" cy="1067.6" r="3.2" fill="#efc94c"/><circle cx="1037.4" cy="1006.9" r="3.2" fill="#efc94c"/><circle cx="1022.5" cy="1051.3" r="3.2" fill="#efc94c"/><circle cx="1017.3" cy="1041.9" r="3.2" fill="#efc94c"/><circle cx="1008.9" cy="1041.9" r="3.2" fill="#efc94c"/><circle cx="994.9" cy="1039.6" r="3.2" fill="#efc94c"/><circle cx="999.6" cy="1057.3" r="3.2" fill="#efc94c"/><circle cx="985.6" cy="1025.6" r="3.2" fill="#efc94c"/><circle cx="995.8" cy="1018.6" r="3.2" fill="#efc94c"/><circle cx="959.9" cy="1054.5" r="3.2" fill="#efc94c"/><circle cx="952.9" cy="1057.3" r="3.2" fill="#efc94c"/><circle cx="972.5" cy="1074.6" r="3.2" fill="#efc94c"/><circle cx="959.9" cy="1059.2" r="3.2" fill="#efc94c"/><circle cx="949.1" cy="1077.9" r="3.2" fill="#efc94c"/><circle cx="944.5" cy="1093.3" r="3.2" fill="#efc94c"/><circle cx="959.9" cy="1101.7" r="3.2" fill="#efc94c"/><circle cx="974.4" cy="1104" r="3.2" fill="#efc94c"/><circle cx="980.9" cy="1002.2" r="3.2" fill="#efc94c"/><circle cx="966.9" cy="1025.6" r="3.2" fill="#efc94c"/><circle cx="948.2" cy="1006.9" r="3.2" fill="#efc94c"/><circle cx="962.2" cy="1016.2" r="3.2" fill="#efc94c"/><circle cx="934.2" cy="1034.9" r="3.2" fill="#efc94c"/><circle cx="938.9" cy="1027.9" r="3.2" fill="#efc94c"/><circle cx="929.5" cy="1020.9" r="3.2" fill="#efc94c"/><circle cx="966.9" cy="997.5" r="3.2" fill="#efc94c"/><circle cx="987.9" cy="1016.2" r="3.2" fill="#efc94c"/><circle cx="945.9" cy="1051.3" r="3.2" fill="#efc94c"/></g>
<rect x="783.8" y="741.6" width="382.5" height="385.80000000000007" fill="none" stroke="#c8c8c8" stroke-width="1.4"/>
<line x1="778.3" y1="1055" x2="783.8" y2="1055" stroke="#bdbdbd" stroke-width="1.3"/>
<text x="774" y="1072.4" font-size="33.7" text-anchor="end" fill="#111" >0</text>
<line x1="862.7" y1="1127.4" x2="862.7" y2="1131.9" stroke="#bdbdbd" stroke-width="1.3"/>
<text x="865.2" y="1171" font-size="33.7" text-anchor="middle" fill="#111" >0</text>
<line x1="778.3" y1="960.8" x2="783.8" y2="960.8" stroke="#bdbdbd" stroke-width="1.3"/>
<text x="774" y="978.2" font-size="33.7" text-anchor="end" fill="#111" >1</text>
<line x1="960.3" y1="1127.4" x2="960.3" y2="1131.9" stroke="#bdbdbd" stroke-width="1.3"/>
<text x="962.8" y="1171" font-size="33.7" text-anchor="middle" fill="#111" >1</text>
<line x1="778.3" y1="866.6" x2="783.8" y2="866.6" stroke="#bdbdbd" stroke-width="1.3"/>
<text x="774" y="884" font-size="33.7" text-anchor="end" fill="#111" >2</text>
<line x1="1057.9" y1="1127.4" x2="1057.9" y2="1131.9" stroke="#bdbdbd" stroke-width="1.3"/>
<text x="1060.4" y="1171" font-size="33.7" text-anchor="middle" fill="#111" >2</text>
<line x1="778.3" y1="772.4" x2="783.8" y2="772.4" stroke="#bdbdbd" stroke-width="1.3"/>
<text x="774" y="789.8" font-size="33.7" text-anchor="end" fill="#111" >3</text>
<line x1="1155.5" y1="1127.4" x2="1155.5" y2="1131.9" stroke="#bdbdbd" stroke-width="1.3"/>
<text x="1158" y="1171" font-size="33.7" text-anchor="middle" fill="#111" >3</text>
<text x="992.5" y="1209.6" font-size="33.7" text-anchor="middle" fill="#000" >Serum VARscore</text>
<text transform="translate(738.5 913) rotate(-90)" font-size="33.7" text-anchor="middle">Mosquito VARscore</text>
<text x="1254" y="869.4" font-size="28.8" text-anchor="middle" fill="#000" >Hours</text>
<text x="1254" y="905.3" font-size="28.8" text-anchor="middle" fill="#000" >Post Feed</text>
<path d="M1215.8 946.1L1220 941.9L1226.4 941.9L1230.6 946.1L1230.6 952.1L1226.4 956.3L1220 956.3L1215.8 952.1Z" fill="#000"/>
<text x="1239.3" y="957.5" font-size="28.6" text-anchor="start" fill="#000" >0</text>
<path d="M1215.8 992.8L1220 988.6L1226.4 988.6L1230.6 992.8L1230.6 998.8L1226.4 1003L1220 1003L1215.8 998.8Z" fill="#d6426e"/>
<text x="1239.3" y="1010" font-size="28.6" text-anchor="start" fill="#000" >24</text>
<path d="M1215.8 1044.2L1220 1040L1226.4 1040L1230.6 1044.2L1230.6 1050.2L1226.4 1054.4L1220 1054.4L1215.8 1050.2Z" fill="#efc94c"/>
<text x="1239.3" y="1059.2" font-size="28.6" text-anchor="start" fill="#000" >48</text>
<g><rect x="161.1" y="1391" width="27" height="28.5" fill="#f7fcf5" stroke="#bdbdbd" stroke-width="1.6"/><rect x="188.1" y="1391" width="27" height="28.5" fill="#41ab5d" stroke="#bdbdbd" stroke-width="1.6"/><rect x="215.2" y="1391" width="27" height="28.5" fill="#f7fcf5" stroke="#bdbdbd" stroke-width="1.6"/><rect x="242.2" y="1391" width="27" height="28.5" fill="#6cc070" stroke="#bdbdbd" stroke-width="1.6"/><rect x="269.2" y="1391" width="27" height="28.5" fill="#f7fcf5" stroke="#bdbdbd" stroke-width="1.6"/><rect x="296.2" y="1391" width="27" height="28.5" fill="#6cc070" stroke="#bdbdbd" stroke-width="1.6"/><rect x="323.3" y="1391" width="27" height="28.5" fill="#f7fcf5" stroke="#bdbdbd" stroke-width="1.6"/><rect x="350.3" y="1391" width="27" height="28.5" fill="#6cc070" stroke="#bdbdbd" stroke-width="1.6"/><rect x="161.1" y="1391" width="216.2" height="28.5" fill="none" stroke="#bdbdbd" stroke-width="1.8"/><rect x="161.1" y="1423.6" width="27" height="28.5" fill="#e5e5e5" stroke="#bdbdbd" stroke-width="1.6"/><rect x="188.1" y="1423.6" width="27" height="28.5" fill="#00008b" stroke="#bdbdbd" stroke-width="1.6"/><rect x="215.2" y="1423.6" width="27" height="28.5" fill="#e5e5e5" stroke="#bdbdbd" stroke-width="1.6"/><rect x="242.2" y="1423.6" width="27" height="28.5" fill="#00008b" stroke="#bdbdbd" stroke-width="1.6"/><rect x="269.2" y="1423.6" width="27" height="28.5" fill="#e5e5e5" stroke="#bdbdbd" stroke-width="1.6"/><rect x="296.2" y="1423.6" width="27" height="28.5" fill="#00008b" stroke="#bdbdbd" stroke-width="1.6"/><rect x="323.3" y="1423.6" width="27" height="28.5" fill="#e5e5e5" stroke="#bdbdbd" stroke-width="1.6"/><rect x="350.3" y="1423.6" width="27" height="28.5" fill="#00008b" stroke="#bdbdbd" stroke-width="1.6"/><rect x="161.1" y="1423.6" width="216.2" height="28.5" fill="none" stroke="#bdbdbd" stroke-width="1.8"/><rect x="161.1" y="1460" width="27" height="27.1" fill="#c87d7d" stroke="#bdbdbd" stroke-width="1.6"/><rect x="188.1" y="1460" width="27" height="27.1" fill="#c47878" stroke="#bdbdbd" stroke-width="1.6"/><rect x="215.2" y="1460" width="27" height="27.1" fill="#cd9191" stroke="#bdbdbd" stroke-width="1.6"/><rect x="242.2" y="1460" width="27" height="27.1" fill="#c57a7a" stroke="#bdbdbd" stroke-width="1.6"/><rect x="269.2" y="1460" width="27" height="27.1" fill="#fff" stroke="#bdbdbd" stroke-width="1.6"/><rect x="296.2" y="1460" width="27" height="27.1" fill="#fff" stroke="#bdbdbd" stroke-width="1.6"/><rect x="323.3" y="1460" width="27" height="27.1" fill="#fff" stroke="#bdbdbd" stroke-width="1.6"/><rect x="350.3" y="1460" width="27" height="27.1" fill="#b55c5c" stroke="#bdbdbd" stroke-width="1.6"/><rect x="161.1" y="1487.1" width="27" height="27.1" fill="#fff" stroke="#bdbdbd" stroke-width="1.6"/><rect x="188.1" y="1487.1" width="27" height="27.1" fill="#c98484" stroke="#bdbdbd" stroke-width="1.6"/><rect x="215.2" y="1487.1" width="27" height="27.1" fill="#c27676" stroke="#bdbdbd" stroke-width="1.6"/><rect x="242.2" y="1487.1" width="27" height="27.1" fill="#a33b3b" stroke="#bdbdbd" stroke-width="1.6"/><rect x="269.2" y="1487.1" width="27" height="27.1" fill="#fff" stroke="#bdbdbd" stroke-width="1.6"/><rect x="296.2" y="1487.1" width="27" height="27.1" fill="#dbb0b0" stroke="#bdbdbd" stroke-width="1.6"/><rect x="323.3" y="1487.1" width="27" height="27.1" fill="#fff" stroke="#bdbdbd" stroke-width="1.6"/><rect x="350.3" y="1487.1" width="27" height="27.1" fill="#b35858" stroke="#bdbdbd" stroke-width="1.6"/><rect x="161.1" y="1514.2" width="27" height="27.1" fill="#fff" stroke="#bdbdbd" stroke-width="1.6"/><rect x="188.1" y="1514.2" width="27" height="27.1" fill="#fff" stroke="#bdbdbd" stroke-width="1.6"/><rect x="215.2" y="1514.2" width="27" height="27.1" fill="#fff" stroke="#bdbdbd" stroke-width="1.6"/><rect x="242.2" y="1514.2" width="27" height="27.1" fill="#fff" stroke="#bdbdbd" stroke-width="1.6"/><rect x="269.2" y="1514.2" width="27" height="27.1" fill="#fff" stroke="#bdbdbd" stroke-width="1.6"/><rect x="296.2" y="1514.2" width="27" height="27.1" fill="#dcb0b0" stroke="#bdbdbd" stroke-width="1.6"/><rect x="323.3" y="1514.2" width="27" height="27.1" fill="#fff" stroke="#bdbdbd" stroke-width="1.6"/><rect x="350.3" y="1514.2" width="27" height="27.1" fill="#fff" stroke="#bdbdbd" stroke-width="1.6"/><rect x="161.1" y="1541.3" width="27" height="27.1" fill="#fff" stroke="#bdbdbd" stroke-width="1.6"/><rect x="188.1" y="1541.3" width="27" height="27.1" fill="#fff" stroke="#bdbdbd" stroke-width="1.6"/><rect x="215.2" y="1541.3" width="27" height="27.1" fill="#c07070" stroke="#bdbdbd" stroke-width="1.6"/><rect x="242.2" y="1541.3" width="27" height="27.1" fill="#b55f5f" stroke="#bdbdbd" stroke-width="1.6"/><rect x="269.2" y="1541.3" width="27" height="27.1" fill="#fff" stroke="#bdbdbd" stroke-width="1.6"/><rect x="296.2" y="1541.3" width="27" height="27.1" fill="#fff" stroke="#bdbdbd" stroke-width="1.6"/><rect x="323.3" y="1541.3" width="27" height="27.1" fill="#fff" stroke="#bdbdbd" stroke-width="1.6"/><rect x="350.3" y="1541.3" width="27" height="27.1" fill="#e0bcbc" stroke="#bdbdbd" stroke-width="1.6"/><rect x="161.1" y="1460" width="216.2" height="108.4" fill="none" stroke="#bdbdbd" stroke-width="1.8"/><rect x="161.1" y="1577.3" width="27" height="27.4" fill="#d4a0a0" stroke="#bdbdbd" stroke-width="1.6"/><rect x="188.1" y="1577.3" width="27" height="27.4" fill="#ddb3b3" stroke="#bdbdbd" stroke-width="1.6"/><rect x="215.2" y="1577.3" width="27" height="27.4" fill="#fff" stroke="#bdbdbd" stroke-width="1.6"/><rect x="242.2" y="1577.3" width="27" height="27.4" fill="#fff" stroke="#bdbdbd" stroke-width="1.6"/><rect x="269.2" y="1577.3" width="27" height="27.4" fill="#fff" stroke="#bdbdbd" stroke-width="1.6"/><rect x="296.2" y="1577.3" width="27" height="27.4" fill="#fff" stroke="#bdbdbd" stroke-width="1.6"/><rect x="323.3" y="1577.3" width="27" height="27.4" fill="#fff" stroke="#bdbdbd" stroke-width="1.6"/><rect x="350.3" y="1577.3" width="27" height="27.4" fill="#fff" stroke="#bdbdbd" stroke-width="1.6"/><rect x="161.1" y="1604.7" width="27" height="27.4" fill="#fff" stroke="#bdbdbd" stroke-width="1.6"/><rect x="188.1" y="1604.7" width="27" height="27.4" fill="#fff" stroke="#bdbdbd" stroke-width="1.6"/><rect x="215.2" y="1604.7" width="27" height="27.4" fill="#fff" stroke="#bdbdbd" stroke-width="1.6"/><rect x="242.2" y="1604.7" width="27" height="27.4" fill="#fff" stroke="#bdbdbd" stroke-width="1.6"/><rect x="269.2" y="1604.7" width="27" height="27.4" fill="#fff" stroke="#bdbdbd" stroke-width="1.6"/><rect x="296.2" y="1604.7" width="27" height="27.4" fill="#fff" stroke="#bdbdbd" stroke-width="1.6"/><rect x="323.3" y="1604.7" width="27" height="27.4" fill="#fff" stroke="#bdbdbd" stroke-width="1.6"/><rect x="350.3" y="1604.7" width="27" height="27.4" fill="#fff" stroke="#bdbdbd" stroke-width="1.6"/><rect x="161.1" y="1632.1" width="27" height="27.4" fill="#fff" stroke="#bdbdbd" stroke-width="1.6"/><rect x="188.1" y="1632.1" width="27" height="27.4" fill="#fff" stroke="#bdbdbd" stroke-width="1.6"/><rect x="215.2" y="1632.1" width="27" height="27.4" fill="#fff" stroke="#bdbdbd" stroke-width="1.6"/><rect x="242.2" y="1632.1" width="27" height="27.4" fill="#fff" stroke="#bdbdbd" stroke-width="1.6"/><rect x="269.2" y="1632.1" width="27" height="27.4" fill="#d4a0a0" stroke="#bdbdbd" stroke-width="1.6"/><rect x="296.2" y="1632.1" width="27" height="27.4" fill="#e0b9b9" stroke="#bdbdbd" stroke-width="1.6"/><rect x="323.3" y="1632.1" width="27" height="27.4" fill="#fff" stroke="#bdbdbd" stroke-width="1.6"/><rect x="350.3" y="1632.1" width="27" height="27.4" fill="#fff" stroke="#bdbdbd" stroke-width="1.6"/><rect x="161.1" y="1659.5" width="27" height="27.4" fill="#fff" stroke="#bdbdbd" stroke-width="1.6"/><rect x="188.1" y="1659.5" width="27" height="27.4" fill="#fff" stroke="#bdbdbd" stroke-width="1.6"/><rect x="215.2" y="1659.5" width="27" height="27.4" fill="#fff" stroke="#bdbdbd" stroke-width="1.6"/><rect x="242.2" y="1659.5" width="27" height="27.4" fill="#fff" stroke="#bdbdbd" stroke-width="1.6"/><rect x="269.2" y="1659.5" width="27" height="27.4" fill="#fff" stroke="#bdbdbd" stroke-width="1.6"/><rect x="296.2" y="1659.5" width="27" height="27.4" fill="#fff" stroke="#bdbdbd" stroke-width="1.6"/><rect x="323.3" y="1659.5" width="27" height="27.4" fill="#fff" stroke="#bdbdbd" stroke-width="1.6"/><rect x="350.3" y="1659.5" width="27" height="27.4" fill="#fff" stroke="#bdbdbd" stroke-width="1.6"/><rect x="161.1" y="1686.9" width="27" height="27.4" fill="#fff" stroke="#bdbdbd" stroke-width="1.6"/><rect x="188.1" y="1686.9" width="27" height="27.4" fill="#fff" stroke="#bdbdbd" stroke-width="1.6"/><rect x="215.2" y="1686.9" width="27" height="27.4" fill="#fff" stroke="#bdbdbd" stroke-width="1.6"/><rect x="242.2" y="1686.9" width="27" height="27.4" fill="#fff" stroke="#bdbdbd" stroke-width="1.6"/><rect x="269.2" y="1686.9" width="27" height="27.4" fill="#fff" stroke="#bdbdbd" stroke-width="1.6"/><rect x="296.2" y="1686.9" width="27" height="27.4" fill="#fff" stroke="#bdbdbd" stroke-width="1.6"/><rect x="323.3" y="1686.9" width="27" height="27.4" fill="#fff" stroke="#bdbdbd" stroke-width="1.6"/><rect x="350.3" y="1686.9" width="27" height="27.4" fill="#fff" stroke="#bdbdbd" stroke-width="1.6"/><rect x="161.1" y="1577.3" width="216.2" height="137" fill="none" stroke="#bdbdbd" stroke-width="1.8"/><rect x="161.1" y="1723.8" width="27" height="27.6" fill="#fff" stroke="#bdbdbd" stroke-width="1.6"/><rect x="188.1" y="1723.8" width="27" height="27.6" fill="#fff" stroke="#bdbdbd" stroke-width="1.6"/><rect x="215.2" y="1723.8" width="27" height="27.6" fill="#fff" stroke="#bdbdbd" stroke-width="1.6"/><rect x="242.2" y="1723.8" width="27" height="27.6" fill="#fff" stroke="#bdbdbd" stroke-width="1.6"/><rect x="269.2" y="1723.8" width="27" height="27.6" fill="#fff" stroke="#bdbdbd" stroke-width="1.6"/><rect x="296.2" y="1723.8" width="27" height="27.6" fill="#fff" stroke="#bdbdbd" stroke-width="1.6"/><rect x="323.3" y="1723.8" width="27" height="27.6" fill="#fff" stroke="#bdbdbd" stroke-width="1.6"/><rect x="350.3" y="1723.8" width="27" height="27.6" fill="#fff" stroke="#bdbdbd" stroke-width="1.6"/><rect x="161.1" y="1751.5" width="27" height="27.6" fill="#fff" stroke="#bdbdbd" stroke-width="1.6"/><rect x="188.1" y="1751.5" width="27" height="27.6" fill="#fff" stroke="#bdbdbd" stroke-width="1.6"/><rect x="215.2" y="1751.5" width="27" height="27.6" fill="#fff" stroke="#bdbdbd" stroke-width="1.6"/><rect x="242.2" y="1751.5" width="27" height="27.6" fill="#e0bcbc" stroke="#bdbdbd" stroke-width="1.6"/><rect x="269.2" y="1751.5" width="27" height="27.6" fill="#d4a3a3" stroke="#bdbdbd" stroke-width="1.6"/><rect x="296.2" y="1751.5" width="27" height="27.6" fill="#d8aaaa" stroke="#bdbdbd" stroke-width="1.6"/><rect x="323.3" y="1751.5" width="27" height="27.6" fill="#fff" stroke="#bdbdbd" stroke-width="1.6"/><rect x="350.3" y="1751.5" width="27" height="27.6" fill="#fff" stroke="#bdbdbd" stroke-width="1.6"/><rect x="161.1" y="1779.1" width="27" height="27.6" fill="#fff" stroke="#bdbdbd" stroke-width="1.6"/><rect x="188.1" y="1779.1" width="27" height="27.6" fill="#fff" stroke="#bdbdbd" stroke-width="1.6"/><rect x="215.2" y="1779.1" width="27" height="27.6" fill="#fff" stroke="#bdbdbd" stroke-width="1.6"/><rect x="242.2" y="1779.1" width="27" height="27.6" fill="#fff" stroke="#bdbdbd" stroke-width="1.6"/><rect x="269.2" y="1779.1" width="27" height="27.6" fill="#fff" stroke="#bdbdbd" stroke-width="1.6"/><rect x="296.2" y="1779.1" width="27" height="27.6" fill="#dcb0b0" stroke="#bdbdbd" stroke-width="1.6"/><rect x="323.3" y="1779.1" width="27" height="27.6" fill="#fff" stroke="#bdbdbd" stroke-width="1.6"/><rect x="350.3" y="1779.1" width="27" height="27.6" fill="#fff" stroke="#bdbdbd" stroke-width="1.6"/><rect x="161.1" y="1723.8" width="216.2" height="82.9" fill="none" stroke="#bdbdbd" stroke-width="1.8"/><rect x="388.4" y="1391" width="27" height="28.5" fill="#f7fcf5" stroke="#bdbdbd" stroke-width="1.6"/><rect x="415.4" y="1391" width="27" height="28.5" fill="#93d18e" stroke="#bdbdbd" stroke-width="1.6"/><rect x="442.5" y="1391" width="27" height="28.5" fill="#f7fcf5" stroke="#bdbdbd" stroke-width="1.6"/><rect x="469.5" y="1391" width="27" height="28.5" fill="#41ab5d" stroke="#bdbdbd" stroke-width="1.6"/><rect x="496.5" y="1391" width="27" height="28.5" fill="#f7fcf5" stroke="#bdbdbd" stroke-width="1.6"/><rect x="523.5" y="1391" width="27" height="28.5" fill="#93d18e" stroke="#bdbdbd" stroke-width="1.6"/><rect x="550.6" y="1391" width="108.1" height="28.5" fill="#bdbdbd"/><rect x="658.7" y="1391" width="27" height="28.5" fill="#f7fcf5" stroke="#bdbdbd" stroke-width="1.6"/><rect x="685.7" y="1391" width="27" height="28.5" fill="#00441b" stroke="#bdbdbd" stroke-width="1.6"/><rect x="712.8" y="1391" width="27" height="28.5" fill="#6cc070" stroke="#bdbdbd" stroke-width="1.6"/><rect x="739.8" y="1391" width="27" height="28.5" fill="#f7fcf5" stroke="#bdbdbd" stroke-width="1.6"/><rect x="766.8" y="1391" width="27" height="28.5" fill="#006d2c" stroke="#bdbdbd" stroke-width="1.6"/><rect x="793.9" y="1391" width="27" height="28.5" fill="#93d18e" stroke="#bdbdbd" stroke-width="1.6"/><rect x="820.9" y="1391" width="27" height="28.5" fill="#f7fcf5" stroke="#bdbdbd" stroke-width="1.6"/><rect x="847.9" y="1391" width="27" height="28.5" fill="#006d2c" stroke="#bdbdbd" stroke-width="1.6"/><rect x="874.9" y="1391" width="27" height="28.5" fill="#41ab5d" stroke="#bdbdbd" stroke-width="1.6"/><rect x="902" y="1391" width="27" height="28.5" fill="#f7fcf5" stroke="#bdbdbd" stroke-width="1.6"/><rect x="929" y="1391" width="27" height="28.5" fill="#006d2c" stroke="#bdbdbd" stroke-width="1.6"/><rect x="956" y="1391" width="27" height="28.5" fill="#41ab5d" stroke="#bdbdbd" stroke-width="1.6"/><rect x="388.4" y="1391" width="594.7" height="28.5" fill="none" stroke="#bdbdbd" stroke-width="1.8"/><rect x="388.4" y="1423.6" width="27" height="28.5" fill="#e5e5e5" stroke="#bdbdbd" stroke-width="1.6"/><rect x="415.4" y="1423.6" width="27" height="28.5" fill="#ffa500" stroke="#bdbdbd" stroke-width="1.6"/><rect x="442.5" y="1423.6" width="27" height="28.5" fill="#e5e5e5" stroke="#bdbdbd" stroke-width="1.6"/><rect x="469.5" y="1423.6" width="27" height="28.5" fill="#ffa500" stroke="#bdbdbd" stroke-width="1.6"/><rect x="496.5" y="1423.6" width="27" height="28.5" fill="#e5e5e5" stroke="#bdbdbd" stroke-width="1.6"/><rect x="523.5" y="1423.6" width="27" height="28.5" fill="#ffa500" stroke="#bdbdbd" stroke-width="1.6"/><rect x="550.6" y="1423.6" width="27" height="28.5" fill="#e5e5e5" stroke="#bdbdbd" stroke-width="1.6"/><rect x="577.6" y="1423.6" width="27" height="28.5" fill="#e5e5e5" stroke="#bdbdbd" stroke-width="1.6"/><rect x="604.6" y="1423.6" width="27" height="28.5" fill="#a020f0" stroke="#bdbdbd" stroke-width="1.6"/><rect x="631.7" y="1423.6" width="27" height="28.5" fill="#a020f0" stroke="#bdbdbd" stroke-width="1.6"/><rect x="658.7" y="1423.6" width="27" height="28.5" fill="#e5e5e5" stroke="#bdbdbd" stroke-width="1.6"/><rect x="685.7" y="1423.6" width="27" height="28.5" fill="#00008b" stroke="#bdbdbd" stroke-width="1.6"/><rect x="712.8" y="1423.6" width="27" height="28.5" fill="#00008b" stroke="#bdbdbd" stroke-width="1.6"/><rect x="739.8" y="1423.6" width="27" height="28.5" fill="#e5e5e5" stroke="#bdbdbd" stroke-width="1.6"/><rect x="766.8" y="1423.6" width="27" height="28.5" fill="#00008b" stroke="#bdbdbd" stroke-width="1.6"/><rect x="793.9" y="1423.6" width="27" height="28.5" fill="#00008b" stroke="#bdbdbd" stroke-width="1.6"/><rect x="820.9" y="1423.6" width="27" height="28.5" fill="#e5e5e5" stroke="#bdbdbd" stroke-width="1.6"/><rect x="847.9" y="1423.6" width="27" height="28.5" fill="#00008b" stroke="#bdbdbd" stroke-width="1.6"/><rect x="874.9" y="1423.6" width="27" height="28.5" fill="#00008b" stroke="#bdbdbd" stroke-width="1.6"/><rect x="902" y="1423.6" width="27" height="28.5" fill="#e5e5e5" stroke="#bdbdbd" stroke-width="1.6"/><rect x="929" y="1423.6" width="27" height="28.5" fill="#00008b" stroke="#bdbdbd" stroke-width="1.6"/><rect x="956" y="1423.6" width="27" height="28.5" fill="#00008b" stroke="#bdbdbd" stroke-width="1.6"/><rect x="388.4" y="1423.6" width="594.7" height="28.5" fill="none" stroke="#bdbdbd" stroke-width="1.8"/><rect x="388.4" y="1460" width="27" height="27.1" fill="#fff" stroke="#bdbdbd" stroke-width="1.6"/><rect x="415.4" y="1460" width="27" height="27.1" fill="#fff" stroke="#bdbdbd" stroke-width="1.6"/><rect x="442.5" y="1460" width="27" height="27.1" fill="#fff" stroke="#bdbdbd" stroke-width="1.6"/><rect x="469.5" y="1460" width="27" height="27.1" fill="#dfb5b5" stroke="#bdbdbd" stroke-width="1.6"/><rect x="496.5" y="1460" width="27" height="27.1" fill="#fff" stroke="#bdbdbd" stroke-width="1.6"/><rect x="523.5" y="1460" width="27" height="27.1" fill="#fff" stroke="#bdbdbd" stroke-width="1.6"/><rect x="550.6" y="1460" width="27" height="27.1" fill="#fff" stroke="#bdbdbd" stroke-width="1.6"/><rect x="577.6" y="1460" width="27" height="27.1" fill="#fff" stroke="#bdbdbd" stroke-width="1.6"/><rect x="604.6" y="1460" width="27" height="27.1" fill="#fff" stroke="#bdbdbd" stroke-width="1.6"/><rect x="631.7" y="1460" width="27" height="27.1" fill="#daadad" stroke="#bdbdbd" stroke-width="1.6"/><rect x="658.7" y="1460" width="27" height="27.1" fill="#fff" stroke="#bdbdbd" stroke-width="1.6"/><rect x="685.7" y="1460" width="27" height="27.1" fill="#fff" stroke="#bdbdbd" stroke-width="1.6"/><rect x="712.8" y="1460" width="27" height="27.1" fill="#fff" stroke="#bdbdbd" stroke-width="1.6"/><rect x="739.8" y="1460" width="27" height="27.1" fill="#fff" stroke="#bdbdbd" stroke-width="1.6"/><rect x="766.8" y="1460" width="27" height="27.1" fill="#fff" stroke="#bdbdbd" stroke-width="1.6"/><rect x="793.9" y="1460" width="27" height="27.1" fill="#fff" stroke="#bdbdbd" stroke-width="1.6"/><rect x="820.9" y="1460" width="27" height="27.1" fill="#fff" stroke="#bdbdbd" stroke-width="1.6"/><rect x="847.9" y="1460" width="27" height="27.1" fill="#fff" stroke="#bdbdbd" stroke-width="1.6"/><rect x="874.9" y="1460" width="27" height="27.1" fill="#fff" stroke="#bdbdbd" stroke-width="1.6"/><rect x="902" y="1460" width="27" height="27.1" fill="#d39a9a" stroke="#bdbdbd" stroke-width="1.6"/><rect x="929" y="1460" width="27" height="27.1" fill="#fff" stroke="#bdbdbd" stroke-width="1.6"/><rect x="956" y="1460" width="27" height="27.1" fill="#fff" stroke="#bdbdbd" stroke-width="1.6"/><rect x="388.4" y="1487.1" width="27" height="27.1" fill="#fff" stroke="#bdbdbd" stroke-width="1.6"/><rect x="415.4" y="1487.1" width="27" height="27.1" fill="#fff" stroke="#bdbdbd" stroke-width="1.6"/><rect x="442.5" y="1487.1" width="27" height="27.1" fill="#fff" stroke="#bdbdbd" stroke-width="1.6"/><rect x="469.5" y="1487.1" width="27" height="27.1" fill="#fff" stroke="#bdbdbd" stroke-width="1.6"/><rect x="496.5" y="1487.1" width="27" height="27.1" fill="#fff" stroke="#bdbdbd" stroke-width="1.6"/><rect x="523.5" y="1487.1" width="27" height="27.1" fill="#fff" stroke="#bdbdbd" stroke-width="1.6"/><rect x="550.6" y="1487.1" width="27" height="27.1" fill="#fff" stroke="#bdbdbd" stroke-width="1.6"/><rect x="577.6" y="1487.1" width="27" height="27.1" fill="#fff" stroke="#bdbdbd" stroke-width="1.6"/><rect x="604.6" y="1487.1" width="27" height="27.1" fill="#fff" stroke="#bdbdbd" stroke-width="1.6"/><rect x="631.7" y="1487.1" width="27" height="27.1" fill="#fff" stroke="#bdbdbd" stroke-width="1.6"/><rect x="658.7" y="1487.1" width="27" height="27.1" fill="#fff" stroke="#bdbdbd" stroke-width="1.6"/><rect x="685.7" y="1487.1" width="27" height="27.1" fill="#fff" stroke="#bdbdbd" stroke-width="1.6"/><rect x="712.8" y="1487.1" width="27" height="27.1" fill="#fff" stroke="#bdbdbd" stroke-width="1.6"/><rect x="739.8" y="1487.1" width="27" height="27.1" fill="#daa9a9" stroke="#bdbdbd" stroke-width="1.6"/><rect x="766.8" y="1487.1" width="27" height="27.1" fill="#d8a8a8" stroke="#bdbdbd" stroke-width="1.6"/><rect x="793.9" y="1487.1" width="27" height="27.1" fill="#fff" stroke="#bdbdbd" stroke-width="1.6"/><rect x="820.9" y="1487.1" width="27" height="27.1" fill="#fff" stroke="#bdbdbd" stroke-width="1.6"/><rect x="847.9" y="1487.1" width="27" height="27.1" fill="#fff" stroke="#bdbdbd" stroke-width="1.6"/><rect x="874.9" y="1487.1" width="27" height="27.1" fill="#fff" stroke="#bdbdbd" stroke-width="1.6"/><rect x="902" y="1487.1" width="27" height="27.1" fill="#fff" stroke="#bdbdbd" stroke-width="1.6"/><rect x="929" y="1487.1" width="27" height="27.1" fill="#d29898" stroke="#bdbdbd" stroke-width="1.6"/><rect x="956" y="1487.1" width="27" height="27.1" fill="#d7a5a5" stroke="#bdbdbd" stroke-width="1.6"/><rect x="388.4" y="1514.2" width="27" height="27.1" fill="#fff" stroke="#bdbdbd" stroke-width="1.6"/><rect x="415.4" y="1514.2" width="27" height="27.1" fill="#fff" stroke="#bdbdbd" stroke-width="1.6"/><rect x="442.5" y="1514.2" width="27" height="27.1" fill="#fff" stroke="#bdbdbd" stroke-width="1.6"/><rect x="469.5" y="1514.2" width="27" height="27.1" fill="#fff" stroke="#bdbdbd" stroke-width="1.6"/><rect x="496.5" y="1514.2" width="27" height="27.1" fill="#fff" stroke="#bdbdbd" stroke-width="1.6"/><rect x="523.5" y="1514.2" width="27" height="27.1" fill="#fff" stroke="#bdbdbd" stroke-width="1.6"/><rect x="550.6" y="1514.2" width="27" height="27.1" fill="#fff" stroke="#bdbdbd" stroke-width="1.6"/><rect x="577.6" y="1514.2" width="27" height="27.1" fill="#dfb3b3" stroke="#bdbdbd" stroke-width="1.6"/><rect x="604.6" y="1514.2" width="27" height="27.1" fill="#fff" stroke="#bdbdbd" stroke-width="1.6"/><rect x="631.7" y="1514.2" width="27" height="27.1" fill="#fff" stroke="#bdbdbd" stroke-width="1.6"/><rect x="658.7" y="1514.2" width="27" height="27.1" fill="#c07575" stroke="#bdbdbd" stroke-width="1.6"/><rect x="685.7" y="1514.2" width="27" height="27.1" fill="#b96565" stroke="#bdbdbd" stroke-width="1.6"/><rect x="712.8" y="1514.2" width="27" height="27.1" fill="#c07373" stroke="#bdbdbd" stroke-width="1.6"/><rect x="739.8" y="1514.2" width="27" height="27.1" fill="#fff" stroke="#bdbdbd" stroke-width="1.6"/><rect x="766.8" y="1514.2" width="27" height="27.1" fill="#fff" stroke="#bdbdbd" stroke-width="1.6"/><rect x="793.9" y="1514.2" width="27" height="27.1" fill="#fff" stroke="#bdbdbd" stroke-width="1.6"/><rect x="820.9" y="1514.2" width="27" height="27.1" fill="#fff" stroke="#bdbdbd" stroke-width="1.6"/><rect x="847.9" y="1514.2" width="27" height="27.1" fill="#fff" stroke="#bdbdbd" stroke-width="1.6"/><rect x="874.9" y="1514.2" width="27" height="27.1" fill="#fff" stroke="#bdbdbd" stroke-width="1.6"/><rect x="902" y="1514.2" width="27" height="27.1" fill="#e0b7b7" stroke="#bdbdbd" stroke-width="1.6"/><rect x="929" y="1514.2" width="27" height="27.1" fill="#fff" stroke="#bdbdbd" stroke-width="1.6"/><rect x="956" y="1514.2" width="27" height="27.1" fill="#c07575" stroke="#bdbdbd" stroke-width="1.6"/><rect x="388.4" y="1541.3" width="27" height="27.1" fill="#fff" stroke="#bdbdbd" stroke-width="1.6"/><rect x="415.4" y="1541.3" width="27" height="27.1" fill="#dfb5b5" stroke="#bdbdbd" stroke-width="1.6"/><rect x="442.5" y="1541.3" width="27" height="27.1" fill="#fff" stroke="#bdbdbd" stroke-width="1.6"/><rect x="469.5" y="1541.3" width="27" height="27.1" fill="#dfb5b5" stroke="#bdbdbd" stroke-width="1.6"/><rect x="496.5" y="1541.3" width="27" height="27.1" fill="#fff" stroke="#bdbdbd" stroke-width="1.6"/><rect x="523.5" y="1541.3" width="27" height="27.1" fill="#fff" stroke="#bdbdbd" stroke-width="1.6"/><rect x="550.6" y="1541.3" width="27" height="27.1" fill="#fff" stroke="#bdbdbd" stroke-width="1.6"/><rect x="577.6" y="1541.3" width="27" height="27.1" fill="#dcaaaa" stroke="#bdbdbd" stroke-width="1.6"/><rect x="604.6" y="1541.3" width="27" height="27.1" fill="#fff" stroke="#bdbdbd" stroke-width="1.6"/><rect x="631.7" y="1541.3" width="27" height="27.1" fill="#fff" stroke="#bdbdbd" stroke-width="1.6"/><rect x="658.7" y="1541.3" width="27" height="27.1" fill="#fff" stroke="#bdbdbd" stroke-width="1.6"/><rect x="685.7" y="1541.3" width="27" height="27.1" fill="#fff" stroke="#bdbdbd" stroke-width="1.6"/><rect x="712.8" y="1541.3" width="27" height="27.1" fill="#fff" stroke="#bdbdbd" stroke-width="1.6"/><rect x="739.8" y="1541.3" width="27" height="27.1" fill="#fff" stroke="#bdbdbd" stroke-width="1.6"/><rect x="766.8" y="1541.3" width="27" height="27.1" fill="#fff" stroke="#bdbdbd" stroke-width="1.6"/><rect x="793.9" y="1541.3" width="27" height="27.1" fill="#e0bcbc" stroke="#bdbdbd" stroke-width="1.6"/><rect x="820.9" y="1541.3" width="27" height="27.1" fill="#fff" stroke="#bdbdbd" stroke-width="1.6"/><rect x="847.9" y="1541.3" width="27" height="27.1" fill="#fff" stroke="#bdbdbd" stroke-width="1.6"/><rect x="874.9" y="1541.3" width="27" height="27.1" fill="#fff" stroke="#bdbdbd" stroke-width="1.6"/><rect x="902" y="1541.3" width="27" height="27.1" fill="#fff" stroke="#bdbdbd" stroke-width="1.6"/><rect x="929" y="1541.3" width="27" height="27.1" fill="#fff" stroke="#bdbdbd" stroke-width="1.6"/><rect x="956" y="1541.3" width="27" height="27.1" fill="#fff" stroke="#bdbdbd" stroke-width="1.6"/><rect x="388.4" y="1460" width="594.7" height="108.4" fill="none" stroke="#bdbdbd" stroke-width="1.8"/><rect x="388.4" y="1577.3" width="27" height="27.4" fill="#fff" stroke="#bdbdbd" stroke-width="1.6"/><rect x="415.4" y="1577.3" width="27" height="27.4" fill="#fff" stroke="#bdbdbd" stroke-width="1.6"/><rect x="442.5" y="1577.3" width="27" height="27.4" fill="#fff" stroke="#bdbdbd" stroke-width="1.6"/><rect x="469.5" y="1577.3" width="27" height="27.4" fill="#fff" stroke="#bdbdbd" stroke-width="1.6"/><rect x="496.5" y="1577.3" width="27" height="27.4" fill="#fff" stroke="#bdbdbd" stroke-width="1.6"/><rect x="523.5" y="1577.3" width="27" height="27.4" fill="#fff" stroke="#bdbdbd" stroke-width="1.6"/><rect x="550.6" y="1577.3" width="27" height="27.4" fill="#fff" stroke="#bdbdbd" stroke-width="1.6"/><rect x="577.6" y="1577.3" width="27" height="27.4" fill="#fff" stroke="#bdbdbd" stroke-width="1.6"/><rect x="604.6" y="1577.3" width="27" height="27.4" fill="#fff" stroke="#bdbdbd" stroke-width="1.6"/><rect x="631.7" y="1577.3" width="27" height="27.4" fill="#dcb0b0" stroke="#bdbdbd" stroke-width="1.6"/><rect x="658.7" y="1577.3" width="27" height="27.4" fill="#fff" stroke="#bdbdbd" stroke-width="1.6"/><rect x="685.7" y="1577.3" width="27" height="27.4" fill="#fff" stroke="#bdbdbd" stroke-width="1.6"/><rect x="712.8" y="1577.3" width="27" height="27.4" fill="#fff" stroke="#bdbdbd" stroke-width="1.6"/><rect x="739.8" y="1577.3" width="27" height="27.4" fill="#e1bdbd" stroke="#bdbdbd" stroke-width="1.6"/><rect x="766.8" y="1577.3" width="27" height="27.4" fill="#dcb1b1" stroke="#bdbdbd" stroke-width="1.6"/><rect x="793.9" y="1577.3" width="27" height="27.4" fill="#dfb6b6" stroke="#bdbdbd" stroke-width="1.6"/><rect x="820.9" y="1577.3" width="27" height="27.4" fill="#fff" stroke="#bdbdbd" stroke-width="1.6"/><rect x="847.9" y="1577.3" width="27" height="27.4" fill="#fff" stroke="#bdbdbd" stroke-width="1.6"/><rect x="874.9" y="1577.3" width="27" height="27.4" fill="#fff" stroke="#bdbdbd" stroke-width="1.6"/><rect x="902" y="1577.3" width="27" height="27.4" fill="#fff" stroke="#bdbdbd" stroke-width="1.6"/><rect x="929" y="1577.3" width="27" height="27.4" fill="#fff" stroke="#bdbdbd" stroke-width="1.6"/><rect x="956" y="1577.3" width="27" height="27.4" fill="#fff" stroke="#bdbdbd" stroke-width="1.6"/><rect x="388.4" y="1604.7" width="27" height="27.4" fill="#b05050" stroke="#bdbdbd" stroke-width="1.6"/><rect x="415.4" y="1604.7" width="27" height="27.4" fill="#cf9393" stroke="#bdbdbd" stroke-width="1.6"/><rect x="442.5" y="1604.7" width="27" height="27.4" fill="#cc8c8c" stroke="#bdbdbd" stroke-width="1.6"/><rect x="469.5" y="1604.7" width="27" height="27.4" fill="#fff" stroke="#bdbdbd" stroke-width="1.6"/><rect x="496.5" y="1604.7" width="27" height="27.4" fill="#d6a5a5" stroke="#bdbdbd" stroke-width="1.6"/><rect x="523.5" y="1604.7" width="27" height="27.4" fill="#fff" stroke="#bdbdbd" stroke-width="1.6"/><rect x="550.6" y="1604.7" width="27" height="27.4" fill="#fff" stroke="#bdbdbd" stroke-width="1.6"/><rect x="577.6" y="1604.7" width="27" height="27.4" fill="#fff" stroke="#bdbdbd" stroke-width="1.6"/><rect x="604.6" y="1604.7" width="27" height="27.4" fill="#fff" stroke="#bdbdbd" stroke-width="1.6"/><rect x="631.7" y="1604.7" width="27" height="27.4" fill="#dfb5b5" stroke="#bdbdbd" stroke-width="1.6"/><rect x="658.7" y="1604.7" width="27" height="27.4" fill="#fff" stroke="#bdbdbd" stroke-width="1.6"/><rect x="685.7" y="1604.7" width="27" height="27.4" fill="#fff" stroke="#bdbdbd" stroke-width="1.6"/><rect x="712.8" y="1604.7" width="27" height="27.4" fill="#fff" stroke="#bdbdbd" stroke-width="1.6"/><rect x="739.8" y="1604.7" width="27" height="27.4" fill="#d9abab" stroke="#bdbdbd" stroke-width="1.6"/><rect x="766.8" y="1604.7" width="27" height="27.4" fill="#dfb6b6" stroke="#bdbdbd" stroke-width="1.6"/><rect x="793.9" y="1604.7" width="27" height="27.4" fill="#fff" stroke="#bdbdbd" stroke-width="1.6"/><rect x="820.9" y="1604.7" width="27" height="27.4" fill="#fff" stroke="#bdbdbd" stroke-width="1.6"/><rect x="847.9" y="1604.7" width="27" height="27.4" fill="#d8a7a7" stroke="#bdbdbd" stroke-width="1.6"/><rect x="874.9" y="1604.7" width="27" height="27.4" fill="#c58181" stroke="#bdbdbd" stroke-width="1.6"/><rect x="902" y="1604.7" width="27" height="27.4" fill="#fff" stroke="#bdbdbd" stroke-width="1.6"/><rect x="929" y="1604.7" width="27" height="27.4" fill="#fff" stroke="#bdbdbd" stroke-width="1.6"/><rect x="956" y="1604.7" width="27" height="27.4" fill="#fff" stroke="#bdbdbd" stroke-width="1.6"/><rect x="388.4" y="1632.1" width="27" height="27.4" fill="#fff" stroke="#bdbdbd" stroke-width="1.6"/><rect x="415.4" y="1632.1" width="27" height="27.4" fill="#fff" stroke="#bdbdbd" stroke-width="1.6"/><rect x="442.5" y="1632.1" width="27" height="27.4" fill="#fff" stroke="#bdbdbd" stroke-width="1.6"/><rect x="469.5" y="1632.1" width="27" height="27.4" fill="#fff" stroke="#bdbdbd" stroke-width="1.6"/><rect x="496.5" y="1632.1" width="27" height="27.4" fill="#fff" stroke="#bdbdbd" stroke-width="1.6"/><rect x="523.5" y="1632.1" width="27" height="27.4" fill="#fff" stroke="#bdbdbd" stroke-width="1.6"/><rect x="550.6" y="1632.1" width="27" height="27.4" fill="#e0b8b8" stroke="#bdbdbd" stroke-width="1.6"/><rect x="577.6" y="1632.1" width="27" height="27.4" fill="#fff" stroke="#bdbdbd" stroke-width="1.6"/><rect x="604.6" y="1632.1" width="27" height="27.4" fill="#fff" stroke="#bdbdbd" stroke-width="1.6"/><rect x="631.7" y="1632.1" width="27" height="27.4" fill="#d8a5a5" stroke="#bdbdbd" stroke-width="1.6"/><rect x="658.7" y="1632.1" width="27" height="27.4" fill="#fff" stroke="#bdbdbd" stroke-width="1.6"/><rect x="685.7" y="1632.1" width="27" height="27.4" fill="#fff" stroke="#bdbdbd" stroke-width="1.6"/><rect x="712.8" y="1632.1" width="27" height="27.4" fill="#fff" stroke="#bdbdbd" stroke-width="1.6"/><rect x="739.8" y="1632.1" width="27" height="27.4" fill="#fff" stroke="#bdbdbd" stroke-width="1.6"/><rect x="766.8" y="1632.1" width="27" height="27.4" fill="#fff" stroke="#bdbdbd" stroke-width="1.6"/><rect x="793.9" y="1632.1" width="27" height="27.4" fill="#fff" stroke="#bdbdbd" stroke-width="1.6"/><rect x="820.9" y="1632.1" width="27" height="27.4" fill="#fff" stroke="#bdbdbd" stroke-width="1.6"/><rect x="847.9" y="1632.1" width="27" height="27.4" fill="#fff" stroke="#bdbdbd" stroke-width="1.6"/><rect x="874.9" y="1632.1" width="27" height="27.4" fill="#deb4b4" stroke="#bdbdbd" stroke-width="1.6"/><rect x="902" y="1632.1" width="27" height="27.4" fill="#fff" stroke="#bdbdbd" stroke-width="1.6"/><rect x="929" y="1632.1" width="27" height="27.4" fill="#fff" stroke="#bdbdbd" stroke-width="1.6"/><rect x="956" y="1632.1" width="27" height="27.4" fill="#fff" stroke="#bdbdbd" stroke-width="1.6"/><rect x="388.4" y="1659.5" width="27" height="27.4" fill="#fff" stroke="#bdbdbd" stroke-width="1.6"/><rect x="415.4" y="1659.5" width="27" height="27.4" fill="#fff" stroke="#bdbdbd" stroke-width="1.6"/><rect x="442.5" y="1659.5" width="27" height="27.4" fill="#cd9090" stroke="#bdbdbd" stroke-width="1.6"/><rect x="469.5" y="1659.5" width="27" height="27.4" fill="#c98484" stroke="#bdbdbd" stroke-width="1.6"/><rect x="496.5" y="1659.5" width="27" height="27.4" fill="#fff" stroke="#bdbdbd" stroke-width="1.6"/><rect x="523.5" y="1659.5" width="27" height="27.4" fill="#fff" stroke="#bdbdbd" stroke-width="1.6"/><rect x="550.6" y="1659.5" width="27" height="27.4" fill="#fff" stroke="#bdbdbd" stroke-width="1.6"/><rect x="577.6" y="1659.5" width="27" height="27.4" fill="#fff" stroke="#bdbdbd" stroke-width="1.6"/><rect x="604.6" y="1659.5" width="27" height="27.4" fill="#fff" stroke="#bdbdbd" stroke-width="1.6"/><rect x="631.7" y="1659.5" width="27" height="27.4" fill="#c07070" stroke="#bdbdbd" stroke-width="1.6"/><rect x="658.7" y="1659.5" width="27" height="27.4" fill="#fff" stroke="#bdbdbd" stroke-width="1.6"/><rect x="685.7" y="1659.5" width="27" height="27.4" fill="#fff" stroke="#bdbdbd" stroke-width="1.6"/><rect x="712.8" y="1659.5" width="27" height="27.4" fill="#fff" stroke="#bdbdbd" stroke-width="1.6"/><rect x="739.8" y="1659.5" width="27" height="27.4" fill="#fff" stroke="#bdbdbd" stroke-width="1.6"/><rect x="766.8" y="1659.5" width="27" height="27.4" fill="#fff" stroke="#bdbdbd" stroke-width="1.6"/><rect x="793.9" y="1659.5" width="27" height="27.4" fill="#fff" stroke="#bdbdbd" stroke-width="1.6"/><rect x="820.9" y="1659.5" width="27" height="27.4" fill="#fff" stroke="#bdbdbd" stroke-width="1.6"/><rect x="847.9" y="1659.5" width="27" height="27.4" fill="#fff" stroke="#bdbdbd" stroke-width="1.6"/><rect x="874.9" y="1659.5" width="27" height="27.4" fill="#fff" stroke="#bdbdbd" stroke-width="1.6"/><rect x="902" y="1659.5" width="27" height="27.4" fill="#fff" stroke="#bdbdbd" stroke-width="1.6"/><rect x="929" y="1659.5" width="27" height="27.4" fill="#fff" stroke="#bdbdbd" stroke-width="1.6"/><rect x="956" y="1659.5" width="27" height="27.4" fill="#fff" stroke="#bdbdbd" stroke-width="1.6"/><rect x="388.4" y="1686.9" width="27" height="27.4" fill="#fff" stroke="#bdbdbd" stroke-width="1.6"/><rect x="415.4" y="1686.9" width="27" height="27.4" fill="#fff" stroke="#bdbdbd" stroke-width="1.6"/><rect x="442.5" y="1686.9" width="27" height="27.4" fill="#fff" stroke="#bdbdbd" stroke-width="1.6"/><rect x="469.5" y="1686.9" width="27" height="27.4" fill="#e3c0c0" stroke="#bdbdbd" stroke-width="1.6"/><rect x="496.5" y="1686.9" width="27" height="27.4" fill="#fff" stroke="#bdbdbd" stroke-width="1.6"/><rect x="523.5" y="1686.9" width="27" height="27.4" fill="#fff" stroke="#bdbdbd" stroke-width="1.6"/><rect x="550.6" y="1686.9" width="27" height="27.4" fill="#fff" stroke="#bdbdbd" stroke-width="1.6"/><rect x="577.6" y="1686.9" width="27" height="27.4" fill="#fff" stroke="#bdbdbd" stroke-width="1.6"/><rect x="604.6" y="1686.9" width="27" height="27.4" fill="#fff" stroke="#bdbdbd" stroke-width="1.6"/><rect x="631.7" y="1686.9" width="27" height="27.4" fill="#fff" stroke="#bdbdbd" stroke-width="1.6"/><rect x="658.7" y="1686.9" width="27" height="27.4" fill="#fff" stroke="#bdbdbd" stroke-width="1.6"/><rect x="685.7" y="1686.9" width="27" height="27.4" fill="#fff" stroke="#bdbdbd" stroke-width="1.6"/><rect x="712.8" y="1686.9" width="27" height="27.4" fill="#fff" stroke="#bdbdbd" stroke-width="1.6"/><rect x="739.8" y="1686.9" width="27" height="27.4" fill="#fff" stroke="#bdbdbd" stroke-width="1.6"/><rect x="766.8" y="1686.9" width="27" height="27.4" fill="#fff" stroke="#bdbdbd" stroke-width="1.6"/><rect x="793.9" y="1686.9" width="27" height="27.4" fill="#fff" stroke="#bdbdbd" stroke-width="1.6"/><rect x="820.9" y="1686.9" width="27" height="27.4" fill="#fff" stroke="#bdbdbd" stroke-width="1.6"/><rect x="847.9" y="1686.9" width="27" height="27.4" fill="#fff" stroke="#bdbdbd" stroke-width="1.6"/><rect x="874.9" y="1686.9" width="27" height="27.4" fill="#fff" stroke="#bdbdbd" stroke-width="1.6"/><rect x="902" y="1686.9" width="27" height="27.4" fill="#fff" stroke="#bdbdbd" stroke-width="1.6"/><rect x="929" y="1686.9" width="27" height="27.4" fill="#fff" stroke="#bdbdbd" stroke-width="1.6"/><rect x="956" y="1686.9" width="27" height="27.4" fill="#fff" stroke="#bdbdbd" stroke-width="1.6"/><rect x="388.4" y="1577.3" width="594.7" height="137" fill="none" stroke="#bdbdbd" stroke-width="1.8"/><rect x="388.4" y="1723.8" width="27" height="27.6" fill="#fff" stroke="#bdbdbd" stroke-width="1.6"/><rect x="415.4" y="1723.8" width="27" height="27.6" fill="#fff" stroke="#bdbdbd" stroke-width="1.6"/><rect x="442.5" y="1723.8" width="27" height="27.6" fill="#fff" stroke="#bdbdbd" stroke-width="1.6"/><rect x="469.5" y="1723.8" width="27" height="27.6" fill="#fff" stroke="#bdbdbd" stroke-width="1.6"/><rect x="496.5" y="1723.8" width="27" height="27.6" fill="#fff" stroke="#bdbdbd" stroke-width="1.6"/><rect x="523.5" y="1723.8" width="27" height="27.6" fill="#fff" stroke="#bdbdbd" stroke-width="1.6"/><rect x="550.6" y="1723.8" width="27" height="27.6" fill="#8b0000" stroke="#bdbdbd" stroke-width="1.6"/><rect x="577.6" y="1723.8" width="27" height="27.6" fill="#8b0000" stroke="#bdbdbd" stroke-width="1.6"/><rect x="604.6" y="1723.8" width="27" height="27.6" fill="#8b0000" stroke="#bdbdbd" stroke-width="1.6"/><rect x="631.7" y="1723.8" width="27" height="27.6" fill="#8b0000" stroke="#bdbdbd" stroke-width="1.6"/><rect x="658.7" y="1723.8" width="27" height="27.6" fill="#fff" stroke="#bdbdbd" stroke-width="1.6"/><rect x="685.7" y="1723.8" width="27" height="27.6" fill="#fff" stroke="#bdbdbd" stroke-width="1.6"/><rect x="712.8" y="1723.8" width="27" height="27.6" fill="#fff" stroke="#bdbdbd" stroke-width="1.6"/><rect x="739.8" y="1723.8" width="27" height="27.6" fill="#fff" stroke="#bdbdbd" stroke-width="1.6"/><rect x="766.8" y="1723.8" width="27" height="27.6" fill="#fff" stroke="#bdbdbd" stroke-width="1.6"/><rect x="793.9" y="1723.8" width="27" height="27.6" fill="#fff" stroke="#bdbdbd" stroke-width="1.6"/><rect x="820.9" y="1723.8" width="27" height="27.6" fill="#fff" stroke="#bdbdbd" stroke-width="1.6"/><rect x="847.9" y="1723.8" width="27" height="27.6" fill="#fff" stroke="#bdbdbd" stroke-width="1.6"/><rect x="874.9" y="1723.8" width="27" height="27.6" fill="#fff" stroke="#bdbdbd" stroke-width="1.6"/><rect x="902" y="1723.8" width="27" height="27.6" fill="#fff" stroke="#bdbdbd" stroke-width="1.6"/><rect x="929" y="1723.8" width="27" height="27.6" fill="#fff" stroke="#bdbdbd" stroke-width="1.6"/><rect x="956" y="1723.8" width="27" height="27.6" fill="#fff" stroke="#bdbdbd" stroke-width="1.6"/><rect x="388.4" y="1751.5" width="27" height="27.6" fill="#fff" stroke="#bdbdbd" stroke-width="1.6"/><rect x="415.4" y="1751.5" width="27" height="27.6" fill="#fff" stroke="#bdbdbd" stroke-width="1.6"/><rect x="442.5" y="1751.5" width="27" height="27.6" fill="#e0b7b7" stroke="#bdbdbd" stroke-width="1.6"/><rect x="469.5" y="1751.5" width="27" height="27.6" fill="#cd8f8f" stroke="#bdbdbd" stroke-width="1.6"/><rect x="496.5" y="1751.5" width="27" height="27.6" fill="#d49f9f" stroke="#bdbdbd" stroke-width="1.6"/><rect x="523.5" y="1751.5" width="27" height="27.6" fill="#e1bfbf" stroke="#bdbdbd" stroke-width="1.6"/><rect x="550.6" y="1751.5" width="27" height="27.6" fill="#fff" stroke="#bdbdbd" stroke-width="1.6"/><rect x="577.6" y="1751.5" width="27" height="27.6" fill="#c07272" stroke="#bdbdbd" stroke-width="1.6"/><rect x="604.6" y="1751.5" width="27" height="27.6" fill="#fff" stroke="#bdbdbd" stroke-width="1.6"/><rect x="631.7" y="1751.5" width="27" height="27.6" fill="#c98686" stroke="#bdbdbd" stroke-width="1.6"/><rect x="658.7" y="1751.5" width="27" height="27.6" fill="#fff" stroke="#bdbdbd" stroke-width="1.6"/><rect x="685.7" y="1751.5" width="27" height="27.6" fill="#fff" stroke="#bdbdbd" stroke-width="1.6"/><rect x="712.8" y="1751.5" width="27" height="27.6" fill="#fff" stroke="#bdbdbd" stroke-width="1.6"/><rect x="739.8" y="1751.5" width="27" height="27.6" fill="#fff" stroke="#bdbdbd" stroke-width="1.6"/><rect x="766.8" y="1751.5" width="27" height="27.6" fill="#fff" stroke="#bdbdbd" stroke-width="1.6"/><rect x="793.9" y="1751.5" width="27" height="27.6" fill="#fff" stroke="#bdbdbd" stroke-width="1.6"/><rect x="820.9" y="1751.5" width="27" height="27.6" fill="#daaaaa" stroke="#bdbdbd" stroke-width="1.6"/><rect x="847.9" y="1751.5" width="27" height="27.6" fill="#cf9696" stroke="#bdbdbd" stroke-width="1.6"/><rect x="874.9" y="1751.5" width="27" height="27.6" fill="#c98888" stroke="#bdbdbd" stroke-width="1.6"/><rect x="902" y="1751.5" width="27" height="27.6" fill="#fff" stroke="#bdbdbd" stroke-width="1.6"/><rect x="929" y="1751.5" width="27" height="27.6" fill="#fff" stroke="#bdbdbd" stroke-width="1.6"/><rect x="956" y="1751.5" width="27" height="27.6" fill="#fff" stroke="#bdbdbd" stroke-width="1.6"/><rect x="388.4" y="1779.1" width="27" height="27.6" fill="#e0b9b9" stroke="#bdbdbd" stroke-width="1.6"/><rect x="415.4" y="1779.1" width="27" height="27.6" fill="#d9a9a9" stroke="#bdbdbd" stroke-width="1.6"/><rect x="442.5" y="1779.1" width="27" height="27.6" fill="#b35c5c" stroke="#bdbdbd" stroke-width="1.6"/><rect x="469.5" y="1779.1" width="27" height="27.6" fill="#ac5050" stroke="#bdbdbd" stroke-width="1.6"/><rect x="496.5" y="1779.1" width="27" height="27.6" fill="#d8a8a8" stroke="#bdbdbd" stroke-width="1.6"/><rect x="523.5" y="1779.1" width="27" height="27.6" fill="#e0bbbb" stroke="#bdbdbd" stroke-width="1.6"/><rect x="550.6" y="1779.1" width="27" height="27.6" fill="#c37575" stroke="#bdbdbd" stroke-width="1.6"/><rect x="577.6" y="1779.1" width="27" height="27.6" fill="#8b0000" stroke="#bdbdbd" stroke-width="1.6"/><rect x="604.6" y="1779.1" width="27" height="27.6" fill="#b35b5b" stroke="#bdbdbd" stroke-width="1.6"/><rect x="631.7" y="1779.1" width="27" height="27.6" fill="#a84a4a" stroke="#bdbdbd" stroke-width="1.6"/><rect x="658.7" y="1779.1" width="27" height="27.6" fill="#fff" stroke="#bdbdbd" stroke-width="1.6"/><rect x="685.7" y="1779.1" width="27" height="27.6" fill="#fff" stroke="#bdbdbd" stroke-width="1.6"/><rect x="712.8" y="1779.1" width="27" height="27.6" fill="#fff" stroke="#bdbdbd" stroke-width="1.6"/><rect x="739.8" y="1779.1" width="27" height="27.6" fill="#e1bdbd" stroke="#bdbdbd" stroke-width="1.6"/><rect x="766.8" y="1779.1" width="27" height="27.6" fill="#d9abab" stroke="#bdbdbd" stroke-width="1.6"/><rect x="793.9" y="1779.1" width="27" height="27.6" fill="#d8a7a7" stroke="#bdbdbd" stroke-width="1.6"/><rect x="820.9" y="1779.1" width="27" height="27.6" fill="#d6a5a5" stroke="#bdbdbd" stroke-width="1.6"/><rect x="847.9" y="1779.1" width="27" height="27.6" fill="#d29b9b" stroke="#bdbdbd" stroke-width="1.6"/><rect x="874.9" y="1779.1" width="27" height="27.6" fill="#cd9090" stroke="#bdbdbd" stroke-width="1.6"/><rect x="902" y="1779.1" width="27" height="27.6" fill="#d49f9f" stroke="#bdbdbd" stroke-width="1.6"/><rect x="929" y="1779.1" width="27" height="27.6" fill="#d7a5a5" stroke="#bdbdbd" stroke-width="1.6"/><rect x="956" y="1779.1" width="27" height="27.6" fill="#d29b9b" stroke="#bdbdbd" stroke-width="1.6"/><rect x="388.4" y="1723.8" width="594.7" height="82.9" fill="none" stroke="#bdbdbd" stroke-width="1.8"/><rect x="992.4" y="1391" width="27.6" height="28.5" fill="#238b45" stroke="#bdbdbd" stroke-width="1.6"/><rect x="1020" y="1391" width="27.6" height="28.5" fill="#238b45" stroke="#bdbdbd" stroke-width="1.6"/><rect x="1047.6" y="1391" width="27.6" height="28.5" fill="#238b45" stroke="#bdbdbd" stroke-width="1.6"/><rect x="1075.2" y="1391" width="27.6" height="28.5" fill="#238b45" stroke="#bdbdbd" stroke-width="1.6"/><rect x="992.4" y="1391" width="110.4" height="28.5" fill="none" stroke="#bdbdbd" stroke-width="1.8"/><rect x="992.4" y="1423.6" width="27.6" height="28.5" fill="#ffff00" stroke="#bdbdbd" stroke-width="1.6"/><rect x="1020" y="1423.6" width="27.6" height="28.5" fill="#ffff00" stroke="#bdbdbd" stroke-width="1.6"/><rect x="1047.6" y="1423.6" width="27.6" height="28.5" fill="#ffff00" stroke="#bdbdbd" stroke-width="1.6"/><rect x="1075.2" y="1423.6" width="27.6" height="28.5" fill="#ffff00" stroke="#bdbdbd" stroke-width="1.6"/><rect x="992.4" y="1423.6" width="110.4" height="28.5" fill="none" stroke="#bdbdbd" stroke-width="1.8"/><rect x="992.4" y="1460" width="27.6" height="27.1" fill="#fff" stroke="#bdbdbd" stroke-width="1.6"/><rect x="1020" y="1460" width="27.6" height="27.1" fill="#fff" stroke="#bdbdbd" stroke-width="1.6"/><rect x="1047.6" y="1460" width="27.6" height="27.1" fill="#fff" stroke="#bdbdbd" stroke-width="1.6"/><rect x="1075.2" y="1460" width="27.6" height="27.1" fill="#fff" stroke="#bdbdbd" stroke-width="1.6"/><rect x="992.4" y="1487.1" width="27.6" height="27.1" fill="#fff" stroke="#bdbdbd" stroke-width="1.6"/><rect x="1020" y="1487.1" width="27.6" height="27.1" fill="#fff" stroke="#bdbdbd" stroke-width="1.6"/><rect x="1047.6" y="1487.1" width="27.6" height="27.1" fill="#fff" stroke="#bdbdbd" stroke-width="1.6"/><rect x="1075.2" y="1487.1" width="27.6" height="27.1" fill="#fff" stroke="#bdbdbd" stroke-width="1.6"/><rect x="992.4" y="1514.2" width="27.6" height="27.1" fill="#fff" stroke="#bdbdbd" stroke-width="1.6"/><rect x="1020" y="1514.2" width="27.6" height="27.1" fill="#fff" stroke="#bdbdbd" stroke-width="1.6"/><rect x="1047.6" y="1514.2" width="27.6" height="27.1" fill="#fff" stroke="#bdbdbd" stroke-width="1.6"/><rect x="1075.2" y="1514.2" width="27.6" height="27.1" fill="#fff" stroke="#bdbdbd" stroke-width="1.6"/><rect x="992.4" y="1541.3" width="27.6" height="27.1" fill="#d8a8a8" stroke="#bdbdbd" stroke-width="1.6"/><rect x="1020" y="1541.3" width="27.6" height="27.1" fill="#dfb5b5" stroke="#bdbdbd" stroke-width="1.6"/><rect x="1047.6" y="1541.3" width="27.6" height="27.1" fill="#e1bdbd" stroke="#bdbdbd" stroke-width="1.6"/><rect x="1075.2" y="1541.3" width="27.6" height="27.1" fill="#fff" stroke="#bdbdbd" stroke-width="1.6"/><rect x="992.4" y="1460" width="110.4" height="108.4" fill="none" stroke="#bdbdbd" stroke-width="1.8"/><rect x="992.4" y="1577.3" width="27.6" height="27.4" fill="#fff" stroke="#bdbdbd" stroke-width="1.6"/><rect x="1020" y="1577.3" width="27.6" height="27.4" fill="#e0bbbb" stroke="#bdbdbd" stroke-width="1.6"/><rect x="1047.6" y="1577.3" width="27.6" height="27.4" fill="#c07272" stroke="#bdbdbd" stroke-width="1.6"/><rect x="1075.2" y="1577.3" width="27.6" height="27.4" fill="#fff" stroke="#bdbdbd" stroke-width="1.6"/><rect x="992.4" y="1604.7" width="27.6" height="27.4" fill="#8b0000" stroke="#bdbdbd" stroke-width="1.6"/><rect x="1020" y="1604.7" width="27.6" height="27.4" fill="#c07272" stroke="#bdbdbd" stroke-width="1.6"/><rect x="1047.6" y="1604.7" width="27.6" height="27.4" fill="#8b0000" stroke="#bdbdbd" stroke-width="1.6"/><rect x="1075.2" y="1604.7" width="27.6" height="27.4" fill="#c07575" stroke="#bdbdbd" stroke-width="1.6"/><rect x="992.4" y="1632.1" width="27.6" height="27.4" fill="#dfb5b5" stroke="#bdbdbd" stroke-width="1.6"/><rect x="1020" y="1632.1" width="27.6" height="27.4" fill="#fff" stroke="#bdbdbd" stroke-width="1.6"/><rect x="1047.6" y="1632.1" width="27.6" height="27.4" fill="#c27474" stroke="#bdbdbd" stroke-width="1.6"/><rect x="1075.2" y="1632.1" width="27.6" height="27.4" fill="#cd9090" stroke="#bdbdbd" stroke-width="1.6"/><rect x="992.4" y="1659.5" width="27.6" height="27.4" fill="#c07070" stroke="#bdbdbd" stroke-width="1.6"/><rect x="1020" y="1659.5" width="27.6" height="27.4" fill="#d9aaaa" stroke="#bdbdbd" stroke-width="1.6"/><rect x="1047.6" y="1659.5" width="27.6" height="27.4" fill="#8b0000" stroke="#bdbdbd" stroke-width="1.6"/><rect x="1075.2" y="1659.5" width="27.6" height="27.4" fill="#c88484" stroke="#bdbdbd" stroke-width="1.6"/><rect x="992.4" y="1686.9" width="27.6" height="27.4" fill="#fff" stroke="#bdbdbd" stroke-width="1.6"/><rect x="1020" y="1686.9" width="27.6" height="27.4" fill="#fff" stroke="#bdbdbd" stroke-width="1.6"/><rect x="1047.6" y="1686.9" width="27.6" height="27.4" fill="#b55a5a" stroke="#bdbdbd" stroke-width="1.6"/><rect x="1075.2" y="1686.9" width="27.6" height="27.4" fill="#fff" stroke="#bdbdbd" stroke-width="1.6"/><rect x="992.4" y="1577.3" width="110.4" height="137" fill="none" stroke="#bdbdbd" stroke-width="1.8"/><rect x="992.4" y="1723.8" width="27.6" height="27.6" fill="#e0bcbc" stroke="#bdbdbd" stroke-width="1.6"/><rect x="1020" y="1723.8" width="27.6" height="27.6" fill="#fff" stroke="#bdbdbd" stroke-width="1.6"/><rect x="1047.6" y="1723.8" width="27.6" height="27.6" fill="#cd8c8c" stroke="#bdbdbd" stroke-width="1.6"/><rect x="1075.2" y="1723.8" width="27.6" height="27.6" fill="#d29b9b" stroke="#bdbdbd" stroke-width="1.6"/><rect x="992.4" y="1751.5" width="27.6" height="27.6" fill="#fff" stroke="#bdbdbd" stroke-width="1.6"/><rect x="1020" y="1751.5" width="27.6" height="27.6" fill="#fff" stroke="#bdbdbd" stroke-width="1.6"/><rect x="1047.6" y="1751.5" width="27.6" height="27.6" fill="#fff" stroke="#bdbdbd" stroke-width="1.6"/><rect x="1075.2" y="1751.5" width="27.6" height="27.6" fill="#fff" stroke="#bdbdbd" stroke-width="1.6"/><rect x="992.4" y="1779.1" width="27.6" height="27.6" fill="#c78282" stroke="#bdbdbd" stroke-width="1.6"/><rect x="1020" y="1779.1" width="27.6" height="27.6" fill="#fff" stroke="#bdbdbd" stroke-width="1.6"/><rect x="1047.6" y="1779.1" width="27.6" height="27.6" fill="#ca8a8a" stroke="#bdbdbd" stroke-width="1.6"/><rect x="1075.2" y="1779.1" width="27.6" height="27.6" fill="#d29b9b" stroke="#bdbdbd" stroke-width="1.6"/><rect x="992.4" y="1723.8" width="110.4" height="82.9" fill="none" stroke="#bdbdbd" stroke-width="1.8"/><rect x="124.9" y="1460" width="28.8" height="27.1" fill="#add8e6" stroke="#bdbdbd" stroke-width="1.6"/><rect x="124.9" y="1487.1" width="28.8" height="27.1" fill="#00008b" stroke="#bdbdbd" stroke-width="1.6"/><rect x="124.9" y="1514.2" width="28.8" height="27.1" fill="#add8e6" stroke="#bdbdbd" stroke-width="1.6"/><rect x="124.9" y="1541.3" width="28.8" height="27.1" fill="#add8e6" stroke="#bdbdbd" stroke-width="1.6"/><rect x="124.9" y="1460" width="28.8" height="108.4" fill="none" stroke="#bdbdbd" stroke-width="1.8"/><rect x="124.9" y="1577.3" width="28.8" height="27.4" fill="#ffffe0" stroke="#bdbdbd" stroke-width="1.6"/><rect x="124.9" y="1604.7" width="28.8" height="27.4" fill="#ffff00" stroke="#bdbdbd" stroke-width="1.6"/><rect x="124.9" y="1632.1" width="28.8" height="27.4" fill="#ffffe0" stroke="#bdbdbd" stroke-width="1.6"/><rect x="124.9" y="1659.5" width="28.8" height="27.4" fill="#ffffe0" stroke="#bdbdbd" stroke-width="1.6"/><rect x="124.9" y="1686.9" width="28.8" height="27.4" fill="#ffa500" stroke="#bdbdbd" stroke-width="1.6"/><rect x="124.9" y="1577.3" width="28.8" height="137" fill="none" stroke="#bdbdbd" stroke-width="1.8"/><rect x="124.9" y="1723.8" width="28.8" height="27.6" fill="#a020f0" stroke="#bdbdbd" stroke-width="1.6"/><rect x="124.9" y="1751.5" width="28.8" height="27.6" fill="#e6e6fa" stroke="#bdbdbd" stroke-width="1.6"/><rect x="124.9" y="1779.1" width="28.8" height="27.6" fill="#e6e6fa" stroke="#bdbdbd" stroke-width="1.6"/><rect x="124.9" y="1723.8" width="28.8" height="82.9" fill="none" stroke="#bdbdbd" stroke-width="1.8"/><rect x="188.3" y="1485.8" width="25.4" height="25.2" fill="none" stroke="#000" stroke-width="4.3"/><rect x="242.3" y="1485.8" width="25.4" height="25.2" fill="none" stroke="#000" stroke-width="4.3"/><rect x="296.4" y="1485.8" width="25.4" height="25.2" fill="none" stroke="#000" stroke-width="4.3"/><rect x="350.5" y="1485.8" width="25.4" height="25.2" fill="none" stroke="#000" stroke-width="4.3"/><rect x="685.9" y="1485.8" width="25.4" height="25.2" fill="none" stroke="#000" stroke-width="4.3"/><rect x="712.9" y="1485.8" width="25.4" height="25.2" fill="none" stroke="#000" stroke-width="4.3"/><rect x="767" y="1485.8" width="25.4" height="25.2" fill="none" stroke="#000" stroke-width="4.3"/><rect x="794" y="1485.8" width="25.4" height="25.2" fill="none" stroke="#000" stroke-width="4.3"/><rect x="848.1" y="1485.8" width="25.4" height="25.2" fill="none" stroke="#000" stroke-width="4.3"/><rect x="875.1" y="1485.8" width="25.4" height="25.2" fill="none" stroke="#000" stroke-width="4.3"/><rect x="929.1" y="1485.8" width="25.4" height="25.2" fill="none" stroke="#000" stroke-width="4.3"/><rect x="956.2" y="1485.8" width="25.4" height="25.2" fill="none" stroke="#000" stroke-width="4.3"/><rect x="415.6" y="1685.6" width="25.4" height="25.5" fill="none" stroke="#000" stroke-width="4.3"/><rect x="469.6" y="1685.6" width="25.4" height="25.5" fill="none" stroke="#000" stroke-width="4.3"/><rect x="523.7" y="1685.6" width="25.4" height="25.5" fill="none" stroke="#000" stroke-width="4.3"/><rect x="604.8" y="1722.5" width="25.4" height="25.8" fill="none" stroke="#000" stroke-width="4.3"/><rect x="631.8" y="1722.5" width="25.4" height="25.8" fill="none" stroke="#000" stroke-width="4.3"/><rect x="992.5" y="1603.5" width="26" height="25.5" fill="none" stroke="#000" stroke-width="4.3"/><rect x="1020.1" y="1603.5" width="26" height="25.5" fill="none" stroke="#000" stroke-width="4.3"/><rect x="1047.8" y="1603.5" width="26" height="25.5" fill="none" stroke="#000" stroke-width="4.3"/><rect x="1075.4" y="1603.5" width="26" height="25.5" fill="none" stroke="#000" stroke-width="4.3"/></g>
<text transform="translate(119 1514) rotate(-90)" font-size="22.8" text-anchor="middle">Alpha.</text>
<text transform="translate(119 1641) rotate(-90)" font-size="22.8" text-anchor="middle">Flavi.</text>
<text transform="translate(119 1759) rotate(-90)" font-size="22.8" text-anchor="middle">Orbi.</text>
<text transform="translate(88 1629) rotate(-90)" font-size="26" text-anchor="middle">Virus</text>
<text transform="translate(145.5 1404.5) rotate(43)" font-size="21.8" text-anchor="end">PRNT</text>
<text transform="translate(148.5 1446) rotate(43)" font-size="21.8" text-anchor="end">Exposure</text>
<defs><linearGradient id="vg" x1="0" y1="0" x2="0" y2="1"><stop offset="0" stop-color="#8b0000"/><stop offset="1" stop-color="#ffffff"/></linearGradient></defs>
<rect x="1127.3" y="1459.3" width="24.6" height="306" fill="url(#vg)"/>
<text x="1123.6" y="1445.7" font-size="26.2" text-anchor="start" fill="#000" >VARscore</text>
<text x="1157.3" y="1782.5" font-size="26.8" text-anchor="start" fill="#000" >0</text>
<text x="1157.3" y="1681.9" font-size="26.8" text-anchor="start" fill="#000" >1</text>
<text x="1157.3" y="1581.3" font-size="26.8" text-anchor="start" fill="#000" >2</text>
<text x="1157.3" y="1480.7" font-size="26.8" text-anchor="start" fill="#000" >3</text>
<text x="1255.4" y="1384.8" font-size="26" text-anchor="start" fill="#000" >Log2</text>
<text x="1255.4" y="1416.4" font-size="26" text-anchor="start" fill="#000" >PRNT</text>
<rect x="1265.8" y="1427.2" width="25.4" height="26.2" fill="#00441b" stroke="#c8c8c8" stroke-width="1"/>
<rect x="1265.8" y="1453.4" width="25.4" height="26.2" fill="#238b45" stroke="#c8c8c8" stroke-width="1"/>
<rect x="1265.8" y="1479.6" width="25.4" height="26.2" fill="#74c476" stroke="#c8c8c8" stroke-width="1"/>
<rect x="1265.8" y="1505.8" width="25.4" height="26.2" fill="#c7e9c0" stroke="#c8c8c8" stroke-width="1"/>
<rect x="1265.8" y="1532" width="25.4" height="26.2" fill="#f7fcf5" stroke="#c8c8c8" stroke-width="1"/>
<rect x="1265.8" y="1558.2" width="25.4" height="26.2" fill="#bdbdbd" stroke="#c8c8c8" stroke-width="1"/>
<text x="1298.9" y="1447.3" font-size="26" text-anchor="start" fill="#000" >8</text>
<text x="1299.5" y="1500.9" font-size="26" text-anchor="start" fill="#000" >4</text>
<text x="1301" y="1552.1" font-size="26" text-anchor="start" fill="#000" >0</text>
<text x="1297.3" y="1577.7" font-size="26" text-anchor="start" fill="#000" >N.A.</text>
<text x="1261.5" y="1622.7" font-size="25.9" text-anchor="start" fill="#000" >Viral</text>
<text x="1261.5" y="1653.6" font-size="25.9" text-anchor="start" fill="#000" >Exposure</text>
<rect x="1261.8" y="1662.6" width="26.4" height="27.25" fill="#a020f0" stroke="#c8c8c8" stroke-width="0.8"/>
<text x="1294.2" y="1685.7" font-size="25.9" text-anchor="start" fill="#000" >BTV</text>
<rect x="1261.8" y="1689.8" width="26.4" height="27.25" fill="#ffff00" stroke="#c8c8c8" stroke-width="0.8"/>
<text x="1294.2" y="1712.9" font-size="25.9" text-anchor="start" fill="#000" >JEV</text>
<rect x="1261.8" y="1717.1" width="26.4" height="27.25" fill="#00008b" stroke="#c8c8c8" stroke-width="0.8"/>
<text x="1294.2" y="1740.2" font-size="25.9" text-anchor="start" fill="#000" >MAYV</text>
<rect x="1261.8" y="1744.3" width="26.4" height="27.25" fill="#ffa500" stroke="#c8c8c8" stroke-width="0.8"/>
<text x="1294.2" y="1767.4" font-size="25.9" text-anchor="start" fill="#000" >ZIKV</text>
<rect x="1261.8" y="1771.6" width="26.4" height="27.25" fill="#e5e5e5" stroke="#c8c8c8" stroke-width="0.8"/>
<text x="1294.2" y="1794.7" font-size="25.9" text-anchor="start" fill="#000" >None/Pre</text>
<path transform="translate(200 1250) scale(0.08673)" d="M180 560C203.3 554.2 265 550 290 555C315 560 295 586.7 330 590C365 593.3 438.3 576.7 500 575C561.7 573.3 621.7 577.5 700 580C778.3 582.5 916.7 596.7 970 590C1023.3 583.3 1006.7 571.7 1020 540C1033.3 508.3 1043.3 441.7 1050 400C1056.7 358.3 1051.7 320 1060 290C1068.3 260 1092 250 1100 220C1108 190 1103 117.5 1108 110C1113 102.5 1120 173 1130 175C1140 177 1160 119.5 1168 122C1176 124.5 1167.7 177 1178 190C1188.3 203 1211.3 191.7 1230 200C1248.7 208.3 1270 228.7 1290 240C1310 251.3 1336.3 256.3 1350 268C1363.7 279.7 1373.7 297.2 1372 310C1370.3 322.8 1353.7 340 1340 345C1326.3 350 1310 339.2 1290 340C1270 340.8 1235 336.7 1220 350C1205 363.3 1201.7 381.7 1200 420C1198.3 458.3 1211.7 530 1210 580C1208.3 630 1201.7 675 1190 720C1178.3 765 1161.7 811.7 1140 850C1118.3 888.3 1090 920 1060 950C1030 980 981.7 1013.3 960 1030C938.3 1046.7 940 1025 930 1050C920 1075 911.7 1138.3 900 1180C888.3 1221.7 869.7 1263.3 860 1300C850.3 1336.7 836.7 1376.7 842 1400C847.3 1423.3 894 1431.3 892 1440C890 1448.7 847 1455.3 830 1452C813 1448.7 800 1445.3 790 1420C780 1394.7 775.8 1336.7 770 1300C764.2 1263.3 756.7 1240 755 1200C753.3 1160 769.2 1086.7 760 1060C750.8 1033.3 730 1050 700 1040C670 1030 615 1018.3 580 1000C545 981.7 508.3 938.3 490 930C471.7 921.7 481.7 928.3 470 950C458.3 971.7 438.3 1021.7 420 1060C401.7 1098.3 373.3 1140 360 1180C346.7 1220 343.3 1260 340 1300C336.7 1340 331.3 1393.3 340 1420C348.7 1446.7 397 1453 392 1460C387 1467 332 1465.3 310 1462C288 1458.7 273.3 1462 260 1440C246.7 1418 237.5 1378.3 230 1330C222.5 1281.7 218.3 1205 215 1150C211.7 1095 214.2 1041.7 210 1000C205.8 958.3 193.3 940 190 900C186.7 860 198.3 790 190 760C181.7 730 150.8 738.3 140 720C129.2 701.7 123.3 671.7 125 650C126.7 628.3 140.8 605 150 590C159.2 575 156.7 565.8 180 560Z" fill="#333"/>
<path transform="translate(605 1300) scale(0.06002)" d="M210 580C209.5 563.3 206.2 538 212 520C217.8 502 230 482.8 245 472C260 461.2 294.2 452 302 455C309.8 458 298.7 480.5 292 490C285.3 499.5 267 497.8 262 512C257 526.2 255.7 563.7 262 575C268.3 586.3 273.7 583.3 300 580C326.3 576.7 376.7 555.8 420 555C463.3 554.2 513.3 569.2 560 575C606.7 580.8 651.7 592.5 700 590C748.3 587.5 811.7 573.3 850 560C888.3 546.7 905 533.3 930 510C955 486.7 981.7 446.7 1000 420C1018.3 393.3 1040 368.3 1040 350C1040 331.7 1011.3 313.3 1000 310C988.7 306.7 974.5 335 972 330C969.5 325 975.3 293 985 280C994.7 267 1007.5 258.2 1030 252C1052.5 245.8 1091.7 242 1120 243C1148.3 244 1176.3 248.5 1200 258C1223.7 267.5 1241.7 281.3 1262 300C1282.3 318.7 1310.3 350 1322 370C1333.7 390 1335.3 408.3 1332 420C1328.7 431.7 1309.8 429.7 1302 440C1294.2 450.3 1292.3 477 1285 482C1277.7 487 1267.2 475.3 1258 470C1248.8 464.7 1239.7 450 1230 450C1220.3 450 1210 468.3 1200 470C1190 471.7 1178.3 455 1170 460C1161.7 465 1156.7 481.7 1150 500C1143.3 518.3 1136.7 545 1130 570C1123.3 595 1114.2 620 1110 650C1105.8 680 1110 720 1105 750C1100 780 1090.8 808.3 1080 830C1069.2 851.7 1046.7 851.7 1040 880C1033.3 908.3 1038.3 963.3 1040 1000C1041.7 1036.7 1045 1066.7 1050 1100C1055 1133.3 1064.7 1178 1070 1200C1075.3 1222 1087 1225 1082 1232C1077 1239 1052 1242.7 1040 1242C1028 1241.3 1016.7 1253.3 1010 1228C1003.3 1202.7 1003.7 1098 1000 1090C996.3 1082 992.2 1153.3 988 1180C983.8 1206.7 984.7 1239.7 975 1250C965.3 1260.3 940.8 1253.7 930 1242C919.2 1230.3 914.2 1203.7 910 1180C905.8 1156.3 908.3 1130 905 1100C901.7 1070 895.8 1026.7 890 1000C884.2 973.3 885 946.3 870 940C855 933.7 831.7 955 800 962C768.3 969 720 982 680 982C640 982 593.3 968.2 560 962C526.7 955.8 503.3 940.3 480 945C456.7 949.7 433.3 967.5 420 990C406.7 1012.5 401.7 1048.3 400 1080C398.3 1111.7 404.7 1154.7 410 1180C415.3 1205.3 435.3 1221.7 432 1232C428.7 1242.3 402 1243.7 390 1242C378 1240.3 366.7 1237.3 360 1222C353.3 1206.7 351.7 1182 350 1150C348.3 1118 353.3 1056.7 350 1030C346.7 1003.3 338.3 990 330 990C321.7 990 311.3 1011.7 300 1030C288.7 1048.3 271.7 1073.3 262 1100C252.3 1126.7 243.7 1166.3 242 1190C240.3 1213.7 260.7 1232.5 252 1242C243.3 1251.5 202 1257.3 190 1247C178 1236.7 180 1204.5 180 1180C180 1155.5 183.3 1130 190 1100C196.7 1070 210 1030 220 1000C230 970 249.2 948.3 250 920C250.8 891.7 231.7 866.7 225 830C218.3 793.3 211.7 735 210 700C208.3 665 215 640 215 620C215 600 210.5 596.7 210 580Z" fill="#333"/>
<path transform="translate(990 1280) scale(0.08340)" d="M170 430C188.3 412 221.7 383.7 260 372C298.3 360.3 350 357 400 360C450 363 513.3 384.2 560 390C606.7 395.8 643.3 401.7 680 395C716.7 388.3 743.3 367.5 780 350C816.7 332.5 860 310.8 900 290C940 269.2 980 245 1020 225C1060 205 1105 184.2 1140 170C1175 155.8 1208.7 153 1230 140C1251.3 127 1257.2 102.3 1268 92C1278.8 81.7 1289.3 71.7 1295 78C1300.7 84.3 1294.5 103 1302 130C1309.5 157 1325.3 210 1340 240C1354.7 270 1379.7 290 1390 310C1400.3 330 1405 347.2 1402 360C1399 372.8 1384 384.2 1372 387C1360 389.8 1347 384.5 1330 377C1313 369.5 1293.3 351.2 1270 342C1246.7 332.8 1215 315.7 1190 322C1165 328.3 1141.7 355.3 1120 380C1098.3 404.7 1076.7 436.7 1060 470C1043.3 503.3 1031.7 545 1020 580C1008.3 615 1001.7 650 990 680C978.3 710 961.7 735 950 760C938.3 785 927.5 801.7 920 830C912.5 858.3 908.3 893.3 905 930C901.7 966.7 895.8 1016.7 900 1050C904.2 1083.3 913 1108.7 930 1130C947 1151.3 991.7 1166.8 1002 1178C1012.3 1189.2 1004 1194.7 992 1197C980 1199.3 947.8 1204.8 930 1192C912.2 1179.2 895 1147 885 1120C875 1093 874.2 1070 870 1030C865.8 990 863.3 913.3 860 880C856.7 846.7 855 826.7 850 830C845 833.3 837.5 868.3 830 900C822.5 931.7 810 985 805 1020C800 1055 795.5 1088.3 800 1110C804.5 1131.7 830.3 1141.3 832 1150C833.7 1158.7 820.3 1161.7 810 1162C799.7 1162.3 778.3 1170.7 770 1152C761.7 1133.3 760 1087 760 1050C760 1013 766.7 978.3 770 930C773.3 881.7 781.7 793.3 780 760C778.3 726.7 781.7 734.2 760 730C738.3 725.8 690 740 650 735C610 730 558.3 714.2 520 700C481.7 685.8 443.3 646.7 420 650C396.7 653.3 393.3 690 380 720C366.7 750 350 791.7 340 830C330 868.3 321.7 908.3 320 950C318.3 991.7 321.3 1050 330 1080C338.7 1110 368.3 1118 372 1130C375.7 1142 364 1150 352 1152C340 1154 312 1159 300 1142C288 1125 285 1090.3 280 1050C275 1009.7 275 931.7 270 900C265 868.3 256.7 855 250 860C243.3 865 231.7 898.3 230 930C228.3 961.7 229.7 1013.3 240 1050C250.3 1086.7 283.3 1128.8 292 1150C300.7 1171.2 300.7 1173.3 292 1177C283.3 1180.7 255.3 1184.8 240 1172C224.7 1159.2 210 1132 200 1100C190 1068 185 1003.3 180 980C175 956.7 173.3 951.7 170 960C166.7 968.3 166.7 1009.7 160 1030C153.3 1050.3 141.2 1075.8 130 1082C118.8 1088.2 96.7 1089 93 1067C89.3 1045 102.2 994.5 108 950C113.8 905.5 123.5 858.3 128 800C132.5 741.7 131.3 653.3 135 600C138.7 546.7 144.2 508.3 150 480C155.8 451.7 151.7 448 170 430Z" fill="#3c3c3c"/>
<g transform="translate(786.9 1140) scale(0.119) translate(-968 -68)" fill="#3a3a3a"><ellipse cx="1135" cy="132" rx="50" ry="64"/><rect x="1112" y="180" width="46" height="45"/><path d="M1110 210C1093.3 212.5 1073.3 218.3 1060 225C1046.7 231.7 1036.7 234.2 1030 250C1023.3 265.8 1023.3 291.7 1020 320C1016.7 348.3 1013.3 390 1010 420C1006.7 450 1005.8 480 1000 500C994.2 520 980.3 528 975 540C969.7 552 965.5 561.7 968 572C970.5 582.3 982.7 597 990 602C997.3 607 1006.7 609 1012 602C1017.3 595 1017.3 580.3 1022 560C1026.7 539.7 1035 506.7 1040 480C1045 453.3 1048.3 393.3 1052 400C1055.7 406.7 1061.3 478.3 1062 520C1062.7 561.7 1056.3 603.3 1056 650C1055.7 696.7 1057.7 758.3 1060 800C1062.3 841.7 1072 873 1070 900C1068 927 1049.7 945 1048 962C1046.3 979 1052.7 995.3 1060 1002C1067.3 1008.7 1085 1012.3 1092 1002C1099 991.7 1098.7 973.7 1102 940C1105.3 906.3 1108.7 848.3 1112 800C1115.3 751.7 1118.2 686.3 1122 650C1125.8 613.7 1130.3 582 1135 582C1139.7 582 1145.8 613.7 1150 650C1154.2 686.3 1156.7 751.7 1160 800C1163.3 848.3 1166.7 906.3 1170 940C1173.3 973.7 1172.5 991.7 1180 1002C1187.5 1012.3 1208 1008.7 1215 1002C1222 995.3 1224.2 979 1222 962C1219.8 945 1204 927 1202 900C1200 873 1207.8 841.7 1210 800C1212.2 758.3 1215 696.7 1215 650C1215 603.3 1209.2 561.7 1210 520C1210.8 478.3 1216.3 406.7 1220 400C1223.7 393.3 1227 453.3 1232 480C1237 506.7 1244.5 539.7 1250 560C1255.5 580.3 1258.3 595 1265 602C1271.7 609 1283.8 607 1290 602C1296.2 597 1302 582.3 1302 572C1302 561.7 1296 552 1290 540C1284 528 1271.7 520 1266 500C1260.3 480 1258.7 450 1256 420C1253.3 390 1252.7 348.3 1250 320C1247.3 291.7 1246.7 265.8 1240 250C1233.3 234.2 1223.3 231.7 1210 225C1196.7 218.3 1176.7 212.5 1160 210C1143.3 207.5 1126.7 207.5 1110 210Z"/></g>
<g transform="translate(675 1070) scale(0.07337)"><g fill="none" stroke="#555" stroke-width="13" opacity="0.85"><path d="M430 330 L120 530"/><path d="M420 370 L110 590"/><path d="M400 260 L330 330 L250 560"/><path d="M580 360 L590 500 L660 620"/><path d="M600 370 L640 480 L690 540"/><path d="M870 450 Q1000 560 1290 610"/><path d="M960 470 Q1100 530 1280 570"/><path d="M720 240 L740 210 L770 260"/><path d="M400 250 L270 270" opacity="0.5"/></g><path d="M440 300 L480 240 L560 200 L580 188 L592 230 L700 250 L820 280 L950 300 L958 322 L850 322 L900 370 L992 440 L982 472 L900 452 L780 402 L650 362 L600 352 L550 382 L480 382 L420 392 L380 422 L360 402 L420 352Z" fill="#333"/></g>
<polygon points="131.6,139 221.2,154 291,279 177,288" fill="#eaf1fb"/>
<polygon points="233.6,124.9 247.3,112.8 282.5,138.4 291,279 196,222" fill="#eaf1fb"/>
<polygon points="313.7,110.4 320.9,110.4 344.1,150.5 291,279 243.2,177.7" fill="#eaf1fb"/>
<polygon points="459,122 403.5,284 291,279 295,167" fill="#eaf1fb"/>
<path d="M131.6 139L221.2 154M131.6 139L177 288M233.6 124.9L196 222M247.3 112.8L282.5 138.4M313.7 110.4L243.2 177.7M320.9 110.4L344.1 150.5M459 122L295 167M459 122L403.5 284" stroke="#8eaadb" stroke-width="2.4" fill="none"/>
<path d="M227.9 322.8A109 109 0 0 0 349.5 503.1L356.7 485.8A107.6 107.6 0 0 1 236.7 307.8Z" fill="#b9b9b9"/>
<path d="M397.7 456.8 L328 480 L373.7 526.5 Z" fill="#b9b9b9"/>
<circle cx="291.8" cy="280.2" r="112.3" fill="#fff" stroke="#3f6699" stroke-width="1.4"/>
<path transform="translate(222 230.5) rotate(46)" d="M-2.6 24L-2.6 0L-21.8 -16.1M2.6 24L2.6 0L21.8 -16.1M-14.5 -2.2L-25.6 -11.5M14.5 -2.2L25.6 -11.5" fill="none" stroke="#3b1f7d" stroke-width="3.3" stroke-linecap="round" stroke-linejoin="round"/>
<path transform="translate(319.2 221.1) rotate(49)" d="M-2.6 31L-2.6 0L-24 -18M2.6 31L2.6 0L24 -18M-15.5 -3L-27.9 -13.4M15.5 -3L27.9 -13.4" fill="none" stroke="#3b1f7d" stroke-width="3.3" stroke-linecap="round" stroke-linejoin="round"/>
<path transform="translate(358.4 268.2) rotate(-32)" d="M-2.6 24L-2.6 0L-21 -15.4M2.6 24L2.6 0L21 -15.4M-14.2 -1.9L-24.8 -10.8M14.2 -1.9L24.8 -10.8" fill="none" stroke="#3b1f7d" stroke-width="3.3" stroke-linecap="round" stroke-linejoin="round"/>
<path transform="translate(236.1 326.2) rotate(47)" d="M-2.6 24L-2.6 0L-21.8 -16.1M2.6 24L2.6 0L21.8 -16.1M-14.5 -2.2L-25.6 -11.5M14.5 -2.2L25.6 -11.5" fill="none" stroke="#3b1f7d" stroke-width="3.3" stroke-linecap="round" stroke-linejoin="round"/>
<path transform="translate(300.4 326.2) rotate(12)" d="M-2.6 30L-2.6 0L-24 -18M2.6 30L2.6 0L24 -18M-15.5 -3L-27.9 -13.4M15.5 -3L27.9 -13.4" fill="none" stroke="#3b1f7d" stroke-width="3.3" stroke-linecap="round" stroke-linejoin="round"/>
<path transform="translate(264.4 210.2) rotate(10)" d="M-1.5 15L-1.5 0L-13 -9.6M1.5 15L1.5 0L13 -9.6M-8.5 -1.4L-15.2 -7M8.5 -1.4L15.2 -7" fill="none" stroke="#6a52a8" stroke-width="1.7" stroke-linecap="round" stroke-linejoin="round"/>
<path transform="translate(222 272.9) rotate(-180)" d="M-1.5 15L-1.5 0L-13 -9.6M1.5 15L1.5 0L13 -9.6M-8.5 -1.4L-15.2 -7M8.5 -1.4L15.2 -7" fill="none" stroke="#6a52a8" stroke-width="1.7" stroke-linecap="round" stroke-linejoin="round"/>
<path transform="translate(267.5 266.6) rotate(87)" d="M-1.5 15L-1.5 0L-13 -9.6M1.5 15L1.5 0L13 -9.6M-8.5 -1.4L-15.2 -7M8.5 -1.4L15.2 -7" fill="none" stroke="#6a52a8" stroke-width="1.7" stroke-linecap="round" stroke-linejoin="round"/>
<path transform="translate(314.5 283.8) rotate(60)" d="M-1.5 15L-1.5 0L-13 -9.6M1.5 15L1.5 0L13 -9.6M-8.5 -1.4L-15.2 -7M8.5 -1.4L15.2 -7" fill="none" stroke="#6a52a8" stroke-width="1.7" stroke-linecap="round" stroke-linejoin="round"/>
<path transform="translate(356.8 338.7) rotate(86)" d="M-1.5 15L-1.5 0L-13 -9.6M1.5 15L1.5 0L13 -9.6M-8.5 -1.4L-15.2 -7M8.5 -1.4L15.2 -7" fill="none" stroke="#6a52a8" stroke-width="1.7" stroke-linecap="round" stroke-linejoin="round"/>
<path transform="translate(156.06 57.1) scale(-0.0996 0.0997)" d="M170 430C188.3 412 221.7 383.7 260 372C298.3 360.3 350 357 400 360C450 363 513.3 384.2 560 390C606.7 395.8 643.3 401.7 680 395C716.7 388.3 743.3 367.5 780 350C816.7 332.5 860 310.8 900 290C940 269.2 980 245 1020 225C1060 205 1105 184.2 1140 170C1175 155.8 1208.7 153 1230 140C1251.3 127 1257.2 102.3 1268 92C1278.8 81.7 1289.3 71.7 1295 78C1300.7 84.3 1294.5 103 1302 130C1309.5 157 1325.3 210 1340 240C1354.7 270 1379.7 290 1390 310C1400.3 330 1405 347.2 1402 360C1399 372.8 1384 384.2 1372 387C1360 389.8 1347 384.5 1330 377C1313 369.5 1293.3 351.2 1270 342C1246.7 332.8 1215 315.7 1190 322C1165 328.3 1141.7 355.3 1120 380C1098.3 404.7 1076.7 436.7 1060 470C1043.3 503.3 1031.7 545 1020 580C1008.3 615 1001.7 650 990 680C978.3 710 961.7 735 950 760C938.3 785 927.5 801.7 920 830C912.5 858.3 908.3 893.3 905 930C901.7 966.7 895.8 1016.7 900 1050C904.2 1083.3 913 1108.7 930 1130C947 1151.3 991.7 1166.8 1002 1178C1012.3 1189.2 1004 1194.7 992 1197C980 1199.3 947.8 1204.8 930 1192C912.2 1179.2 895 1147 885 1120C875 1093 874.2 1070 870 1030C865.8 990 863.3 913.3 860 880C856.7 846.7 855 826.7 850 830C845 833.3 837.5 868.3 830 900C822.5 931.7 810 985 805 1020C800 1055 795.5 1088.3 800 1110C804.5 1131.7 830.3 1141.3 832 1150C833.7 1158.7 820.3 1161.7 810 1162C799.7 1162.3 778.3 1170.7 770 1152C761.7 1133.3 760 1087 760 1050C760 1013 766.7 978.3 770 930C773.3 881.7 781.7 793.3 780 760C778.3 726.7 781.7 734.2 760 730C738.3 725.8 690 740 650 735C610 730 558.3 714.2 520 700C481.7 685.8 443.3 646.7 420 650C396.7 653.3 393.3 690 380 720C366.7 750 350 791.7 340 830C330 868.3 321.7 908.3 320 950C318.3 991.7 321.3 1050 330 1080C338.7 1110 368.3 1118 372 1130C375.7 1142 364 1150 352 1152C340 1154 312 1159 300 1142C288 1125 285 1090.3 280 1050C275 1009.7 275 931.7 270 900C265 868.3 256.7 855 250 860C243.3 865 231.7 898.3 230 930C228.3 961.7 229.7 1013.3 240 1050C250.3 1086.7 283.3 1128.8 292 1150C300.7 1171.2 300.7 1173.3 292 1177C283.3 1180.7 255.3 1184.8 240 1172C224.7 1159.2 210 1132 200 1100C190 1068 185 1003.3 180 980C175 956.7 173.3 951.7 170 960C166.7 968.3 166.7 1009.7 160 1030C153.3 1050.3 141.2 1075.8 130 1082C118.8 1088.2 96.7 1089 93 1067C89.3 1045 102.2 994.5 108 950C113.8 905.5 123.5 858.3 128 800C132.5 741.7 131.3 653.3 135 600C138.7 546.7 144.2 508.3 150 480C155.8 451.7 151.7 448 170 430Z" fill="#404040"/>
<g transform="translate(231.6 88) scale(1.13)"><g fill="none" stroke="#3a3a3a" stroke-width="2.3" stroke-linecap="round"><path d="M4 -8 Q17 -14 13 -21"/><path d="M5.5 -4 Q16 -10 25 -8.5"/><path d="M7 2 Q19 3 30 10.5"/><path d="M9 14 Q17 20 16.5 38"/><path d="M-4 -8 Q-17 -14 -13 -21"/><path d="M-5.5 -4 Q-16 -10 -25 -8.5"/><path d="M-7 2 Q-19 3 -30 10.5"/><path d="M-9 14 Q-17 20 -16.5 38"/></g><g fill="#3a3a3a"><path d="M0 -7 C11 -7 14 6 13.5 16 C13 27 6 32.5 -0.5 32.5 C-7 32.5 -14 27 -14.5 16 C-15 6 -11 -7 0 -7Z"/><path d="M-4 -14 L3.5 -14 L4.5 -5 L-5 -5Z"/><rect x="-2" y="-19" width="4" height="7" rx="1.5"/></g></g>
<g transform="translate(280 60) scale(0.08006)"><g fill="none" stroke="#3a3a3a" stroke-width="11" opacity="0.9"><path d="M460 470 L380 400 L320 600 L200 720 L60 780"/><path d="M450 490 L370 450 L280 650 L50 860"/><path d="M600 550 L640 700 L740 860"/><path d="M620 560 L660 680 L750 750"/><path d="M1080 450 Q1250 420 1360 200"/><path d="M1060 580 Q1300 520 1440 320"/><path d="M650 380 L700 310 L780 390"/><path d="M400 590 L210 590" opacity="0.5"/></g><path d="M440 520 L470 420 L540 360 L606 326 L620 380 L700 400 L830 410 L1000 430 L1082 452 L1060 472 L960 472 L1000 510 L1060 580 L1142 630 L1100 652 L960 657 L830 642 L720 592 L640 542 L580 582 L540 602 L480 582Z" fill="#333"/><ellipse cx="425" cy="595" rx="36" ry="46" fill="#333"/><path d="M420 610 L450 780 L462 610Z" fill="#333"/></g>
<g transform="translate(453.5 13.8) scale(0.2012) translate(-968 -68)" fill="#3a3a3a"><ellipse cx="1135" cy="132" rx="50" ry="64"/><rect x="1112" y="180" width="46" height="45"/><path d="M1110 210C1093.3 212.5 1073.3 218.3 1060 225C1046.7 231.7 1036.7 234.2 1030 250C1023.3 265.8 1023.3 291.7 1020 320C1016.7 348.3 1013.3 390 1010 420C1006.7 450 1005.8 480 1000 500C994.2 520 980.3 528 975 540C969.7 552 965.5 561.7 968 572C970.5 582.3 982.7 597 990 602C997.3 607 1006.7 609 1012 602C1017.3 595 1017.3 580.3 1022 560C1026.7 539.7 1035 506.7 1040 480C1045 453.3 1048.3 393.3 1052 400C1055.7 406.7 1061.3 478.3 1062 520C1062.7 561.7 1056.3 603.3 1056 650C1055.7 696.7 1057.7 758.3 1060 800C1062.3 841.7 1072 873 1070 900C1068 927 1049.7 945 1048 962C1046.3 979 1052.7 995.3 1060 1002C1067.3 1008.7 1085 1012.3 1092 1002C1099 991.7 1098.7 973.7 1102 940C1105.3 906.3 1108.7 848.3 1112 800C1115.3 751.7 1118.2 686.3 1122 650C1125.8 613.7 1130.3 582 1135 582C1139.7 582 1145.8 613.7 1150 650C1154.2 686.3 1156.7 751.7 1160 800C1163.3 848.3 1166.7 906.3 1170 940C1173.3 973.7 1172.5 991.7 1180 1002C1187.5 1012.3 1208 1008.7 1215 1002C1222 995.3 1224.2 979 1222 962C1219.8 945 1204 927 1202 900C1200 873 1207.8 841.7 1210 800C1212.2 758.3 1215 696.7 1215 650C1215 603.3 1209.2 561.7 1210 520C1210.8 478.3 1216.3 406.7 1220 400C1223.7 393.3 1227 453.3 1232 480C1237 506.7 1244.5 539.7 1250 560C1255.5 580.3 1258.3 595 1265 602C1271.7 609 1283.8 607 1290 602C1296.2 597 1302 582.3 1302 572C1302 561.7 1296 552 1290 540C1284 528 1271.7 520 1266 500C1260.3 480 1258.7 450 1256 420C1253.3 390 1252.7 348.3 1250 320C1247.3 291.7 1246.7 265.8 1240 250C1233.3 234.2 1223.3 231.7 1210 225C1196.7 218.3 1176.7 212.5 1160 210C1143.3 207.5 1126.7 207.5 1110 210Z"/></g>
<path d="M156 66 Q286 -24 417 66" fill="none" stroke="#111" stroke-width="2.6"/>
<path d="M144.7 71.9 L151 56.5 L163 67.5 Z" fill="#111"/>
<path d="M427 71 L410 66 L421 54.5 Z" fill="#111"/>
<rect x="61.8" y="237.4" width="22.9" height="12" rx="1.5" fill="#3338a0"/>
<line x1="38.4" y1="287.2" x2="107.5" y2="287.2" stroke="#333" stroke-width="1.5"/>
<rect x="61.8" y="280.6" width="22.9" height="12" rx="1.5" fill="#3338a0"/>
<path d="M94.9 247 Q110 262 97 276" fill="none" stroke="#222" stroke-width="1.3"/><path d="M93.5 279 L94 270.5 L100.5 275 Z" fill="#222"/>
<path d="M53.4 295 Q38 310 51.5 323" fill="none" stroke="#222" stroke-width="1.3"/><path d="M55 326.5 L47 323.5 L53 318 Z" fill="#222"/>
<g transform="translate(80.2 349.7)"><g transform="rotate(0)"><path d="M-16.4 20.1L-27.6 37.9M-16.4 20.1L-30.4 36.3M-16.4 20.1L-33.2 34.6M-16.4 20.1L-36 33M16.4 20.1L27.6 37.9M16.4 20.1L30.4 36.3M16.4 20.1L33.2 34.6M16.4 20.1L36 33" fill="none" stroke="#c69ae0" stroke-width="0.8"/><path d="M-18.7 19.7L0 26.2L18.7 19.7" fill="none" stroke="#9b55c4" stroke-width="1.9"/><rect x="-3" y="22.9" width="6.1" height="7" fill="#f0a8be"/><polygon points="0 -23.4 20.3 -11.7 20.3 11.7 0 23.4 -20.3 11.7 -20.3 -11.7" fill="#fde9e9" stroke="#d0312d" stroke-width="2" stroke-linejoin="round"/></g><line x1="-12.5" y1="7.4" x2="12.5" y2="-7.4" stroke="#555" stroke-width="0.8"/><rect x="-4.7" y="-2.3" width="9.4" height="4.7" rx="1.4" fill="#3338a0" transform="rotate(-30.6)"/><path d="M0 -4.2L1.2 -1.5L4.1 -1.3L1.9 0.6L2.6 3.5L0 2L-2.6 3.5L-1.9 0.6L-4.1 -1.3L-1.2 -1.5Z" transform="translate(-11.3 -23.7) scale(1.2)" fill="#2a3aa8"/><path d="M0 -4.2L1.2 -1.5L4.1 -1.3L1.9 0.6L2.6 3.5L0 2L-2.6 3.5L-1.9 0.6L-4.1 -1.3L-1.2 -1.5Z" transform="translate(-25.9 -4.1) scale(1.2)" fill="#2a3aa8"/><path d="M0 -4.2L1.2 -1.5L4.1 -1.3L1.9 0.6L2.6 3.5L0 2L-2.6 3.5L-1.9 0.6L-4.1 -1.3L-1.2 -1.5Z" transform="translate(25.2 -7.2) scale(1.2)" fill="#2a3aa8"/></g>
<g transform="translate(57.9 446.2)"><g transform="rotate(7)"><path d="M-15.1 18.6L-25.5 35M-15.1 18.6L-28.1 33.5M-15.1 18.6L-30.7 32M-15.1 18.6L-33.3 30.5M15.1 18.6L25.5 35M15.1 18.6L28.1 33.5M15.1 18.6L30.7 32M15.1 18.6L33.3 30.5" fill="none" stroke="#c69ae0" stroke-width="0.8"/><path d="M-17.3 18.1L0 24.2L17.3 18.1" fill="none" stroke="#9b55c4" stroke-width="1.7"/><rect x="-2.8" y="21.2" width="5.6" height="6.5" fill="#f0a8be"/><polygon points="0 -21.6 18.7 -10.8 18.7 10.8 0 21.6 -18.7 10.8 -18.7 -10.8" fill="#fde9e9" stroke="#d0312d" stroke-width="1.8" stroke-linejoin="round"/></g><line x1="-12.4" y1="5" x2="12.4" y2="-5" stroke="#555" stroke-width="0.8"/><rect x="-4.3" y="-2.2" width="8.6" height="4.3" rx="1.3" fill="#2a3aa8" transform="rotate(-21.8)"/><path d="M0 -4.2L1.2 -1.5L4.1 -1.3L1.9 0.6L2.6 3.5L0 2L-2.6 3.5L-1.9 0.6L-4.1 -1.3L-1.2 -1.5Z" transform="translate(-6.9 -23.2) scale(1.1)" fill="#2a3aa8"/><path d="M0 -4.2L1.2 -1.5L4.1 -1.3L1.9 0.6L2.6 3.5L0 2L-2.6 3.5L-1.9 0.6L-4.1 -1.3L-1.2 -1.5Z" transform="translate(-23.1 -7.1) scale(1.1)" fill="#2a3aa8"/><path d="M0 -4.2L1.2 -1.5L4.1 -1.3L1.9 0.6L2.6 3.5L0 2L-2.6 3.5L-1.9 0.6L-4.1 -1.3L-1.2 -1.5Z" transform="translate(23.9 -3.5) scale(1.1)" fill="#2a3aa8"/></g>
<path transform="translate(94.9 436) rotate(45)" d="M-2 11L-2 0L-12 -8.4M2 11L2 0L12 -8.4M-9.1 0L-14.9 -4.8M9.1 0L14.9 -4.8" fill="none" stroke="#3b1f7d" stroke-width="2.3" stroke-linecap="round" stroke-linejoin="round"/>
<g transform="translate(127.9 479.2)"><g transform="rotate(13)"><path d="M-15.1 18.6L-25.5 35M-15.1 18.6L-28.1 33.5M-15.1 18.6L-30.7 32M-15.1 18.6L-33.3 30.5M15.1 18.6L25.5 35M15.1 18.6L28.1 33.5M15.1 18.6L30.7 32M15.1 18.6L33.3 30.5" fill="none" stroke="#c69ae0" stroke-width="0.8"/><path d="M-17.3 18.1L0 24.2L17.3 18.1" fill="none" stroke="#9b55c4" stroke-width="1.7"/><rect x="-2.8" y="21.2" width="5.6" height="6.5" fill="#f0a8be"/><polygon points="0 -21.6 18.7 -10.8 18.7 10.8 0 21.6 -18.7 10.8 -18.7 -10.8" fill="#fde9e9" stroke="#d0312d" stroke-width="1.8" stroke-linejoin="round"/></g><line x1="-9.6" y1="-9.3" x2="9.6" y2="9.3" stroke="#555" stroke-width="0.8"/><rect x="-4.3" y="-2.2" width="8.6" height="4.3" rx="1.3" fill="#4b8a46" transform="rotate(44)"/><circle cx="-21.2" cy="-11.7" r="3.5" fill="#4b8a46" stroke="#3d6b3a" stroke-width="0.6"/><circle cx="15" cy="-19" r="3.5" fill="#4b8a46" stroke="#3d6b3a" stroke-width="0.6"/><circle cx="24.1" cy="2.5" r="3.5" fill="#4b8a46" stroke="#3d6b3a" stroke-width="0.6"/></g>
<g transform="translate(54.6 514.7)"><g transform="rotate(-8)"><path d="M-15.1 18.6L-25.5 35M-15.1 18.6L-28.1 33.5M-15.1 18.6L-30.7 32M-15.1 18.6L-33.3 30.5M15.1 18.6L25.5 35M15.1 18.6L28.1 33.5M15.1 18.6L30.7 32M15.1 18.6L33.3 30.5" fill="none" stroke="#c69ae0" stroke-width="0.8"/><path d="M-17.3 18.1L0 24.2L17.3 18.1" fill="none" stroke="#9b55c4" stroke-width="1.7"/><rect x="-2.8" y="21.2" width="5.6" height="6.5" fill="#f0a8be"/><polygon points="0 -21.6 18.7 -10.8 18.7 10.8 0 21.6 -18.7 10.8 -18.7 -10.8" fill="#fde9e9" stroke="#d0312d" stroke-width="1.8" stroke-linejoin="round"/></g><line x1="-12.3" y1="-5.4" x2="12.3" y2="5.4" stroke="#555" stroke-width="0.8"/><rect x="-4.3" y="-2.2" width="8.6" height="4.3" rx="1.3" fill="#f0b030" transform="rotate(23.7)"/><rect x="4.5" y="-25.7" width="5.2" height="5.2" fill="#f0b030" stroke="#c98a1c" stroke-width="0.6" transform="rotate(45 7.1 -23.1)"/><rect x="20.8" y="-8.9" width="5.2" height="5.2" fill="#f0b030" stroke="#c98a1c" stroke-width="0.6" transform="rotate(45 23.4 -6.3)"/><rect x="-26.6" y="-5.5" width="5.2" height="5.2" fill="#f0b030" stroke="#c98a1c" stroke-width="0.6" transform="rotate(45 -24 -2.9)"/></g>
<path transform="translate(13.2 508) rotate(-68)" d="M-2 11L-2 0L-12 -8.4M2 11L2 0L12 -8.4M-9.1 0L-14.9 -4.8M9.1 0L14.9 -4.8" fill="none" stroke="#3b1f7d" stroke-width="2.3" stroke-linecap="round" stroke-linejoin="round"/>
<g transform="translate(121.3 554.3)"><g transform="rotate(-11)"><path d="M-15.1 18.6L-25.5 35M-15.1 18.6L-28.1 33.5M-15.1 18.6L-30.7 32M-15.1 18.6L-33.3 30.5M15.1 18.6L25.5 35M15.1 18.6L28.1 33.5M15.1 18.6L30.7 32M15.1 18.6L33.3 30.5" fill="none" stroke="#c69ae0" stroke-width="0.8"/><path d="M-17.3 18.1L0 24.2L17.3 18.1" fill="none" stroke="#9b55c4" stroke-width="1.7"/><rect x="-2.8" y="21.2" width="5.6" height="6.5" fill="#f0a8be"/><polygon points="0 -21.6 18.7 -10.8 18.7 10.8 0 21.6 -18.7 10.8 -18.7 -10.8" fill="#fde9e9" stroke="#d0312d" stroke-width="1.8" stroke-linejoin="round"/></g><line x1="-12.6" y1="-4.4" x2="12.6" y2="4.4" stroke="#555" stroke-width="0.8"/><rect x="-4.3" y="-2.2" width="8.6" height="4.3" rx="1.3" fill="#d040a0" transform="rotate(19.4)"/><path d="M2 -26.2L8.4 -26.2L5.2 -20.4Z" fill="#c03aa0" transform="rotate(12.4 5.2 -23.6)"/><path d="M19.2 -11.7L25.7 -11.7L22.4 -5.8Z" fill="#c03aa0" transform="rotate(68 22.4 -9.1)"/><path d="M-27.4 -3.9L-20.9 -3.9L-24.2 2Z" fill="#c03aa0" transform="rotate(-87 -24.2 -1.3)"/></g>
<path transform="translate(72 577.7) rotate(20)" d="M-1.8 12L-1.8 0L-11 -7.7M1.8 12L1.8 0L11 -7.7M-8.3 -0.1L-13.7 -4.5M8.3 -0.1L13.7 -4.5" fill="none" stroke="#3b1f7d" stroke-width="2.2" stroke-linecap="round" stroke-linejoin="round"/>
<defs><radialGradient id="bead" cx="0.42" cy="0.38" r="0.62"><stop offset="0" stop-color="#dcdcdc"/><stop offset="0.75" stop-color="#cfcfcf"/><stop offset="1" stop-color="#b3b3b3"/></radialGradient></defs>
<path transform="translate(264.9 548.1) rotate(-45)" d="M-1.8 12L-1.8 0L-11 -7.7M1.8 12L1.8 0L11 -7.7M-8.3 -0.1L-13.7 -4.5M8.3 -0.1L13.7 -4.5" fill="none" stroke="#3b1f7d" stroke-width="2.2" stroke-linecap="round" stroke-linejoin="round"/>
<path transform="translate(332.1 549.7) rotate(50)" d="M-1.8 12L-1.8 0L-11 -7.7M1.8 12L1.8 0L11 -7.7M-8.3 -0.1L-13.7 -4.5M8.3 -0.1L13.7 -4.5" fill="none" stroke="#3b1f7d" stroke-width="2.2" stroke-linecap="round" stroke-linejoin="round"/>
<path transform="translate(296.9 636.2) rotate(-180)" d="M-1.8 12L-1.8 0L-11.8 -8.4M1.8 12L1.8 0L11.8 -8.4M-8.6 -0.3L-14.4 -5.2M8.6 -0.3L14.4 -5.2" fill="none" stroke="#3b1f7d" stroke-width="2.2" stroke-linecap="round" stroke-linejoin="round"/>
<circle cx="296.9" cy="584.1" r="36.5" fill="url(#bead)" stroke="#8a8a8a" stroke-width="1.6"/>
<circle cx="289" cy="569" r="6" fill="#e4e4e4"/>
<g transform="translate(226.4 553.7)"><g transform="rotate(0)"><path d="M-13.6 16.8L-23 31.6M-13.6 16.8L-25.3 30.2M-13.6 16.8L-27.7 28.9M-13.6 16.8L-30 27.5M13.6 16.8L23 31.6M13.6 16.8L25.3 30.2M13.6 16.8L27.7 28.9M13.6 16.8L30 27.5" fill="none" stroke="#c69ae0" stroke-width="0.8"/><path d="M-15.6 16.4L0 21.8L15.6 16.4" fill="none" stroke="#9b55c4" stroke-width="1.6"/><rect x="-2.5" y="19.1" width="5.1" height="5.8" fill="#f0a8be"/><polygon points="0 -19.5 16.9 -9.7 16.9 9.7 0 19.5 -16.9 9.7 -16.9 -9.8" fill="#fde9e9" stroke="#d0312d" stroke-width="1.7" stroke-linejoin="round"/></g><line x1="-10.4" y1="6.2" x2="10.4" y2="-6.2" stroke="#555" stroke-width="0.8"/><rect x="-3.9" y="-2" width="7.8" height="3.9" rx="1.2" fill="#2a3aa8" transform="rotate(-30.7)"/><path d="M0 -4.2L1.2 -1.5L4.1 -1.3L1.9 0.6L2.6 3.5L0 2L-2.6 3.5L-1.9 0.6L-4.1 -1.3L-1.2 -1.5Z" transform="translate(-9.6 -19.6) scale(1)" fill="#2a3aa8"/><path d="M0 -4.2L1.2 -1.5L4.1 -1.3L1.9 0.6L2.6 3.5L0 2L-2.6 3.5L-1.9 0.6L-4.1 -1.3L-1.2 -1.5Z" transform="translate(-21.8 -0.8) scale(1)" fill="#2a3aa8"/><path d="M0 -4.2L1.2 -1.5L4.1 -1.3L1.9 0.6L2.6 3.5L0 2L-2.6 3.5L-1.9 0.6L-4.1 -1.3L-1.2 -1.5Z" transform="translate(20.9 -6.2) scale(1)" fill="#2a3aa8"/></g>
<g transform="translate(371.3 565.7)"><g transform="rotate(12)"><path d="M-13.6 16.8L-23 31.6M-13.6 16.8L-25.3 30.2M-13.6 16.8L-27.7 28.9M-13.6 16.8L-30 27.5M13.6 16.8L23 31.6M13.6 16.8L25.3 30.2M13.6 16.8L27.7 28.9M13.6 16.8L30 27.5" fill="none" stroke="#c69ae0" stroke-width="0.8"/><path d="M-15.6 16.4L0 21.8L15.6 16.4" fill="none" stroke="#9b55c4" stroke-width="1.6"/><rect x="-2.5" y="19.1" width="5.1" height="5.8" fill="#f0a8be"/><polygon points="0 -19.5 16.9 -9.7 16.9 9.7 0 19.5 -16.9 9.7 -16.9 -9.8" fill="#fde9e9" stroke="#d0312d" stroke-width="1.7" stroke-linejoin="round"/></g><line x1="-8.9" y1="-8.2" x2="8.9" y2="8.2" stroke="#555" stroke-width="0.8"/><rect x="-3.9" y="-2" width="7.8" height="3.9" rx="1.2" fill="#f0b030" transform="rotate(42.8)"/><rect x="-20.4" y="-14.6" width="4.7" height="4.7" fill="#f0b030" stroke="#c98a1c" stroke-width="0.6" transform="rotate(45 -18.1 -12.2)"/><rect x="10.5" y="-20" width="4.7" height="4.7" fill="#f0b030" stroke="#c98a1c" stroke-width="0.6" transform="rotate(45 12.8 -17.7)"/><rect x="19.4" y="-0.8" width="4.7" height="4.7" fill="#f0b030" stroke="#c98a1c" stroke-width="0.6" transform="rotate(45 21.8 1.5)"/></g>
<polygon points="456,331 469.7,323.5 499.1,324.5 502.2,358.8 486.7,420.7 480.5,423.8 463.5,411.5 456,402.2" fill="#dfe2e5"/>
<polygon points="456,331 468.1,327.1 472.8,417.6 463.5,411.5 456,402.2" fill="#b9bec3"/>
<polygon points="492.9,323.5 505.3,314.9 559.4,317 564.1,358.8 502.2,358.8" fill="#3a3a3a"/>
<polygon points="510.2,320.1 551.7,321.1 554.2,352.6 513,353.6" fill="#dbeef5"/>
<polygon points="504.5,356 564.4,356.7 564.4,358.5 504.5,358.5" fill="#63b5b0"/>
<polygon points="476.8,358.8 579.6,359.1 579.6,415.8 554.8,417.6 486.7,420.7 480.5,414.6" fill="#4d4d4d"/>
<polygon points="548.6,359.6 579.6,359.6 579.6,415.3 549.4,416.9" fill="#5a5a5a"/>
<polygon points="545.5,365 548.6,365 549.4,416.9 517.6,419.2" fill="#555555"/>
<polygon points="477.4,359.1 579.6,359.4 579.6,366.6 478.2,366.3" fill="#5c5c5c"/>
<circle cx="491.3" cy="363.5" r="1.6" fill="#3c8c8a"/>
<path d="M457 335.6L466.9 334.4M457 339L466.9 337.8M457 342.4L466.9 341.2M457 345.8L466.9 344.6M457 349.2L466.9 348M457 386.7L468.9 389M457 390.1L468.9 392.4M457 393.5L468.9 395.8M457 396.9L468.9 399.2M457 400.3L468.9 402.6M457 403.7L468.9 406" stroke="#9ea3a8" stroke-width="1"/>
<polygon points="480.5,422.3 489,422.3 488.2,425.1 481.3,425.1" fill="#222"/>
<polygon points="418.9,519.8 449.5,482.4 514.6,489.2 528.5,476.5 523.8,512.1 486.7,561.6 423.2,537.2" fill="#d7d7d7"/>
<polygon points="423.2,536.8 486.7,561.6 523.8,512.1 523.8,519.8 486.7,547.7 421.7,527.6" fill="#c3c3c3"/>
<polygon points="443.3,474.9 472.8,459.4 528.5,468 528.5,476.5 506.8,490.4 443.3,480.3" fill="#ebebeb" stroke="#d0d0d0" stroke-width="1"/>
<polygon points="427.1,518.3 449.5,490.4 499.8,502 480.5,534.5" fill="#6b86c3"/>
<polygon points="450.3,495.4 491.6,504 488.2,511.3 448.8,502.5" fill="#c5e9f0"/>
<text transform="translate(444.1 519) rotate(13)" font-size="13" fill="#3d5a9a" font-style="italic">PCR</text>
</svg></body></html>
